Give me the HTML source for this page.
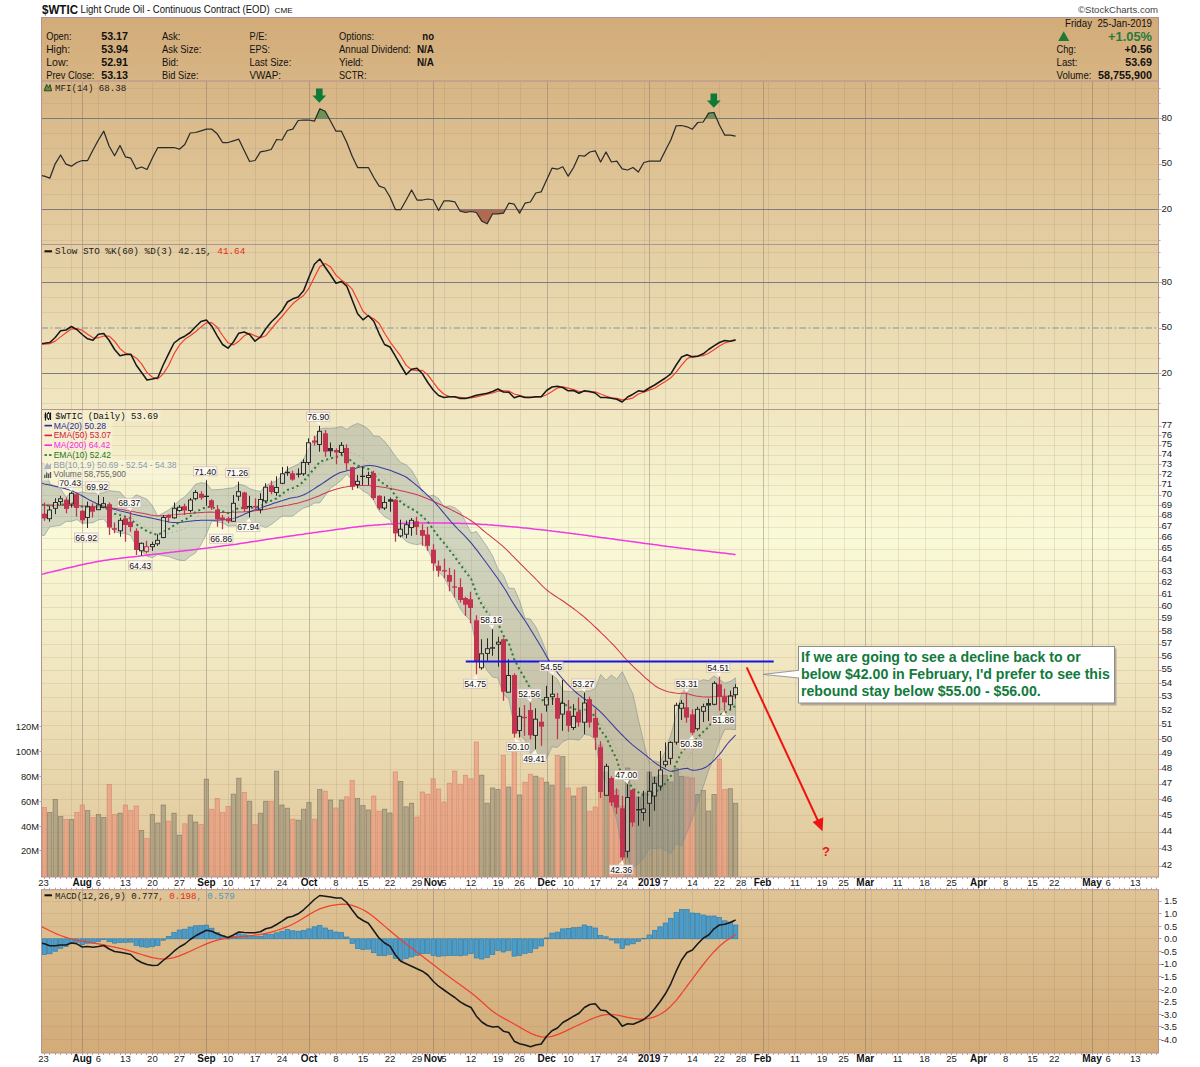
<!DOCTYPE html>
<html><head><meta charset="utf-8"><title>$WTIC</title>
<style>html,body{margin:0;padding:0;background:#fff;}body{width:1200px;height:1067px;overflow:hidden;font-family:"Liberation Sans",sans-serif;}text,.s{font-family:"Liberation Sans",sans-serif;}.m{font-family:"Liberation Mono",monospace;}</style></head>
<body>
<svg width="1200" height="1067" viewBox="0 0 1200 1067" style="display:block">
<defs>
<linearGradient id="bg" gradientUnits="userSpaceOnUse" x1="0" y1="17" x2="0" y2="1053">
<stop offset="0" stop-color="#d2ab78"/>
<stop offset="0.5" stop-color="#fafad8"/>
<stop offset="1" stop-color="#d2ab78"/>
</linearGradient>
<clipPath id="cpPrice"><rect x="41.5" y="409.5" width="1117" height="467.5"/></clipPath>
</defs>
<rect x="0" y="0" width="1200" height="1067" fill="#fff"/>
<rect x="41.5" y="17.5" width="1117" height="1035.5" fill="url(#bg)"/>
<rect x="40.5" y="877" width="1119" height="12.7" fill="#fff"/>
<line x1="71.5" y1="81.5" x2="71.5" y2="877" stroke="rgba(140,118,98,0.17)" stroke-width="1"/>
<line x1="82.5" y1="81.5" x2="82.5" y2="877" stroke="rgba(112,100,95,0.38)" stroke-width="1"/>
<line x1="98.5" y1="81.5" x2="98.5" y2="877" stroke="rgba(140,118,98,0.17)" stroke-width="1"/>
<line x1="125.5" y1="81.5" x2="125.5" y2="877" stroke="rgba(140,118,98,0.17)" stroke-width="1"/>
<line x1="152.5" y1="81.5" x2="152.5" y2="877" stroke="rgba(140,118,98,0.17)" stroke-width="1"/>
<line x1="179.5" y1="81.5" x2="179.5" y2="877" stroke="rgba(140,118,98,0.17)" stroke-width="1"/>
<line x1="206.5" y1="81.5" x2="206.5" y2="877" stroke="rgba(112,100,95,0.38)" stroke-width="1"/>
<line x1="228.5" y1="81.5" x2="228.5" y2="877" stroke="rgba(140,118,98,0.17)" stroke-width="1"/>
<line x1="255.5" y1="81.5" x2="255.5" y2="877" stroke="rgba(140,118,98,0.17)" stroke-width="1"/>
<line x1="282.5" y1="81.5" x2="282.5" y2="877" stroke="rgba(140,118,98,0.17)" stroke-width="1"/>
<line x1="309.5" y1="81.5" x2="309.5" y2="877" stroke="rgba(112,100,95,0.38)" stroke-width="1"/>
<line x1="336.5" y1="81.5" x2="336.5" y2="877" stroke="rgba(140,118,98,0.17)" stroke-width="1"/>
<line x1="363.5" y1="81.5" x2="363.5" y2="877" stroke="rgba(140,118,98,0.17)" stroke-width="1"/>
<line x1="390.5" y1="81.5" x2="390.5" y2="877" stroke="rgba(140,118,98,0.17)" stroke-width="1"/>
<line x1="417.5" y1="81.5" x2="417.5" y2="877" stroke="rgba(140,118,98,0.17)" stroke-width="1"/>
<line x1="433.5" y1="81.5" x2="433.5" y2="877" stroke="rgba(112,100,95,0.38)" stroke-width="1"/>
<line x1="444.5" y1="81.5" x2="444.5" y2="877" stroke="rgba(140,118,98,0.17)" stroke-width="1"/>
<line x1="471.5" y1="81.5" x2="471.5" y2="877" stroke="rgba(140,118,98,0.17)" stroke-width="1"/>
<line x1="498.5" y1="81.5" x2="498.5" y2="877" stroke="rgba(140,118,98,0.17)" stroke-width="1"/>
<line x1="520.5" y1="81.5" x2="520.5" y2="877" stroke="rgba(140,118,98,0.17)" stroke-width="1"/>
<line x1="547.5" y1="81.5" x2="547.5" y2="877" stroke="rgba(112,100,95,0.38)" stroke-width="1"/>
<line x1="568.5" y1="81.5" x2="568.5" y2="877" stroke="rgba(140,118,98,0.17)" stroke-width="1"/>
<line x1="595.5" y1="81.5" x2="595.5" y2="877" stroke="rgba(140,118,98,0.17)" stroke-width="1"/>
<line x1="622.5" y1="81.5" x2="622.5" y2="877" stroke="rgba(140,118,98,0.17)" stroke-width="1"/>
<line x1="644.5" y1="81.5" x2="644.5" y2="877" stroke="rgba(140,118,98,0.17)" stroke-width="1"/>
<line x1="649.5" y1="81.5" x2="649.5" y2="877" stroke="rgba(112,100,95,0.38)" stroke-width="1"/>
<line x1="665.5" y1="81.5" x2="665.5" y2="877" stroke="rgba(140,118,98,0.17)" stroke-width="1"/>
<line x1="692.5" y1="81.5" x2="692.5" y2="877" stroke="rgba(140,118,98,0.17)" stroke-width="1"/>
<line x1="719.5" y1="81.5" x2="719.5" y2="877" stroke="rgba(140,118,98,0.17)" stroke-width="1"/>
<line x1="741.5" y1="81.5" x2="741.5" y2="877" stroke="rgba(140,118,98,0.17)" stroke-width="1"/>
<line x1="763.5" y1="81.5" x2="763.5" y2="877" stroke="rgba(112,100,95,0.38)" stroke-width="1"/>
<line x1="768.5" y1="81.5" x2="768.5" y2="877" stroke="rgba(140,118,98,0.17)" stroke-width="1"/>
<line x1="795.5" y1="81.5" x2="795.5" y2="877" stroke="rgba(140,118,98,0.17)" stroke-width="1"/>
<line x1="822.5" y1="81.5" x2="822.5" y2="877" stroke="rgba(140,118,98,0.17)" stroke-width="1"/>
<line x1="844.5" y1="81.5" x2="844.5" y2="877" stroke="rgba(140,118,98,0.17)" stroke-width="1"/>
<line x1="865.5" y1="81.5" x2="865.5" y2="877" stroke="rgba(112,100,95,0.38)" stroke-width="1"/>
<line x1="871.5" y1="81.5" x2="871.5" y2="877" stroke="rgba(140,118,98,0.17)" stroke-width="1"/>
<line x1="898.5" y1="81.5" x2="898.5" y2="877" stroke="rgba(140,118,98,0.17)" stroke-width="1"/>
<line x1="925.5" y1="81.5" x2="925.5" y2="877" stroke="rgba(140,118,98,0.17)" stroke-width="1"/>
<line x1="952.5" y1="81.5" x2="952.5" y2="877" stroke="rgba(140,118,98,0.17)" stroke-width="1"/>
<line x1="979.5" y1="81.5" x2="979.5" y2="877" stroke="rgba(140,118,98,0.17)" stroke-width="1"/>
<line x1="1006.5" y1="81.5" x2="1006.5" y2="877" stroke="rgba(140,118,98,0.17)" stroke-width="1"/>
<line x1="1033.5" y1="81.5" x2="1033.5" y2="877" stroke="rgba(140,118,98,0.17)" stroke-width="1"/>
<line x1="1054.5" y1="81.5" x2="1054.5" y2="877" stroke="rgba(140,118,98,0.17)" stroke-width="1"/>
<line x1="1081.5" y1="81.5" x2="1081.5" y2="877" stroke="rgba(140,118,98,0.17)" stroke-width="1"/>
<line x1="1092.5" y1="81.5" x2="1092.5" y2="877" stroke="rgba(112,100,95,0.38)" stroke-width="1"/>
<line x1="1108.5" y1="81.5" x2="1108.5" y2="877" stroke="rgba(140,118,98,0.17)" stroke-width="1"/>
<line x1="1135.5" y1="81.5" x2="1135.5" y2="877" stroke="rgba(140,118,98,0.17)" stroke-width="1"/>
<line x1="71.5" y1="889.7" x2="71.5" y2="1053" stroke="rgba(140,118,98,0.17)" stroke-width="1"/>
<line x1="82.5" y1="889.7" x2="82.5" y2="1053" stroke="rgba(112,100,95,0.38)" stroke-width="1"/>
<line x1="98.5" y1="889.7" x2="98.5" y2="1053" stroke="rgba(140,118,98,0.17)" stroke-width="1"/>
<line x1="125.5" y1="889.7" x2="125.5" y2="1053" stroke="rgba(140,118,98,0.17)" stroke-width="1"/>
<line x1="152.5" y1="889.7" x2="152.5" y2="1053" stroke="rgba(140,118,98,0.17)" stroke-width="1"/>
<line x1="179.5" y1="889.7" x2="179.5" y2="1053" stroke="rgba(140,118,98,0.17)" stroke-width="1"/>
<line x1="206.5" y1="889.7" x2="206.5" y2="1053" stroke="rgba(112,100,95,0.38)" stroke-width="1"/>
<line x1="228.5" y1="889.7" x2="228.5" y2="1053" stroke="rgba(140,118,98,0.17)" stroke-width="1"/>
<line x1="255.5" y1="889.7" x2="255.5" y2="1053" stroke="rgba(140,118,98,0.17)" stroke-width="1"/>
<line x1="282.5" y1="889.7" x2="282.5" y2="1053" stroke="rgba(140,118,98,0.17)" stroke-width="1"/>
<line x1="309.5" y1="889.7" x2="309.5" y2="1053" stroke="rgba(112,100,95,0.38)" stroke-width="1"/>
<line x1="336.5" y1="889.7" x2="336.5" y2="1053" stroke="rgba(140,118,98,0.17)" stroke-width="1"/>
<line x1="363.5" y1="889.7" x2="363.5" y2="1053" stroke="rgba(140,118,98,0.17)" stroke-width="1"/>
<line x1="390.5" y1="889.7" x2="390.5" y2="1053" stroke="rgba(140,118,98,0.17)" stroke-width="1"/>
<line x1="417.5" y1="889.7" x2="417.5" y2="1053" stroke="rgba(140,118,98,0.17)" stroke-width="1"/>
<line x1="433.5" y1="889.7" x2="433.5" y2="1053" stroke="rgba(112,100,95,0.38)" stroke-width="1"/>
<line x1="444.5" y1="889.7" x2="444.5" y2="1053" stroke="rgba(140,118,98,0.17)" stroke-width="1"/>
<line x1="471.5" y1="889.7" x2="471.5" y2="1053" stroke="rgba(140,118,98,0.17)" stroke-width="1"/>
<line x1="498.5" y1="889.7" x2="498.5" y2="1053" stroke="rgba(140,118,98,0.17)" stroke-width="1"/>
<line x1="520.5" y1="889.7" x2="520.5" y2="1053" stroke="rgba(140,118,98,0.17)" stroke-width="1"/>
<line x1="547.5" y1="889.7" x2="547.5" y2="1053" stroke="rgba(112,100,95,0.38)" stroke-width="1"/>
<line x1="568.5" y1="889.7" x2="568.5" y2="1053" stroke="rgba(140,118,98,0.17)" stroke-width="1"/>
<line x1="595.5" y1="889.7" x2="595.5" y2="1053" stroke="rgba(140,118,98,0.17)" stroke-width="1"/>
<line x1="622.5" y1="889.7" x2="622.5" y2="1053" stroke="rgba(140,118,98,0.17)" stroke-width="1"/>
<line x1="644.5" y1="889.7" x2="644.5" y2="1053" stroke="rgba(140,118,98,0.17)" stroke-width="1"/>
<line x1="649.5" y1="889.7" x2="649.5" y2="1053" stroke="rgba(112,100,95,0.38)" stroke-width="1"/>
<line x1="665.5" y1="889.7" x2="665.5" y2="1053" stroke="rgba(140,118,98,0.17)" stroke-width="1"/>
<line x1="692.5" y1="889.7" x2="692.5" y2="1053" stroke="rgba(140,118,98,0.17)" stroke-width="1"/>
<line x1="719.5" y1="889.7" x2="719.5" y2="1053" stroke="rgba(140,118,98,0.17)" stroke-width="1"/>
<line x1="741.5" y1="889.7" x2="741.5" y2="1053" stroke="rgba(140,118,98,0.17)" stroke-width="1"/>
<line x1="763.5" y1="889.7" x2="763.5" y2="1053" stroke="rgba(112,100,95,0.38)" stroke-width="1"/>
<line x1="768.5" y1="889.7" x2="768.5" y2="1053" stroke="rgba(140,118,98,0.17)" stroke-width="1"/>
<line x1="795.5" y1="889.7" x2="795.5" y2="1053" stroke="rgba(140,118,98,0.17)" stroke-width="1"/>
<line x1="822.5" y1="889.7" x2="822.5" y2="1053" stroke="rgba(140,118,98,0.17)" stroke-width="1"/>
<line x1="844.5" y1="889.7" x2="844.5" y2="1053" stroke="rgba(140,118,98,0.17)" stroke-width="1"/>
<line x1="865.5" y1="889.7" x2="865.5" y2="1053" stroke="rgba(112,100,95,0.38)" stroke-width="1"/>
<line x1="871.5" y1="889.7" x2="871.5" y2="1053" stroke="rgba(140,118,98,0.17)" stroke-width="1"/>
<line x1="898.5" y1="889.7" x2="898.5" y2="1053" stroke="rgba(140,118,98,0.17)" stroke-width="1"/>
<line x1="925.5" y1="889.7" x2="925.5" y2="1053" stroke="rgba(140,118,98,0.17)" stroke-width="1"/>
<line x1="952.5" y1="889.7" x2="952.5" y2="1053" stroke="rgba(140,118,98,0.17)" stroke-width="1"/>
<line x1="979.5" y1="889.7" x2="979.5" y2="1053" stroke="rgba(140,118,98,0.17)" stroke-width="1"/>
<line x1="1006.5" y1="889.7" x2="1006.5" y2="1053" stroke="rgba(140,118,98,0.17)" stroke-width="1"/>
<line x1="1033.5" y1="889.7" x2="1033.5" y2="1053" stroke="rgba(140,118,98,0.17)" stroke-width="1"/>
<line x1="1054.5" y1="889.7" x2="1054.5" y2="1053" stroke="rgba(140,118,98,0.17)" stroke-width="1"/>
<line x1="1081.5" y1="889.7" x2="1081.5" y2="1053" stroke="rgba(140,118,98,0.17)" stroke-width="1"/>
<line x1="1092.5" y1="889.7" x2="1092.5" y2="1053" stroke="rgba(112,100,95,0.38)" stroke-width="1"/>
<line x1="1108.5" y1="889.7" x2="1108.5" y2="1053" stroke="rgba(140,118,98,0.17)" stroke-width="1"/>
<line x1="1135.5" y1="889.7" x2="1135.5" y2="1053" stroke="rgba(140,118,98,0.17)" stroke-width="1"/>
<line x1="41.5" y1="240.5" x2="1158.5" y2="240.5" stroke="rgba(165,130,105,0.17)" stroke-width="1" />
<line x1="41.5" y1="224.5" x2="1158.5" y2="224.5" stroke="rgba(165,130,105,0.17)" stroke-width="1" />
<line x1="41.5" y1="194.5" x2="1158.5" y2="194.5" stroke="rgba(165,130,105,0.17)" stroke-width="1" />
<line x1="41.5" y1="179.5" x2="1158.5" y2="179.5" stroke="rgba(165,130,105,0.17)" stroke-width="1" />
<line x1="41.5" y1="164.5" x2="1158.5" y2="164.5" stroke="rgba(165,130,105,0.17)" stroke-width="1" />
<line x1="41.5" y1="148.5" x2="1158.5" y2="148.5" stroke="rgba(165,130,105,0.17)" stroke-width="1" />
<line x1="41.5" y1="133.5" x2="1158.5" y2="133.5" stroke="rgba(165,130,105,0.17)" stroke-width="1" />
<line x1="41.5" y1="103.5" x2="1158.5" y2="103.5" stroke="rgba(165,130,105,0.17)" stroke-width="1" />
<line x1="41.5" y1="88.5" x2="1158.5" y2="88.5" stroke="rgba(165,130,105,0.17)" stroke-width="1" />
<line x1="41.5" y1="209.5" x2="1158.5" y2="209.5" stroke="#7b7b85" stroke-width="1" />
<line x1="41.5" y1="118.5" x2="1158.5" y2="118.5" stroke="#7b7b85" stroke-width="1" />
<clipPath id="c80"><rect x="41.5" y="82" width="1117" height="36.5"/></clipPath>
<clipPath id="c20"><rect x="41.5" y="209.5" width="1117" height="36"/></clipPath>
<polygon clip-path="url(#c80)" fill="#5f8f4f" fill-opacity="0.9" points="41.6,175.7 44.4,176.2 49.8,178.2 55.2,163.8 60.6,155 66,164.2 71.4,166.2 76.8,162.5 82.2,160.5 87.6,160.5 93,150 98.4,140 103.8,131.2 109.2,146.2 114.6,155.8 120,145.5 125.4,156.8 130.8,158.2 136.2,168.8 141.6,167 147,169.5 152.4,158 157.8,147.5 163.2,147.5 168.6,147.5 174,147.5 179.4,149.2 184.8,144.5 190.2,133 195.6,132.5 201,130.8 206.4,129.2 211.8,129.2 217.2,133.8 222.6,142.5 228,142.5 233.4,140.8 238.8,139.2 244.2,150.5 249.6,161.5 255,160.5 260.4,151.8 265.8,150.8 271.2,149.5 276.6,139.5 282,140 287.4,130.5 292.8,129.2 298.2,120.5 303.6,120 309,120 314.4,121.2 319.8,108.8 325.2,111.2 330.6,121.2 336,131.2 341.4,131.2 346.8,142.5 352.2,156.2 357.6,167.5 363,167.5 368.4,167.5 373.8,177.5 379.2,186.2 384.6,188 390,197 395.4,209.5 400.8,209.5 406.2,200 411.6,190 417,200 422.4,200 427.8,199 433.2,200 438.6,210.5 444,200.8 449.4,200.8 454.8,201.8 460.2,211.2 465.6,212.5 471,211.5 476.4,212.5 481.8,221.2 487.2,223.8 492.6,213.8 498,213.8 503.4,213.2 508.8,203.2 514.2,204.2 519.6,213.2 525,203.2 530.4,202 535.8,193 541.2,191.8 546.6,180 552,168.2 557.4,169.2 562.8,166.8 568.2,176.2 573.6,167.5 579,155.5 584.4,156.2 589.8,152 595.2,150.8 600.6,162 606,152 611.4,162 616.8,161.2 622.2,168.8 627.6,170 633,167.5 638.4,172 643.8,162.5 649.2,161.2 654.6,161.2 660,161.2 665.4,150.5 670.8,140 676.2,125.8 681.6,125.5 687,126.8 692.4,129.2 697.8,122.5 703.2,122 708.6,113.2 714,112.5 719.4,125 724.8,135.2 730.2,135.2 735.6,136.2 735.6,118.5 41.6,118.5"/>
<polygon clip-path="url(#c20)" fill="#a8604a" fill-opacity="0.9" points="41.6,175.7 44.4,176.2 49.8,178.2 55.2,163.8 60.6,155 66,164.2 71.4,166.2 76.8,162.5 82.2,160.5 87.6,160.5 93,150 98.4,140 103.8,131.2 109.2,146.2 114.6,155.8 120,145.5 125.4,156.8 130.8,158.2 136.2,168.8 141.6,167 147,169.5 152.4,158 157.8,147.5 163.2,147.5 168.6,147.5 174,147.5 179.4,149.2 184.8,144.5 190.2,133 195.6,132.5 201,130.8 206.4,129.2 211.8,129.2 217.2,133.8 222.6,142.5 228,142.5 233.4,140.8 238.8,139.2 244.2,150.5 249.6,161.5 255,160.5 260.4,151.8 265.8,150.8 271.2,149.5 276.6,139.5 282,140 287.4,130.5 292.8,129.2 298.2,120.5 303.6,120 309,120 314.4,121.2 319.8,108.8 325.2,111.2 330.6,121.2 336,131.2 341.4,131.2 346.8,142.5 352.2,156.2 357.6,167.5 363,167.5 368.4,167.5 373.8,177.5 379.2,186.2 384.6,188 390,197 395.4,209.5 400.8,209.5 406.2,200 411.6,190 417,200 422.4,200 427.8,199 433.2,200 438.6,210.5 444,200.8 449.4,200.8 454.8,201.8 460.2,211.2 465.6,212.5 471,211.5 476.4,212.5 481.8,221.2 487.2,223.8 492.6,213.8 498,213.8 503.4,213.2 508.8,203.2 514.2,204.2 519.6,213.2 525,203.2 530.4,202 535.8,193 541.2,191.8 546.6,180 552,168.2 557.4,169.2 562.8,166.8 568.2,176.2 573.6,167.5 579,155.5 584.4,156.2 589.8,152 595.2,150.8 600.6,162 606,152 611.4,162 616.8,161.2 622.2,168.8 627.6,170 633,167.5 638.4,172 643.8,162.5 649.2,161.2 654.6,161.2 660,161.2 665.4,150.5 670.8,140 676.2,125.8 681.6,125.5 687,126.8 692.4,129.2 697.8,122.5 703.2,122 708.6,113.2 714,112.5 719.4,125 724.8,135.2 730.2,135.2 735.6,136.2 735.6,209.5 41.6,209.5"/>
<polyline fill="none" stroke="#2b2b2b" stroke-width="1.25" stroke-linejoin="round" points="41.6,175.7 44.4,176.2 49.8,178.2 55.2,163.8 60.6,155 66,164.2 71.4,166.2 76.8,162.5 82.2,160.5 87.6,160.5 93,150 98.4,140 103.8,131.2 109.2,146.2 114.6,155.8 120,145.5 125.4,156.8 130.8,158.2 136.2,168.8 141.6,167 147,169.5 152.4,158 157.8,147.5 163.2,147.5 168.6,147.5 174,147.5 179.4,149.2 184.8,144.5 190.2,133 195.6,132.5 201,130.8 206.4,129.2 211.8,129.2 217.2,133.8 222.6,142.5 228,142.5 233.4,140.8 238.8,139.2 244.2,150.5 249.6,161.5 255,160.5 260.4,151.8 265.8,150.8 271.2,149.5 276.6,139.5 282,140 287.4,130.5 292.8,129.2 298.2,120.5 303.6,120 309,120 314.4,121.2 319.8,108.8 325.2,111.2 330.6,121.2 336,131.2 341.4,131.2 346.8,142.5 352.2,156.2 357.6,167.5 363,167.5 368.4,167.5 373.8,177.5 379.2,186.2 384.6,188 390,197 395.4,209.5 400.8,209.5 406.2,200 411.6,190 417,200 422.4,200 427.8,199 433.2,200 438.6,210.5 444,200.8 449.4,200.8 454.8,201.8 460.2,211.2 465.6,212.5 471,211.5 476.4,212.5 481.8,221.2 487.2,223.8 492.6,213.8 498,213.8 503.4,213.2 508.8,203.2 514.2,204.2 519.6,213.2 525,203.2 530.4,202 535.8,193 541.2,191.8 546.6,180 552,168.2 557.4,169.2 562.8,166.8 568.2,176.2 573.6,167.5 579,155.5 584.4,156.2 589.8,152 595.2,150.8 600.6,162 606,152 611.4,162 616.8,161.2 622.2,168.8 627.6,170 633,167.5 638.4,172 643.8,162.5 649.2,161.2 654.6,161.2 660,161.2 665.4,150.5 670.8,140 676.2,125.8 681.6,125.5 687,126.8 692.4,129.2 697.8,122.5 703.2,122 708.6,113.2 714,112.5 719.4,125 724.8,135.2 730.2,135.2 735.6,136.2"/>
<path d="M316 88.5 h6.6 v7 h3.6 l-6.9 7.2 l-6.9 -7.2 h3.6 z" fill="#0d7a38"/>
<path d="M710.5 93.5 h6.6 v7 h3.6 l-6.9 7.2 l-6.9 -7.2 h3.6 z" fill="#0d7a38"/>
<line x1="41.5" y1="403.5" x2="1158.5" y2="403.5" stroke="rgba(165,130,105,0.17)" stroke-width="1" />
<line x1="41.5" y1="388.5" x2="1158.5" y2="388.5" stroke="rgba(165,130,105,0.17)" stroke-width="1" />
<line x1="41.5" y1="358.5" x2="1158.5" y2="358.5" stroke="rgba(165,130,105,0.17)" stroke-width="1" />
<line x1="41.5" y1="343.5" x2="1158.5" y2="343.5" stroke="rgba(165,130,105,0.17)" stroke-width="1" />
<line x1="41.5" y1="312.5" x2="1158.5" y2="312.5" stroke="rgba(165,130,105,0.17)" stroke-width="1" />
<line x1="41.5" y1="297.5" x2="1158.5" y2="297.5" stroke="rgba(165,130,105,0.17)" stroke-width="1" />
<line x1="41.5" y1="267.5" x2="1158.5" y2="267.5" stroke="rgba(165,130,105,0.17)" stroke-width="1" />
<line x1="41.5" y1="252.5" x2="1158.5" y2="252.5" stroke="rgba(165,130,105,0.17)" stroke-width="1" />
<line x1="41.5" y1="373.5" x2="1158.5" y2="373.5" stroke="#7b7b85" stroke-width="1" />
<line x1="41.5" y1="282.5" x2="1158.5" y2="282.5" stroke="#7b7b85" stroke-width="1" />
<line x1="41.5" y1="328" x2="1158.5" y2="328" stroke="#aaaaa4" stroke-width="1.6" stroke-dasharray="6.5,2.5,1.8,2.5"/>
<polyline fill="none" stroke="#f0402e" stroke-width="1.2" stroke-linejoin="round" points="41.6,344.4 44.4,344.2 49.8,343.6 55.2,341.1 60.6,336.9 66,332.8 71.4,329.1 76.8,328.7 82.2,330.2 87.6,334.2 93,337.8 98.4,337.8 103.8,336 109.2,336.1 114.6,341.2 120,348.6 125.4,353.2 130.8,354.8 136.2,357.9 141.6,363.9 147,372.5 152.4,377.2 157.8,378.9 163.2,373.9 168.6,365.5 174,353.9 179.4,345.2 184.8,339.3 190.2,335.8 195.6,331.8 201,326.9 206.4,322.8 211.8,322.6 217.2,327.3 222.6,335.5 228,342.8 233.4,344.9 238.8,341.2 244.2,335.8 249.6,333.2 255,335.9 260.4,337.6 265.8,335.7 271.2,329.2 276.6,322.5 282,316.5 287.4,309.8 292.8,303.8 298.2,299.2 303.6,295.5 309,288.2 314.4,277.3 319.8,266.8 325.2,263.5 330.6,267.1 336,275.2 341.4,279.9 346.8,283.7 352.2,289.2 357.6,300 363,311.2 368.4,316.3 373.8,318.8 379.2,323.5 384.6,333.2 390,341.8 395.4,349.2 400.8,356.2 406.2,365.4 411.6,369.8 417,370.7 422.4,370.4 427.8,374.8 433.2,382.1 438.6,389.3 444,394.3 449.4,396.6 454.8,397 460.2,397.3 465.6,397.9 471,398 476.4,396.9 481.8,395.5 487.2,394.2 492.6,393 498,391.2 503.4,390.8 508.8,391.1 514.2,394 519.6,395.3 525,397.1 530.4,397 535.8,397.2 541.2,397 546.6,394.7 552,391.4 557.4,387.9 562.8,386.9 568.2,388.2 573.6,389.6 579,391.5 584.4,391.5 589.8,391.8 595.2,391.8 600.6,394 606,396 611.4,397.8 616.8,398.3 622.2,399.8 627.6,399.4 633,397.8 638.4,394 643.8,392.2 649.2,390.1 654.6,388.2 660,384.8 665.4,381.5 670.8,377.8 676.2,372.2 681.6,365.2 687,358.9 692.4,356.2 697.8,356 703.2,355.7 708.6,353.2 714,349.7 719.4,345.9 724.8,342.9 730.2,341.4 735.6,340.5"/>
<polyline fill="none" stroke="#181818" stroke-width="1.55" stroke-linejoin="round" points="41.6,343.4 44.4,343.2 49.8,342.5 55.2,337.5 60.6,330.8 66,330 71.4,326.5 76.8,329.5 82.2,334.5 87.6,338.8 93,340.2 98.4,334.2 103.8,333.5 109.2,340.5 114.6,349.5 120,355.8 125.4,354.5 130.8,354.2 136.2,365 141.6,372.5 147,380 152.4,379 157.8,377.8 163.2,365 168.6,353.8 174,343 179.4,338.8 184.8,336.2 190.2,332.5 195.6,326.8 201,321.5 206.4,320 211.8,326.2 217.2,335.8 222.6,344.5 228,348.2 233.4,342 238.8,333.2 244.2,332 249.6,334.5 255,341.2 260.4,337 265.8,328.8 271.2,322 276.6,316.8 282,310.8 287.4,302 292.8,298.8 298.2,297 303.6,290.8 309,277 314.4,264.2 319.8,259 325.2,267.2 330.6,275 336,283.2 341.4,281.5 346.8,286.2 352.2,300 357.6,313.8 363,319.8 368.4,315.5 373.8,321.2 379.2,333.8 384.6,344.5 390,347 395.4,356.2 400.8,365.5 406.2,374.5 411.6,369.2 417,368.2 422.4,373.8 427.8,382.5 433.2,390 438.6,395.5 444,397.5 449.4,396.8 454.8,396.8 460.2,398.5 465.6,398.5 471,397 476.4,395.2 481.8,394.2 487.2,393.2 492.6,391.5 498,389 503.4,392 508.8,392.2 514.2,397.8 519.6,396 525,397.5 530.4,397.5 535.8,396.8 541.2,396.8 546.6,390.5 552,387 557.4,386.2 562.8,387.5 568.2,390.8 573.6,390.5 579,393.2 584.4,390.8 589.8,391.5 595.2,393 600.6,397.5 606,397.5 611.4,398.2 616.8,399.2 622.2,402 627.6,397 633,394.2 638.4,390.8 643.8,391.5 649.2,388 654.6,385 660,381.5 665.4,378 670.8,373.8 676.2,365 681.6,357 687,354.8 692.4,357 697.8,356.2 703.2,353.8 708.6,349.5 714,345.8 719.4,342.5 724.8,340.5 730.2,341.2 735.6,339.8"/>
<line x1="41.5" y1="866.5" x2="1158.5" y2="866.5" stroke="rgba(165,130,105,0.17)" stroke-width="1" />
<line x1="41.5" y1="848.5" x2="1158.5" y2="848.5" stroke="rgba(165,130,105,0.17)" stroke-width="1" />
<line x1="41.5" y1="832.5" x2="1158.5" y2="832.5" stroke="rgba(165,130,105,0.17)" stroke-width="1" />
<line x1="41.5" y1="815.5" x2="1158.5" y2="815.5" stroke="rgba(165,130,105,0.17)" stroke-width="1" />
<line x1="41.5" y1="799.5" x2="1158.5" y2="799.5" stroke="rgba(165,130,105,0.17)" stroke-width="1" />
<line x1="41.5" y1="784.5" x2="1158.5" y2="784.5" stroke="rgba(165,130,105,0.17)" stroke-width="1" />
<line x1="41.5" y1="769.5" x2="1158.5" y2="769.5" stroke="rgba(165,130,105,0.17)" stroke-width="1" />
<line x1="41.5" y1="754.5" x2="1158.5" y2="754.5" stroke="rgba(165,130,105,0.17)" stroke-width="1" />
<line x1="41.5" y1="739.5" x2="1158.5" y2="739.5" stroke="rgba(165,130,105,0.17)" stroke-width="1" />
<line x1="41.5" y1="725.5" x2="1158.5" y2="725.5" stroke="rgba(165,130,105,0.17)" stroke-width="1" />
<line x1="41.5" y1="711.5" x2="1158.5" y2="711.5" stroke="rgba(165,130,105,0.17)" stroke-width="1" />
<line x1="41.5" y1="697.5" x2="1158.5" y2="697.5" stroke="rgba(165,130,105,0.17)" stroke-width="1" />
<line x1="41.5" y1="683.5" x2="1158.5" y2="683.5" stroke="rgba(165,130,105,0.17)" stroke-width="1" />
<line x1="41.5" y1="670.5" x2="1158.5" y2="670.5" stroke="rgba(165,130,105,0.17)" stroke-width="1" />
<line x1="41.5" y1="657.5" x2="1158.5" y2="657.5" stroke="rgba(165,130,105,0.17)" stroke-width="1" />
<line x1="41.5" y1="644.5" x2="1158.5" y2="644.5" stroke="rgba(165,130,105,0.17)" stroke-width="1" />
<line x1="41.5" y1="631.5" x2="1158.5" y2="631.5" stroke="rgba(165,130,105,0.17)" stroke-width="1" />
<line x1="41.5" y1="619.5" x2="1158.5" y2="619.5" stroke="rgba(165,130,105,0.17)" stroke-width="1" />
<line x1="41.5" y1="607.5" x2="1158.5" y2="607.5" stroke="rgba(165,130,105,0.17)" stroke-width="1" />
<line x1="41.5" y1="595.5" x2="1158.5" y2="595.5" stroke="rgba(165,130,105,0.17)" stroke-width="1" />
<line x1="41.5" y1="583.5" x2="1158.5" y2="583.5" stroke="rgba(165,130,105,0.17)" stroke-width="1" />
<line x1="41.5" y1="571.5" x2="1158.5" y2="571.5" stroke="rgba(165,130,105,0.17)" stroke-width="1" />
<line x1="41.5" y1="560.5" x2="1158.5" y2="560.5" stroke="rgba(165,130,105,0.17)" stroke-width="1" />
<line x1="41.5" y1="549.5" x2="1158.5" y2="549.5" stroke="rgba(165,130,105,0.17)" stroke-width="1" />
<line x1="41.5" y1="538.5" x2="1158.5" y2="538.5" stroke="rgba(165,130,105,0.17)" stroke-width="1" />
<line x1="41.5" y1="527.5" x2="1158.5" y2="527.5" stroke="rgba(165,130,105,0.17)" stroke-width="1" />
<line x1="41.5" y1="516.5" x2="1158.5" y2="516.5" stroke="rgba(165,130,105,0.17)" stroke-width="1" />
<line x1="41.5" y1="505.5" x2="1158.5" y2="505.5" stroke="rgba(165,130,105,0.17)" stroke-width="1" />
<line x1="41.5" y1="495.5" x2="1158.5" y2="495.5" stroke="rgba(165,130,105,0.17)" stroke-width="1" />
<line x1="41.5" y1="485.5" x2="1158.5" y2="485.5" stroke="rgba(165,130,105,0.17)" stroke-width="1" />
<line x1="41.5" y1="474.5" x2="1158.5" y2="474.5" stroke="rgba(165,130,105,0.17)" stroke-width="1" />
<line x1="41.5" y1="464.5" x2="1158.5" y2="464.5" stroke="rgba(165,130,105,0.17)" stroke-width="1" />
<line x1="41.5" y1="455.5" x2="1158.5" y2="455.5" stroke="rgba(165,130,105,0.17)" stroke-width="1" />
<line x1="41.5" y1="445.5" x2="1158.5" y2="445.5" stroke="rgba(165,130,105,0.17)" stroke-width="1" />
<line x1="41.5" y1="435.5" x2="1158.5" y2="435.5" stroke="rgba(165,130,105,0.17)" stroke-width="1" />
<line x1="41.5" y1="426.5" x2="1158.5" y2="426.5" stroke="rgba(165,130,105,0.17)" stroke-width="1" />
<g clip-path="url(#cpPrice)">
<rect x="42.2" y="807.5" width="4.3" height="70.3" fill="rgba(236,135,110,0.52)" stroke="rgba(208,112,98,0.55)" stroke-width="0.8"/>
<rect x="47.6" y="812.5" width="4.3" height="65.3" fill="rgba(152,142,116,0.62)" stroke="rgba(108,102,88,0.6)" stroke-width="0.8"/>
<rect x="53.1" y="799.5" width="4.3" height="78.3" fill="rgba(152,142,116,0.62)" stroke="rgba(108,102,88,0.6)" stroke-width="0.8"/>
<rect x="58.5" y="816.5" width="4.3" height="61.3" fill="rgba(152,142,116,0.62)" stroke="rgba(108,102,88,0.6)" stroke-width="0.8"/>
<rect x="63.9" y="819.5" width="4.3" height="58.3" fill="rgba(236,135,110,0.52)" stroke="rgba(208,112,98,0.55)" stroke-width="0.8"/>
<rect x="69.3" y="819.5" width="4.3" height="58.3" fill="rgba(152,142,116,0.62)" stroke="rgba(108,102,88,0.6)" stroke-width="0.8"/>
<rect x="74.7" y="812.5" width="4.3" height="65.3" fill="rgba(236,135,110,0.52)" stroke="rgba(208,112,98,0.55)" stroke-width="0.8"/>
<rect x="80.1" y="805" width="4.3" height="72.8" fill="rgba(236,135,110,0.52)" stroke="rgba(208,112,98,0.55)" stroke-width="0.8"/>
<rect x="85.5" y="810.5" width="4.3" height="67.3" fill="rgba(152,142,116,0.62)" stroke="rgba(108,102,88,0.6)" stroke-width="0.8"/>
<rect x="90.9" y="817.5" width="4.3" height="60.3" fill="rgba(236,135,110,0.52)" stroke="rgba(208,112,98,0.55)" stroke-width="0.8"/>
<rect x="96.3" y="814.5" width="4.3" height="63.3" fill="rgba(152,142,116,0.62)" stroke="rgba(108,102,88,0.6)" stroke-width="0.8"/>
<rect x="101.7" y="817.5" width="4.3" height="60.3" fill="rgba(152,142,116,0.62)" stroke="rgba(108,102,88,0.6)" stroke-width="0.8"/>
<rect x="107.1" y="784.5" width="4.3" height="93.3" fill="rgba(236,135,110,0.52)" stroke="rgba(208,112,98,0.55)" stroke-width="0.8"/>
<rect x="112.5" y="814.5" width="4.3" height="63.3" fill="rgba(236,135,110,0.52)" stroke="rgba(208,112,98,0.55)" stroke-width="0.8"/>
<rect x="117.9" y="813.2" width="4.3" height="64.5" fill="rgba(152,142,116,0.62)" stroke="rgba(108,102,88,0.6)" stroke-width="0.8"/>
<rect x="123.3" y="805" width="4.3" height="72.8" fill="rgba(236,135,110,0.52)" stroke="rgba(208,112,98,0.55)" stroke-width="0.8"/>
<rect x="128.7" y="810.5" width="4.3" height="67.3" fill="rgba(236,135,110,0.52)" stroke="rgba(208,112,98,0.55)" stroke-width="0.8"/>
<rect x="134.1" y="806" width="4.3" height="71.8" fill="rgba(236,135,110,0.52)" stroke="rgba(208,112,98,0.55)" stroke-width="0.8"/>
<rect x="139.4" y="830.5" width="4.3" height="47.3" fill="rgba(152,142,116,0.62)" stroke="rgba(108,102,88,0.6)" stroke-width="0.8"/>
<rect x="144.8" y="838.5" width="4.3" height="39.3" fill="rgba(236,135,110,0.52)" stroke="rgba(208,112,98,0.55)" stroke-width="0.8"/>
<rect x="150.2" y="814.5" width="4.3" height="63.3" fill="rgba(152,142,116,0.62)" stroke="rgba(108,102,88,0.6)" stroke-width="0.8"/>
<rect x="155.7" y="823" width="4.3" height="54.8" fill="rgba(152,142,116,0.62)" stroke="rgba(108,102,88,0.6)" stroke-width="0.8"/>
<rect x="161.1" y="805" width="4.3" height="72.8" fill="rgba(152,142,116,0.62)" stroke="rgba(108,102,88,0.6)" stroke-width="0.8"/>
<rect x="166.4" y="821.2" width="4.3" height="56.5" fill="rgba(236,135,110,0.52)" stroke="rgba(208,112,98,0.55)" stroke-width="0.8"/>
<rect x="171.9" y="813.2" width="4.3" height="64.5" fill="rgba(152,142,116,0.62)" stroke="rgba(108,102,88,0.6)" stroke-width="0.8"/>
<rect x="177.2" y="835.2" width="4.3" height="42.5" fill="rgba(152,142,116,0.62)" stroke="rgba(108,102,88,0.6)" stroke-width="0.8"/>
<rect x="182.7" y="823.8" width="4.3" height="54" fill="rgba(236,135,110,0.52)" stroke="rgba(208,112,98,0.55)" stroke-width="0.8"/>
<rect x="188.1" y="815" width="4.3" height="62.8" fill="rgba(152,142,116,0.62)" stroke="rgba(108,102,88,0.6)" stroke-width="0.8"/>
<rect x="193.5" y="822" width="4.3" height="55.8" fill="rgba(152,142,116,0.62)" stroke="rgba(108,102,88,0.6)" stroke-width="0.8"/>
<rect x="198.9" y="824.5" width="4.3" height="53.3" fill="rgba(236,135,110,0.52)" stroke="rgba(208,112,98,0.55)" stroke-width="0.8"/>
<rect x="204.2" y="779.2" width="4.3" height="98.5" fill="rgba(152,142,116,0.62)" stroke="rgba(108,102,88,0.6)" stroke-width="0.8"/>
<rect x="209.7" y="809.2" width="4.3" height="68.5" fill="rgba(236,135,110,0.52)" stroke="rgba(208,112,98,0.55)" stroke-width="0.8"/>
<rect x="215.1" y="798.5" width="4.3" height="79.3" fill="rgba(236,135,110,0.52)" stroke="rgba(208,112,98,0.55)" stroke-width="0.8"/>
<rect x="220.5" y="812.5" width="4.3" height="65.3" fill="rgba(236,135,110,0.52)" stroke="rgba(208,112,98,0.55)" stroke-width="0.8"/>
<rect x="225.9" y="806.5" width="4.3" height="71.3" fill="rgba(236,135,110,0.52)" stroke="rgba(208,112,98,0.55)" stroke-width="0.8"/>
<rect x="231.2" y="794.2" width="4.3" height="83.5" fill="rgba(152,142,116,0.62)" stroke="rgba(108,102,88,0.6)" stroke-width="0.8"/>
<rect x="236.7" y="778.2" width="4.3" height="99.5" fill="rgba(152,142,116,0.62)" stroke="rgba(108,102,88,0.6)" stroke-width="0.8"/>
<rect x="242.1" y="792.5" width="4.3" height="85.3" fill="rgba(236,135,110,0.52)" stroke="rgba(208,112,98,0.55)" stroke-width="0.8"/>
<rect x="247.5" y="801.2" width="4.3" height="76.5" fill="rgba(152,142,116,0.62)" stroke="rgba(108,102,88,0.6)" stroke-width="0.8"/>
<rect x="252.9" y="824.5" width="4.3" height="53.3" fill="rgba(236,135,110,0.52)" stroke="rgba(208,112,98,0.55)" stroke-width="0.8"/>
<rect x="258.2" y="813.2" width="4.3" height="64.5" fill="rgba(152,142,116,0.62)" stroke="rgba(108,102,88,0.6)" stroke-width="0.8"/>
<rect x="263.6" y="801.2" width="4.3" height="76.5" fill="rgba(152,142,116,0.62)" stroke="rgba(108,102,88,0.6)" stroke-width="0.8"/>
<rect x="269" y="801.2" width="4.3" height="76.5" fill="rgba(236,135,110,0.52)" stroke="rgba(208,112,98,0.55)" stroke-width="0.8"/>
<rect x="274.4" y="771.2" width="4.3" height="106.5" fill="rgba(152,142,116,0.62)" stroke="rgba(108,102,88,0.6)" stroke-width="0.8"/>
<rect x="279.8" y="805" width="4.3" height="72.8" fill="rgba(152,142,116,0.62)" stroke="rgba(108,102,88,0.6)" stroke-width="0.8"/>
<rect x="285.2" y="808.2" width="4.3" height="69.5" fill="rgba(152,142,116,0.62)" stroke="rgba(108,102,88,0.6)" stroke-width="0.8"/>
<rect x="290.6" y="819.2" width="4.3" height="58.5" fill="rgba(236,135,110,0.52)" stroke="rgba(208,112,98,0.55)" stroke-width="0.8"/>
<rect x="296" y="820.2" width="4.3" height="57.5" fill="rgba(152,142,116,0.62)" stroke="rgba(108,102,88,0.6)" stroke-width="0.8"/>
<rect x="301.4" y="809.2" width="4.3" height="68.5" fill="rgba(152,142,116,0.62)" stroke="rgba(108,102,88,0.6)" stroke-width="0.8"/>
<rect x="306.8" y="802.5" width="4.3" height="75.3" fill="rgba(152,142,116,0.62)" stroke="rgba(108,102,88,0.6)" stroke-width="0.8"/>
<rect x="312.2" y="819.2" width="4.3" height="58.5" fill="rgba(236,135,110,0.52)" stroke="rgba(208,112,98,0.55)" stroke-width="0.8"/>
<rect x="317.6" y="789.5" width="4.3" height="88.3" fill="rgba(152,142,116,0.62)" stroke="rgba(108,102,88,0.6)" stroke-width="0.8"/>
<rect x="323" y="791.2" width="4.3" height="86.5" fill="rgba(236,135,110,0.52)" stroke="rgba(208,112,98,0.55)" stroke-width="0.8"/>
<rect x="328.4" y="800" width="4.3" height="77.8" fill="rgba(152,142,116,0.62)" stroke="rgba(108,102,88,0.6)" stroke-width="0.8"/>
<rect x="333.8" y="808" width="4.3" height="69.8" fill="rgba(236,135,110,0.52)" stroke="rgba(208,112,98,0.55)" stroke-width="0.8"/>
<rect x="339.2" y="800" width="4.3" height="77.8" fill="rgba(152,142,116,0.62)" stroke="rgba(108,102,88,0.6)" stroke-width="0.8"/>
<rect x="344.6" y="796.8" width="4.3" height="81" fill="rgba(236,135,110,0.52)" stroke="rgba(208,112,98,0.55)" stroke-width="0.8"/>
<rect x="350" y="780.5" width="4.3" height="97.3" fill="rgba(236,135,110,0.52)" stroke="rgba(208,112,98,0.55)" stroke-width="0.8"/>
<rect x="355.4" y="798.5" width="4.3" height="79.3" fill="rgba(152,142,116,0.62)" stroke="rgba(108,102,88,0.6)" stroke-width="0.8"/>
<rect x="360.8" y="805.5" width="4.3" height="72.3" fill="rgba(152,142,116,0.62)" stroke="rgba(108,102,88,0.6)" stroke-width="0.8"/>
<rect x="366.2" y="810" width="4.3" height="67.8" fill="rgba(152,142,116,0.62)" stroke="rgba(108,102,88,0.6)" stroke-width="0.8"/>
<rect x="371.6" y="796" width="4.3" height="81.8" fill="rgba(236,135,110,0.52)" stroke="rgba(208,112,98,0.55)" stroke-width="0.8"/>
<rect x="377" y="811.2" width="4.3" height="66.5" fill="rgba(236,135,110,0.52)" stroke="rgba(208,112,98,0.55)" stroke-width="0.8"/>
<rect x="382.4" y="809.2" width="4.3" height="68.5" fill="rgba(152,142,116,0.62)" stroke="rgba(108,102,88,0.6)" stroke-width="0.8"/>
<rect x="387.8" y="813" width="4.3" height="64.8" fill="rgba(152,142,116,0.62)" stroke="rgba(108,102,88,0.6)" stroke-width="0.8"/>
<rect x="393.2" y="771.8" width="4.3" height="106" fill="rgba(236,135,110,0.52)" stroke="rgba(208,112,98,0.55)" stroke-width="0.8"/>
<rect x="398.6" y="781.5" width="4.3" height="96.3" fill="rgba(152,142,116,0.62)" stroke="rgba(108,102,88,0.6)" stroke-width="0.8"/>
<rect x="404" y="806.8" width="4.3" height="71" fill="rgba(152,142,116,0.62)" stroke="rgba(108,102,88,0.6)" stroke-width="0.8"/>
<rect x="409.4" y="803.2" width="4.3" height="74.5" fill="rgba(152,142,116,0.62)" stroke="rgba(108,102,88,0.6)" stroke-width="0.8"/>
<rect x="414.8" y="817" width="4.3" height="60.8" fill="rgba(236,135,110,0.52)" stroke="rgba(208,112,98,0.55)" stroke-width="0.8"/>
<rect x="420.2" y="792" width="4.3" height="85.8" fill="rgba(236,135,110,0.52)" stroke="rgba(208,112,98,0.55)" stroke-width="0.8"/>
<rect x="425.6" y="794.2" width="4.3" height="83.5" fill="rgba(236,135,110,0.52)" stroke="rgba(208,112,98,0.55)" stroke-width="0.8"/>
<rect x="431" y="778.8" width="4.3" height="99" fill="rgba(236,135,110,0.52)" stroke="rgba(208,112,98,0.55)" stroke-width="0.8"/>
<rect x="436.4" y="789" width="4.3" height="88.8" fill="rgba(236,135,110,0.52)" stroke="rgba(208,112,98,0.55)" stroke-width="0.8"/>
<rect x="441.8" y="802" width="4.3" height="75.8" fill="rgba(236,135,110,0.52)" stroke="rgba(208,112,98,0.55)" stroke-width="0.8"/>
<rect x="447.2" y="783.2" width="4.3" height="94.5" fill="rgba(236,135,110,0.52)" stroke="rgba(208,112,98,0.55)" stroke-width="0.8"/>
<rect x="452.6" y="771" width="4.3" height="106.8" fill="rgba(236,135,110,0.52)" stroke="rgba(208,112,98,0.55)" stroke-width="0.8"/>
<rect x="458" y="784.2" width="4.3" height="93.5" fill="rgba(236,135,110,0.52)" stroke="rgba(208,112,98,0.55)" stroke-width="0.8"/>
<rect x="463.4" y="775.2" width="4.3" height="102.5" fill="rgba(236,135,110,0.52)" stroke="rgba(208,112,98,0.55)" stroke-width="0.8"/>
<rect x="468.8" y="778.8" width="4.3" height="99" fill="rgba(236,135,110,0.52)" stroke="rgba(208,112,98,0.55)" stroke-width="0.8"/>
<rect x="474.2" y="742" width="4.3" height="135.8" fill="rgba(236,135,110,0.52)" stroke="rgba(208,112,98,0.55)" stroke-width="0.8"/>
<rect x="479.6" y="775.2" width="4.3" height="102.5" fill="rgba(152,142,116,0.62)" stroke="rgba(108,102,88,0.6)" stroke-width="0.8"/>
<rect x="485" y="803.2" width="4.3" height="74.5" fill="rgba(152,142,116,0.62)" stroke="rgba(108,102,88,0.6)" stroke-width="0.8"/>
<rect x="490.4" y="788" width="4.3" height="89.8" fill="rgba(152,142,116,0.62)" stroke="rgba(108,102,88,0.6)" stroke-width="0.8"/>
<rect x="495.8" y="789.5" width="4.3" height="88.3" fill="rgba(152,142,116,0.62)" stroke="rgba(108,102,88,0.6)" stroke-width="0.8"/>
<rect x="501.2" y="755.5" width="4.3" height="122.3" fill="rgba(236,135,110,0.52)" stroke="rgba(208,112,98,0.55)" stroke-width="0.8"/>
<rect x="506.6" y="787" width="4.3" height="90.8" fill="rgba(152,142,116,0.62)" stroke="rgba(108,102,88,0.6)" stroke-width="0.8"/>
<rect x="512.1" y="748.8" width="4.3" height="129" fill="rgba(236,135,110,0.52)" stroke="rgba(208,112,98,0.55)" stroke-width="0.8"/>
<rect x="517.5" y="795" width="4.3" height="82.8" fill="rgba(152,142,116,0.62)" stroke="rgba(108,102,88,0.6)" stroke-width="0.8"/>
<rect x="522.9" y="782.2" width="4.3" height="95.5" fill="rgba(236,135,110,0.52)" stroke="rgba(208,112,98,0.55)" stroke-width="0.8"/>
<rect x="528.3" y="774.2" width="4.3" height="103.5" fill="rgba(236,135,110,0.52)" stroke="rgba(208,112,98,0.55)" stroke-width="0.8"/>
<rect x="533.7" y="776.2" width="4.3" height="101.5" fill="rgba(152,142,116,0.62)" stroke="rgba(108,102,88,0.6)" stroke-width="0.8"/>
<rect x="539.1" y="778" width="4.3" height="99.8" fill="rgba(236,135,110,0.52)" stroke="rgba(208,112,98,0.55)" stroke-width="0.8"/>
<rect x="544.5" y="782.2" width="4.3" height="95.5" fill="rgba(152,142,116,0.62)" stroke="rgba(108,102,88,0.6)" stroke-width="0.8"/>
<rect x="549.9" y="785.2" width="4.3" height="92.5" fill="rgba(152,142,116,0.62)" stroke="rgba(108,102,88,0.6)" stroke-width="0.8"/>
<rect x="555.2" y="755.5" width="4.3" height="122.3" fill="rgba(236,135,110,0.52)" stroke="rgba(208,112,98,0.55)" stroke-width="0.8"/>
<rect x="560.7" y="756.5" width="4.3" height="121.3" fill="rgba(152,142,116,0.62)" stroke="rgba(108,102,88,0.6)" stroke-width="0.8"/>
<rect x="566.1" y="788" width="4.3" height="89.8" fill="rgba(236,135,110,0.52)" stroke="rgba(208,112,98,0.55)" stroke-width="0.8"/>
<rect x="571.5" y="796" width="4.3" height="81.8" fill="rgba(152,142,116,0.62)" stroke="rgba(108,102,88,0.6)" stroke-width="0.8"/>
<rect x="576.9" y="788" width="4.3" height="89.8" fill="rgba(236,135,110,0.52)" stroke="rgba(208,112,98,0.55)" stroke-width="0.8"/>
<rect x="582.2" y="787" width="4.3" height="90.8" fill="rgba(152,142,116,0.62)" stroke="rgba(108,102,88,0.6)" stroke-width="0.8"/>
<rect x="587.7" y="811.2" width="4.3" height="66.5" fill="rgba(236,135,110,0.52)" stroke="rgba(208,112,98,0.55)" stroke-width="0.8"/>
<rect x="593.1" y="807" width="4.3" height="70.8" fill="rgba(236,135,110,0.52)" stroke="rgba(208,112,98,0.55)" stroke-width="0.8"/>
<rect x="598.5" y="745" width="4.3" height="132.8" fill="rgba(236,135,110,0.52)" stroke="rgba(208,112,98,0.55)" stroke-width="0.8"/>
<rect x="603.9" y="772" width="4.3" height="105.8" fill="rgba(152,142,116,0.62)" stroke="rgba(108,102,88,0.6)" stroke-width="0.8"/>
<rect x="609.2" y="779" width="4.3" height="98.8" fill="rgba(236,135,110,0.52)" stroke="rgba(208,112,98,0.55)" stroke-width="0.8"/>
<rect x="614.7" y="790" width="4.3" height="87.8" fill="rgba(236,135,110,0.52)" stroke="rgba(208,112,98,0.55)" stroke-width="0.8"/>
<rect x="620.1" y="806" width="4.3" height="71.8" fill="rgba(236,135,110,0.52)" stroke="rgba(208,112,98,0.55)" stroke-width="0.8"/>
<rect x="625.5" y="768" width="4.3" height="109.8" fill="rgba(152,142,116,0.62)" stroke="rgba(108,102,88,0.6)" stroke-width="0.8"/>
<rect x="630.9" y="790" width="4.3" height="87.8" fill="rgba(236,135,110,0.52)" stroke="rgba(208,112,98,0.55)" stroke-width="0.8"/>
<rect x="636.2" y="797" width="4.3" height="80.8" fill="rgba(152,142,116,0.62)" stroke="rgba(108,102,88,0.6)" stroke-width="0.8"/>
<rect x="641.7" y="793" width="4.3" height="84.8" fill="rgba(152,142,116,0.62)" stroke="rgba(108,102,88,0.6)" stroke-width="0.8"/>
<rect x="647.1" y="772" width="4.3" height="105.8" fill="rgba(152,142,116,0.62)" stroke="rgba(108,102,88,0.6)" stroke-width="0.8"/>
<rect x="652.5" y="777" width="4.3" height="100.8" fill="rgba(152,142,116,0.62)" stroke="rgba(108,102,88,0.6)" stroke-width="0.8"/>
<rect x="657.9" y="775" width="4.3" height="102.8" fill="rgba(152,142,116,0.62)" stroke="rgba(108,102,88,0.6)" stroke-width="0.8"/>
<rect x="663.2" y="775.3" width="4.3" height="102.5" fill="rgba(152,142,116,0.62)" stroke="rgba(108,102,88,0.6)" stroke-width="0.8"/>
<rect x="668.7" y="782" width="4.3" height="95.8" fill="rgba(152,142,116,0.62)" stroke="rgba(108,102,88,0.6)" stroke-width="0.8"/>
<rect x="674.1" y="768.3" width="4.3" height="109.5" fill="rgba(152,142,116,0.62)" stroke="rgba(108,102,88,0.6)" stroke-width="0.8"/>
<rect x="679.5" y="776.3" width="4.3" height="101.5" fill="rgba(152,142,116,0.62)" stroke="rgba(108,102,88,0.6)" stroke-width="0.8"/>
<rect x="684.9" y="777" width="4.3" height="100.8" fill="rgba(236,135,110,0.52)" stroke="rgba(208,112,98,0.55)" stroke-width="0.8"/>
<rect x="690.2" y="778" width="4.3" height="99.8" fill="rgba(236,135,110,0.52)" stroke="rgba(208,112,98,0.55)" stroke-width="0.8"/>
<rect x="695.7" y="794.4" width="4.3" height="83.4" fill="rgba(152,142,116,0.62)" stroke="rgba(108,102,88,0.6)" stroke-width="0.8"/>
<rect x="701.1" y="790.4" width="4.3" height="87.4" fill="rgba(152,142,116,0.62)" stroke="rgba(108,102,88,0.6)" stroke-width="0.8"/>
<rect x="706.5" y="811" width="4.3" height="66.8" fill="rgba(152,142,116,0.62)" stroke="rgba(108,102,88,0.6)" stroke-width="0.8"/>
<rect x="711.9" y="794.4" width="4.3" height="83.4" fill="rgba(152,142,116,0.62)" stroke="rgba(108,102,88,0.6)" stroke-width="0.8"/>
<rect x="717.2" y="759" width="4.3" height="118.8" fill="rgba(236,135,110,0.52)" stroke="rgba(208,112,98,0.55)" stroke-width="0.8"/>
<rect x="722.7" y="789.6" width="4.3" height="88.2" fill="rgba(236,135,110,0.52)" stroke="rgba(208,112,98,0.55)" stroke-width="0.8"/>
<rect x="728.1" y="788.7" width="4.3" height="89.1" fill="rgba(152,142,116,0.62)" stroke="rgba(108,102,88,0.6)" stroke-width="0.8"/>
<rect x="733.5" y="803.3" width="4.3" height="74.5" fill="rgba(152,142,116,0.62)" stroke="rgba(108,102,88,0.6)" stroke-width="0.8"/>
<polygon points="41.6,462.7 44.4,463.7 49.8,483.6 55.2,486.4 60.6,488.5 66,497.2 71.4,492.7 76.8,493 82.2,491.9 87.6,493 93,493 98.4,493.2 103.8,492.7 109.2,490.6 114.6,491.3 120,491.9 125.4,498.1 130.8,499.7 136.2,494.8 141.6,497.1 147,499.2 152.4,505.8 157.8,516.2 163.2,513 168.6,510 174,505.6 179.4,500.4 184.8,496.7 190.2,491 195.6,484.2 201,482.7 206.4,483.5 211.8,489.9 217.2,489.6 222.6,489.2 228,488.3 233.4,487.8 238.8,484.3 244.2,485.3 249.6,488.6 255,490.4 260.4,491.4 265.8,485.5 271.2,483 276.6,480.7 282,475.4 287.4,469.2 292.8,466.8 298.2,464.3 303.6,459.1 309,447.9 314.4,440 319.8,428.9 325.2,428.1 330.6,428.3 336,427.8 341.4,426.5 346.8,429.5 352.2,425.6 357.6,423.4 363,425.6 368.4,429.2 373.8,436 379.2,436.4 384.6,441.3 390,448.3 395.4,456.2 400.8,462.6 406.2,464.8 411.6,470.2 417,479.5 422.4,492.5 427.8,496.4 433.2,495.1 438.6,498.5 444,507.1 449.4,505.9 454.8,507.7 460.2,511.9 465.6,521.6 471,533 476.4,531.6 481.8,539.1 487.2,546.9 492.6,555.9 498,569.2 503.4,574.9 508.8,588.1 514.2,588.5 519.6,600.8 525,618.4 530.4,619.1 535.8,626.8 541.2,638.6 546.6,652.7 552,674.8 557.4,679.4 562.8,690.8 568.2,691.6 573.6,691.6 579,691.7 584.4,691 589.8,690.9 595.2,688.9 600.6,674.6 606,680.2 611.4,675.1 616.8,679.3 622.2,671.6 627.6,682.9 633,694.3 638.4,719.5 643.8,742.7 649.2,763 654.6,760.9 660,762.4 665.4,751.4 670.8,735.1 676.2,715 681.6,693.9 687,686.2 692.4,684.8 697.8,681.9 703.2,679.7 708.6,680.6 714,676 719.4,679.6 724.8,683.2 730.2,681.5 735.6,677.9 735.6,729.7 730.2,729.2 724.8,729.4 719.4,741 714,757.5 708.6,770.3 703.2,786.7 697.8,801.4 692.4,818.5 687,832.4 681.6,845.7 676.2,843.4 670.8,853.8 665.4,850.5 660,847.8 654.6,848.6 649.2,848.2 643.8,857.7 638.4,863.6 633,867.4 627.6,858.8 622.2,853.9 616.8,819.9 611.4,803.3 606,781.4 600.6,772.6 595.2,739.4 589.8,735.2 584.4,734.5 579,740.2 573.6,739.3 568.2,739.3 562.8,741.7 557.4,747.5 552,746.7 546.6,758.4 541.2,762.8 535.8,759 530.4,753.5 525,739.6 519.6,735.2 514.2,725.2 508.8,698.9 503.4,694.4 498,678.1 492.6,677.1 487.2,670.6 481.8,661.3 476.4,647.2 471,620.6 465.6,615.8 460.2,608.7 454.8,597.7 449.4,588 444,577.2 438.6,571.9 433.2,561.7 427.8,549.4 422.4,543.6 417,544.6 411.6,543.7 406.2,541.4 400.8,536 395.4,529.2 390,519.5 384.6,516.7 379.2,511.3 373.8,500.4 368.4,493.9 363,490.9 357.6,486.4 352.2,480.4 346.8,474 341.4,480.2 336,484.4 330.6,488.1 325.2,495.6 319.8,502.9 314.4,503 309,506.4 303.6,508 298.2,511.6 292.8,516.1 287.4,516.2 282,516.1 276.6,520.3 271.2,524.5 265.8,527.5 260.4,525.6 255,526 249.6,526 244.2,526.4 238.8,525.7 233.4,525.9 228,526.2 222.6,522.7 217.2,521.8 211.8,521.2 206.4,534.2 201,544.6 195.6,552.8 190.2,556.2 184.8,560.6 179.4,560.2 174,558.5 168.6,556.5 163.2,555.7 157.8,554.5 152.4,557.6 147,556.3 141.6,551.4 136.2,546.4 130.8,535.6 125.4,533.4 120,533.2 114.6,531.5 109.2,526.1 103.8,519.1 98.4,519.8 93,522.7 87.6,523.1 82.2,523 76.8,519.6 71.4,521.4 66,521.4 60.6,525.3 55.2,526.1 49.8,526.7 44.4,535.4 41.6,535.4" fill="rgba(122,136,140,0.32)" stroke="rgba(120,140,150,0.55)" stroke-width="1" stroke-linejoin="round"/>
<polyline fill="none" stroke="rgba(140,150,165,0.55)" stroke-width="1" stroke-dasharray="1.5,3" points="44.4,499.5 49.8,505.1 55.2,506.2 60.6,506.9 66,509.3 71.4,507 76.8,506.3 82.2,507.5 87.6,508 93,507.9 98.4,506.5 103.8,505.9 109.2,508.4 114.6,511.4 120,512.5 125.4,515.7 130.8,517.6 136.2,520.6 141.6,524.2 147,527.8 152.4,531.7 157.8,535.4 163.2,534.4 168.6,533.2 174,532 179.4,530.3 184.8,528.6 190.2,523.6 195.6,518.5 201,513.6 206.4,508.8 211.8,505.6 217.2,505.7 222.6,505.9 228,507.2 233.4,506.9 238.8,505 244.2,505.9 249.6,507.3 255,508.2 260.4,508.5 265.8,506.5 271.2,503.8 276.6,500.5 282,495.8 287.4,492.7 292.8,491.5 298.2,488 303.6,483.6 309,477.2 314.4,471.5 319.8,465.9 325.2,461.9 330.6,458.2 336,456.1 341.4,453.4 346.8,451.8 352.2,453 357.6,454.9 363,458.2 368.4,461.5 373.8,468.2 379.2,473.9 384.6,479 390,483.9 395.4,492.7 400.8,499.3 406.2,503.1 411.6,507 417,512 422.4,518.1 427.8,522.9 433.2,528.4 438.6,535.2 444,542.1 449.4,547 454.8,552.7 460.2,560.3 465.6,568.7 471,576.8 476.4,589.4 481.8,600.2 487.2,608.7 492.6,616.5 498,623.6 503.4,634.6 508.8,643.5 514.2,656.9 519.6,668 525,679 530.4,686.3 535.8,692.9 541.2,700.7 546.6,705.5 552,710.8 557.4,713.5 562.8,716.2 568.2,715.5 573.6,715.5 579,716 584.4,712.7 589.8,713 595.2,714.1 600.6,723.6 606,730.8 611.4,739.2 616.8,749.6 622.2,762.8 627.6,770.9 633,780.9 638.4,791.5 643.8,800.2 649.2,805.6 654.6,804.7 660,805.1 665.4,801 670.8,794.5 676.2,779.2 681.6,769.8 687,759.3 692.4,751.6 697.8,741.6 703.2,733.2 708.6,725.4 714,716.8 719.4,710.3 724.8,706.3 730.2,705.4 735.6,703.8"/>
<polyline fill="none" stroke="#f238e2" stroke-width="1.5" stroke-linejoin="round" points="41.7,574.2 42.8,573.9 44.1,573.7 45.5,573.3 47,573 48.6,572.6 50.4,572.1 52.3,571.7 54.3,571.2 56.3,570.7 58.5,570.2 60.7,569.7 62.9,569.1 65.2,568.6 67.6,568 69.9,567.5 72.3,566.9 74.7,566.4 77.1,565.8 79.4,565.3 81.8,564.8 84.1,564.3 86.4,563.8 88.6,563.3 90.7,562.9 92.8,562.4 94.8,562.1 96.7,561.7 99,561.3 101.2,560.9 103.4,560.5 105.6,560.2 107.7,559.9 109.9,559.6 112,559.3 114.1,559 116.2,558.7 118.2,558.5 120.2,558.2 122.3,558 124.3,557.8 126.3,557.6 128.2,557.3 130.2,557.1 132.1,556.9 134.1,556.7 136,556.5 137.9,556.3 139.8,556 141.7,555.8 143.9,555.5 146,555.3 148,555 150,554.8 152,554.6 153.9,554.3 155.8,554.1 157.7,553.9 159.6,553.7 161.5,553.5 163.4,553.2 165.3,553 167.3,552.8 169.3,552.6 171.3,552.3 173.4,552.1 175.5,551.8 177.7,551.6 180,551.3 181.8,551.1 183.6,550.9 185.5,550.6 187.3,550.4 189.3,550.2 191.2,549.9 193.2,549.7 195.1,549.5 197.1,549.2 199.2,549 201.2,548.7 203.2,548.5 205.3,548.2 207.4,548 209.4,547.7 211.5,547.4 213.6,547.2 215.7,546.9 217.7,546.6 219.8,546.4 221.9,546.1 223.9,545.8 226,545.5 228,545.3 230,545 232,544.7 234,544.4 236,544.2 238,543.9 239.9,543.6 241.9,543.3 243.9,543 245.9,542.7 247.9,542.4 249.8,542.1 251.8,541.8 253.8,541.5 255.8,541.2 257.8,540.9 259.8,540.6 261.8,540.2 263.8,539.9 265.8,539.6 267.8,539.3 269.8,539 271.8,538.7 273.8,538.4 275.9,538.1 277.9,537.8 280,537.5 282,537.2 284,536.9 286.1,536.6 288.2,536.3 290.3,536 292.5,535.7 294.6,535.4 296.8,535.1 299,534.8 301.2,534.5 303.3,534.2 305.5,533.8 307.7,533.5 309.8,533.2 312,532.9 314.1,532.6 316.2,532.4 318.3,532.1 320.3,531.8 322.3,531.5 324.2,531.2 326.2,531 328,530.7 329.8,530.5 331.6,530.2 333.3,530 335.9,529.6 338.4,529.3 340.8,529 343.1,528.7 345.2,528.4 347.3,528.1 349.3,527.8 351.3,527.6 353.2,527.3 355.1,527.1 356.9,526.9 358.8,526.6 360.7,526.4 362.7,526.2 364.7,526 366.7,525.8 368.8,525.6 371,525.4 373.1,525.2 375.3,525 377.6,524.9 379.8,524.7 382,524.6 384.2,524.4 386.4,524.3 388.5,524.1 390.6,524 392.6,523.9 394.6,523.8 396.5,523.7 398.3,523.6 400,523.5 402.4,523.4 404.4,523.3 406,523.2 407.5,523.1 409,523.1 410.5,523 412.2,523 414.3,523 416.8,523 420,523 421.4,523 423,523 424.6,523 426.3,523 428.1,523 429.9,523 431.8,523 433.8,523 435.8,523 437.8,523 439.9,523.1 442.1,523.1 444.2,523.1 446.4,523.1 448.6,523.1 450.8,523.2 453,523.2 455.2,523.2 457.3,523.3 459.5,523.3 461.7,523.4 463.8,523.5 465.9,523.5 468,523.6 470,523.7 472,523.8 474,523.9 476,524 478,524.1 480,524.2 482,524.4 484,524.5 486,524.6 488,524.8 490,524.9 492,525 494,525.2 496,525.4 498,525.5 500,525.7 502,525.9 504,526 506,526.2 508,526.4 510,526.6 512,526.7 514,526.9 516,527.1 518,527.3 520,527.5 522,527.7 524,527.9 526,528.1 528,528.3 530,528.5 532,528.7 534,529 536,529.2 538,529.4 540,529.6 542,529.9 544,530.1 546,530.3 548,530.6 550,530.8 552,531.1 554,531.3 556,531.6 558,531.8 560,532.1 562,532.3 564,532.5 566,532.8 568,533 570,533.3 572,533.6 574,533.8 575.9,534.1 577.9,534.3 579.8,534.6 581.8,534.8 583.7,535.1 585.7,535.3 587.6,535.6 589.5,535.9 591.5,536.1 593.4,536.4 595.4,536.6 597.3,536.9 599.3,537.2 601.3,537.5 603.3,537.7 605.3,538 607.3,538.3 609.4,538.6 611.4,538.8 613.5,539.1 615.7,539.4 617.8,539.7 620,540 621.8,540.2 623.7,540.5 625.6,540.8 627.5,541 629.5,541.3 631.4,541.5 633.4,541.8 635.4,542.1 637.4,542.4 639.4,542.6 641.5,542.9 643.5,543.2 645.5,543.5 647.6,543.7 649.6,544 651.7,544.3 653.8,544.6 655.8,544.8 657.9,545.1 660,545.4 662,545.7 664.1,545.9 666.1,546.2 668.1,546.5 670.1,546.7 672.1,547 674.1,547.3 676.1,547.5 678.1,547.8 680,548 682.2,548.3 684.4,548.5 686.7,548.8 689,549.1 691.3,549.4 693.7,549.7 696.1,550 698.5,550.2 700.9,550.5 703.3,550.8 705.7,551.1 708.1,551.3 710.4,551.6 712.7,551.9 714.9,552.1 717.1,552.4 719.3,552.6 721.3,552.9 723.3,553.1 725.2,553.3 727.1,553.5 728.8,553.7 730.4,553.9 731.9,554.1 733.3,554.2 734.5,554.4 735.6,554.5"/>
<polyline fill="none" stroke="#d03852" stroke-width="1.05" stroke-linejoin="round" points="41.7,505 42.8,505 44.1,505 45.7,505.1 47.3,505.1 49.2,505.1 51.1,505.1 53.2,505.2 55.4,505.2 57.6,505.2 59.9,505.3 62.3,505.3 64.6,505.3 67,505.4 69.3,505.4 71.6,505.5 73.8,505.6 76,505.6 78.1,505.7 80,505.8 82.2,505.9 84.5,506 86.7,506.1 88.9,506.3 91.1,506.4 93.2,506.5 95.4,506.7 97.5,506.8 99.6,507 101.6,507.2 103.7,507.3 105.7,507.5 107.6,507.7 109.6,507.9 111.5,508.1 113.3,508.3 115.7,508.6 118,508.9 120.3,509.3 122.4,509.6 124.6,510 126.6,510.4 128.7,510.7 130.6,511.1 132.6,511.5 134.5,511.8 136.4,512.2 138.3,512.5 140.5,512.9 142.6,513.3 144.6,513.7 146.6,514.1 148.5,514.5 150.4,514.9 152.3,515.2 154.3,515.5 156.3,515.7 158.3,515.8 160.4,515.8 162.5,515.8 164.5,515.7 166.6,515.5 168.7,515.3 170.9,515.1 173.1,514.9 175.3,514.6 177.6,514.4 180,514.2 181.9,514.1 183.9,513.9 185.9,513.7 188,513.5 190.1,513.4 192.2,513.2 194.3,513 196.5,512.8 198.6,512.7 200.7,512.5 202.7,512.4 204.7,512.3 206.7,512.2 208.9,512.1 211.1,512.1 213.3,512.2 215.4,512.2 217.4,512.3 219.5,512.4 221.5,512.4 223.6,512.5 225.7,512.5 227.8,512.5 230,512.5 232,512.4 234.1,512.4 236.2,512.3 238.4,512.1 240.5,512 242.7,511.9 244.9,511.7 247,511.6 249.1,511.4 251.1,511.2 253.1,511 255,510.8 257.2,510.5 259.2,510.3 261.2,510 263.1,509.7 265,509.4 266.9,509 268.8,508.7 270.8,508.3 272.8,507.9 275,507.5 276.9,507.1 279,506.8 281.1,506.4 283.3,506 285.5,505.6 287.7,505.2 289.9,504.7 292.1,504.3 294.2,503.8 296.3,503.4 298.2,503 300,502.5 302.5,501.8 304.8,501.1 306.9,500.4 308.9,499.7 310.8,499 312.7,498.2 314.7,497.5 316.7,496.7 318.8,495.9 320.9,495 322.9,494.1 325,493.2 327.1,492.3 329.1,491.5 331.2,490.7 333.3,490 335.4,489.4 337.5,488.8 339.6,488.3 341.6,487.8 343.7,487.3 345.8,487 347.9,486.6 350,486.3 352.1,486 354.2,485.8 356.3,485.7 358.4,485.6 360.4,485.5 362.5,485.4 364.6,485.5 366.7,485.5 368.8,485.6 370.9,485.7 372.9,485.9 375,486.2 377.1,486.4 379.1,486.7 381.2,487 383.3,487.3 385.4,487.6 387.4,488 389.4,488.3 391.4,488.7 393.5,489.1 395.6,489.5 397.8,490 400,490.5 401.8,490.9 403.7,491.3 405.6,491.8 407.5,492.2 409.5,492.7 411.5,493.2 413.5,493.7 415.6,494.3 417.8,495 420,495.8 421.9,496.5 423.9,497.3 425.9,498.1 428,498.9 430.1,499.8 432.2,500.8 434.3,501.7 436.5,502.7 438.6,503.7 440.8,504.7 442.9,505.7 445,506.7 447.1,507.7 449.3,508.8 451.4,509.9 453.6,511 455.8,512.1 458,513.2 460.2,514.3 462.3,515.5 464.3,516.6 466.3,517.8 468.2,518.9 470,520 472.5,521.7 474.8,523.3 476.9,525 478.9,526.6 480.8,528.3 482.7,530 484.7,531.6 486.7,533.3 488.8,534.9 490.9,536.6 492.9,538.2 495,539.8 497.1,541.4 499.1,543.1 501.2,544.9 503.3,546.7 505.4,548.6 507.5,550.6 509.6,552.7 511.6,554.8 513.7,556.9 515.8,559.1 517.9,561.2 520,563.3 522.1,565.4 524.3,567.6 526.5,569.8 528.7,572 530.8,574.2 532.9,576.2 534.9,578.2 536.7,580 539.2,582.6 541.3,584.8 543.3,586.8 545.5,588.9 548,591 549.9,592.4 551.9,593.8 554,595.2 556.2,596.7 558.4,598.1 560.6,599.5 562.9,601 565,602.5 567.1,604 569.2,605.5 571.3,607 573.4,608.5 575.5,610.1 577.5,611.7 579.6,613.3 581.7,615 583.8,616.7 585.9,618.5 587.9,620.4 590,622.2 592.1,624.1 594.1,626.1 596.2,628 598.3,630 600.4,632 602.5,634.1 604.7,636.2 606.9,638.4 609,640.5 611.1,642.6 613.1,644.7 615,646.7 617.4,649.3 619.7,652 622,654.6 624.1,657.1 626.2,659.5 628.3,661.7 630.8,664.2 633.3,666.6 635.7,668.8 637.9,670.8 640,672.7 642.2,674.8 644.1,676.6 646,678.3 648,680 650.2,681.9 652.6,683.9 654.9,685.7 657.3,687.3 659.6,688.6 661.9,689.6 664.3,690.5 666.7,691.3 668.8,691.9 671,692.3 673.2,692.7 675.3,693.1 677.3,693.3 679.4,693.4 681.3,693.3 683.2,693.2 685.3,693.3 687.3,693.7 689.4,694.3 691.6,694.9 693.8,695.5 696,696 698.1,696.3 700.2,696.6 702.2,696.8 704.4,696.9 706.7,697 708.7,697 710.9,696.9 713,696.8 715.3,696.6 717.6,696.5 720,696.4 722.2,696.3 724.7,696.3 727.3,696.2 729.9,696.1 732.2,696.1 734.2,696 735.6,696"/>
<polyline fill="none" stroke="#3a3aa0" stroke-width="1.05" stroke-linejoin="round" points="41.7,483.3 42.8,483.6 44.2,483.9 45.8,484.2 47.6,484.6 49.6,485 51.7,485.5 53.9,486 56.2,486.5 58.5,487 60.8,487.6 63.2,488.2 65.4,488.8 67.6,489.4 69.7,490.1 71.7,490.8 73.8,491.6 75.9,492.6 78,493.6 80,494.6 81.9,495.7 83.9,496.8 85.9,498 87.9,499.1 89.9,500.2 91.9,501.3 94,502.3 96.1,503.3 98.3,504.2 100.3,504.9 102.3,505.7 104.4,506.3 106.5,507 108.7,507.7 110.9,508.3 113,508.9 115.2,509.5 117.4,510.1 119.6,510.7 121.8,511.2 123.9,511.8 126,512.3 128,512.8 130,513.3 132.2,513.9 134.5,514.4 136.7,514.9 138.9,515.4 141,515.9 143.1,516.4 145.2,516.8 147.3,517.3 149.3,517.7 151.2,518.1 153.1,518.5 154.9,518.8 156.7,519.2 159.1,519.7 161.3,520.2 163.3,520.7 165.2,521.1 167.1,521.5 169,521.9 170.9,522.2 172.9,522.4 175,522.5 177,522.5 178.9,522.4 180.9,522.3 182.9,522 184.9,521.8 187,521.5 189.2,521.2 191.6,520.9 194,520.7 196.7,520.5 198.5,520.4 200.4,520.3 202.4,520.3 204.5,520.3 206.7,520.3 208.9,520.2 211.2,520.2 213.5,520.2 215.7,520.2 218,520.1 220.2,520 222.3,519.9 224.4,519.8 226.4,519.7 228.3,519.5 230,519.2 232.6,518.7 234.9,518.1 237.1,517.4 239.1,516.6 241,515.7 242.9,514.9 244.7,514 246.4,513.2 248.2,512.4 250,511.7 252.2,510.9 254.3,510.1 256.4,509.4 258.4,508.7 260.3,508 262.4,507.3 264.5,506.6 266.7,505.8 268.6,505.2 270.5,504.5 272.6,503.8 274.6,503.1 276.7,502.4 278.8,501.7 280.8,501 282.9,500.4 284.8,499.8 286.7,499.2 288.9,498.6 291.1,498.1 293.2,497.7 295.2,497.3 297.2,496.9 299.2,496.4 301.2,495.8 303.3,495 305.4,494 307.5,492.9 309.6,491.7 311.6,490.4 313.7,489.1 315.8,487.7 317.9,486.3 320,485 322.1,483.6 324.3,482.2 326.4,480.7 328.6,479.2 330.7,477.8 332.8,476.5 334.8,475.2 336.7,474.2 339.1,473.1 341.2,472.3 343.2,471.7 345.3,471.2 347.5,470.6 350,470 351.8,469.5 353.8,468.9 355.9,468.3 358,467.6 360.1,467 362.3,466.5 364.4,466 366.4,465.7 368.3,465.5 370.6,465.5 372.8,465.7 374.9,466 376.9,466.5 379,467.1 381.1,467.7 383.3,468.3 385.4,468.9 387.5,469.6 389.7,470.3 392,471.1 394.2,471.9 396.3,472.7 398.2,473.4 400,474.2 402.2,475.2 403.9,475.9 405.5,476.7 407.4,478 410,480 411.7,481.4 413.6,482.9 415.7,484.6 417.8,486.4 420.1,488.4 422.5,490.5 424.8,492.6 427.2,494.8 429.5,497 431.7,499.2 433.9,501.5 436.1,503.9 438.3,506.5 440.6,509.1 442.8,511.8 445,514.5 447.2,517.1 449.3,519.6 451.3,522 453.3,524.2 455.6,526.7 457.8,529 459.9,531.1 462,533.2 464,535.2 465.9,537.2 467.9,539.4 470,541.7 472.1,544.2 474.2,546.8 476.3,549.4 478.4,552.1 480.4,554.9 482.5,557.7 484.6,560.5 486.7,563.3 488.8,566.2 491,569.2 493.2,572.2 495.4,575.3 497.6,578.3 499.6,581.3 501.5,584.1 503.3,586.7 506.2,591.2 508.5,595.2 510.7,599.1 513.3,603.3 515.3,606.4 517.5,609.7 519.8,613 522.1,616.4 524.4,619.8 526.7,623.3 529,626.9 531.3,630.7 533.7,634.5 535.9,638.3 538.1,641.8 540,645 542.4,649.1 544.5,652.7 546.3,655.9 548.3,659.2 550.4,662.5 552.4,665.6 554.5,668.7 556.7,671.7 558.6,674.1 560.6,676.5 562.6,678.8 564.7,681.1 566.7,683.3 568.7,685.4 570.7,687.4 572.7,689.4 574.7,691.2 576.7,693 578.7,694.6 580.7,696.1 582.7,697.6 584.7,699 586.7,700.5 588.8,702.1 590.9,703.8 592.9,705.4 594.9,707 596.7,708.5 598.9,710.4 600.7,712.1 603.3,714.7 605.1,716.7 607.3,719 609.6,721.6 612,724.2 614.4,726.8 616.7,729.3 618.9,731.6 621.1,734 623.4,736.2 625.6,738.5 627.8,740.6 630,742.7 632.2,744.6 634.4,746.4 636.6,748.2 638.9,749.9 641.1,751.6 643.3,753.3 645.6,755.1 648,757.1 650.3,759 652.6,760.9 654.8,762.6 656.7,764 659.1,765.6 661.1,766.9 662.9,767.8 664.7,768.7 666.9,769.9 668.9,770.9 671.3,771.3 673.5,771.1 676,770.5 678.5,769.8 680.7,769.3 683.2,768.8 685.3,768.4 687.3,768.3 689.8,769.4 692.7,770.3 694.5,770.2 696.8,769.9 699.1,769.5 701.3,768.9 703.3,768.3 705.7,767.2 707.7,765.9 710,764 712.2,762.1 714.6,759.8 717,757.2 719.3,754.7 721.4,752.1 723.4,749.3 725.3,746.6 727.3,744 729.5,741.4 731.9,738.8 734.1,736.6 735.6,735"/>
<polyline fill="none" stroke="#2f7d33" stroke-width="2" stroke-dasharray="2.1,3.0" points="41.6,504.8 44.4,505 49.8,505.9 55.2,505.3 60.6,504.1 66,505 71.4,502.9 76.8,503.8 82.2,506.8 87.6,506.8 93,507.7 98.4,507.2 103.8,506.5 109.2,510.4 114.6,513.7 120,514.9 125.4,516.8 130.8,518.6 136.2,524.3 141.6,527.8 147,531.2 152.4,533.6 157.8,534.9 163.2,531.7 168.6,529.2 174,525.4 179.4,522.1 184.8,520 190.2,516.3 195.6,512 201,509.4 206.4,507 211.8,507.1 217.2,509.3 222.6,511.3 228,513.1 233.4,511.3 238.8,507.7 244.2,508 249.6,507.8 255,507.6 260.4,506.1 265.8,502.7 271.2,500.7 276.6,498.3 282,493.9 287.4,490 292.8,488.1 298.2,485.6 303.6,481.4 309,474.4 314.4,468.6 319.8,461.8 325.2,460 330.6,458.4 336,457.3 341.4,455.1 346.8,456.6 352.2,462.1 357.6,465.6 363,467.5 368.4,469 373.8,474.3 379.2,480.5 384.6,484.5 390,487.6 395.4,495.9 400.8,502 406.2,506.1 411.6,508.7 417,512 422.4,516.3 427.8,521.7 433.2,529.3 438.6,536.8 444,543 449.4,550 454.8,556.8 460.2,564.6 465.6,571.9 471,578.5 476.4,593.6 481.8,604.5 487.2,612.6 492.6,619.1 498,623.3 503.4,635.7 508.8,643 514.2,659.5 519.6,669.8 525,678.5 530.4,688.8 535.8,694.3 541.2,700.2 546.6,699.7 552,698.7 557.4,702.3 562.8,702.5 568.2,706.8 573.6,708.5 579,711 584.4,709.6 589.8,711.9 595.2,716.6 600.6,730.3 606,736.8 611.4,748.8 616.8,759.5 622.2,777.3 627.6,781 633,788.5 638.4,792.4 643.8,795.4 649.2,794.6 654.6,792.6 660,788.5 665.4,783.5 670.8,776.1 676.2,763.2 681.6,752.3 687,746 692.4,743.6 697.8,737.3 703.2,731.8 708.6,727 714,719.1 719.4,715 724.8,712.7 730.2,709.7 735.6,705.7"/>
<line x1="44.5" y1="502.5" x2="44.5" y2="520.8" stroke="#c1334f" stroke-width="1.25"/>
<rect x="42" y="513.7" width="5" height="4.7" fill="#c1334f"/>
<line x1="49.5" y1="505.8" x2="49.5" y2="510" stroke="#262626" stroke-width="1.0"/>
<line x1="49.5" y1="518.7" x2="49.5" y2="521.7" stroke="#262626" stroke-width="1.0"/>
<rect x="47.5" y="510" width="4" height="8.7" fill="rgba(228,228,212,0.35)" stroke="#262626" stroke-width="0.95"/>
<line x1="55.5" y1="498.3" x2="55.5" y2="502.5" stroke="#262626" stroke-width="1.0"/>
<line x1="55.5" y1="508.3" x2="55.5" y2="514.2" stroke="#262626" stroke-width="1.0"/>
<rect x="53.5" y="502.5" width="4" height="5.8" fill="rgba(228,228,212,0.35)" stroke="#262626" stroke-width="0.95"/>
<line x1="60.5" y1="495.8" x2="60.5" y2="498.8" stroke="#262626" stroke-width="1.0"/>
<line x1="60.5" y1="501.7" x2="60.5" y2="505" stroke="#262626" stroke-width="1.0"/>
<rect x="58.5" y="498.8" width="4" height="2.8" fill="rgba(228,228,212,0.35)" stroke="#262626" stroke-width="0.95"/>
<line x1="66.5" y1="497.5" x2="66.5" y2="513.3" stroke="#c1334f" stroke-width="1.25"/>
<rect x="64" y="499.7" width="5" height="9.2" fill="#c1334f"/>
<line x1="71.5" y1="491.7" x2="71.5" y2="493.3" stroke="#262626" stroke-width="1.0"/>
<line x1="71.5" y1="504.2" x2="71.5" y2="507.5" stroke="#262626" stroke-width="1.0"/>
<rect x="69.5" y="493.3" width="4" height="10.8" fill="rgba(228,228,212,0.35)" stroke="#262626" stroke-width="0.95"/>
<line x1="76.5" y1="492.5" x2="76.5" y2="516.7" stroke="#c1334f" stroke-width="1.25"/>
<rect x="74" y="494.2" width="5" height="13.8" fill="#c1334f"/>
<line x1="82.5" y1="510" x2="82.5" y2="524.2" stroke="#c1334f" stroke-width="1.25"/>
<rect x="80" y="510.8" width="5" height="9.5" fill="#c1334f"/>
<line x1="87.5" y1="501.7" x2="87.5" y2="506.7" stroke="#262626" stroke-width="1.0"/>
<line x1="87.5" y1="517.5" x2="87.5" y2="528" stroke="#262626" stroke-width="1.0"/>
<rect x="85.5" y="506.7" width="4" height="10.8" fill="rgba(228,228,212,0.35)" stroke="#262626" stroke-width="0.95"/>
<line x1="92.5" y1="503.3" x2="92.5" y2="517.5" stroke="#c1334f" stroke-width="1.25"/>
<rect x="90" y="506.7" width="5" height="5" fill="#c1334f"/>
<line x1="98.5" y1="495.3" x2="98.5" y2="505" stroke="#262626" stroke-width="1.0"/>
<line x1="98.5" y1="509.7" x2="98.5" y2="510" stroke="#262626" stroke-width="1.0"/>
<rect x="96.5" y="505" width="4" height="4.7" fill="rgba(228,228,212,0.35)" stroke="#262626" stroke-width="0.95"/>
<line x1="103.5" y1="497" x2="103.5" y2="503.7" stroke="#262626" stroke-width="1.0"/>
<line x1="103.5" y1="507.2" x2="103.5" y2="508.3" stroke="#262626" stroke-width="1.0"/>
<rect x="101.5" y="503.7" width="4" height="3.5" fill="rgba(228,228,212,0.35)" stroke="#262626" stroke-width="0.95"/>
<line x1="109.5" y1="502.5" x2="109.5" y2="535" stroke="#c1334f" stroke-width="1.25"/>
<rect x="107" y="504.2" width="5" height="23.3" fill="#c1334f"/>
<line x1="114.5" y1="522.5" x2="114.5" y2="533.3" stroke="#c1334f" stroke-width="1.25"/>
<line x1="112" y1="529" x2="117" y2="529" stroke="#c1334f" stroke-width="1.3"/>
<line x1="120.5" y1="517.5" x2="120.5" y2="520.3" stroke="#262626" stroke-width="1.0"/>
<line x1="120.5" y1="530.8" x2="120.5" y2="536.7" stroke="#262626" stroke-width="1.0"/>
<rect x="118.5" y="520.3" width="4" height="10.5" fill="rgba(228,228,212,0.35)" stroke="#262626" stroke-width="0.95"/>
<line x1="125.5" y1="517.5" x2="125.5" y2="541.7" stroke="#c1334f" stroke-width="1.25"/>
<rect x="123" y="518.3" width="5" height="6.7" fill="#c1334f"/>
<line x1="130.5" y1="511.7" x2="130.5" y2="531.7" stroke="#c1334f" stroke-width="1.25"/>
<rect x="128" y="521.7" width="5" height="5.3" fill="#c1334f"/>
<line x1="136.5" y1="528.3" x2="136.5" y2="555" stroke="#c1334f" stroke-width="1.25"/>
<rect x="134" y="530.8" width="5" height="19.2" fill="#c1334f"/>
<line x1="141.5" y1="542.5" x2="141.5" y2="543.3" stroke="#262626" stroke-width="1.0"/>
<line x1="141.5" y1="550.8" x2="141.5" y2="555.8" stroke="#262626" stroke-width="1.0"/>
<rect x="139.5" y="543.3" width="4" height="7.5" fill="rgba(228,228,212,0.35)" stroke="#262626" stroke-width="0.95"/>
<line x1="146.5" y1="540.8" x2="146.5" y2="546.7" stroke="#c1334f" stroke-width="1.25"/>
<line x1="146.5" y1="551.3" x2="146.5" y2="553.3" stroke="#c1334f" stroke-width="1.25"/>
<rect x="144.5" y="546.7" width="4" height="4.7" fill="rgba(228,228,212,0.35)" stroke="#c1334f" stroke-width="0.95"/>
<line x1="152.5" y1="541.7" x2="152.5" y2="544.5" stroke="#262626" stroke-width="1.0"/>
<line x1="152.5" y1="546.7" x2="152.5" y2="550.8" stroke="#262626" stroke-width="1.0"/>
<rect x="150.5" y="544.5" width="4" height="2.2" fill="rgba(228,228,212,0.35)" stroke="#262626" stroke-width="0.95"/>
<line x1="157.5" y1="534.2" x2="157.5" y2="540.3" stroke="#262626" stroke-width="1.0"/>
<line x1="157.5" y1="543.8" x2="157.5" y2="545.8" stroke="#262626" stroke-width="1.0"/>
<rect x="155.5" y="540.3" width="4" height="3.5" fill="rgba(228,228,212,0.35)" stroke="#262626" stroke-width="0.95"/>
<line x1="163.5" y1="515" x2="163.5" y2="517.5" stroke="#262626" stroke-width="1.0"/>
<line x1="163.5" y1="537.5" x2="163.5" y2="538.3" stroke="#262626" stroke-width="1.0"/>
<rect x="161.5" y="517.5" width="4" height="20" fill="rgba(228,228,212,0.35)" stroke="#262626" stroke-width="0.95"/>
<line x1="168.5" y1="514.2" x2="168.5" y2="522.5" stroke="#c1334f" stroke-width="1.25"/>
<rect x="166" y="515" width="5" height="2.8" fill="#c1334f"/>
<line x1="174.5" y1="502.5" x2="174.5" y2="508.3" stroke="#262626" stroke-width="1.0"/>
<line x1="174.5" y1="517.8" x2="174.5" y2="518.7" stroke="#262626" stroke-width="1.0"/>
<rect x="172.5" y="508.3" width="4" height="9.5" fill="rgba(228,228,212,0.35)" stroke="#262626" stroke-width="0.95"/>
<line x1="179.5" y1="505" x2="179.5" y2="507.2" stroke="#262626" stroke-width="1.0"/>
<line x1="179.5" y1="510.5" x2="179.5" y2="511.7" stroke="#262626" stroke-width="1.0"/>
<rect x="177.5" y="507.2" width="4" height="3.3" fill="rgba(228,228,212,0.35)" stroke="#262626" stroke-width="0.95"/>
<line x1="184.5" y1="503.7" x2="184.5" y2="515" stroke="#c1334f" stroke-width="1.25"/>
<rect x="182" y="506.2" width="5" height="4.3" fill="#c1334f"/>
<line x1="190.5" y1="498" x2="190.5" y2="500" stroke="#262626" stroke-width="1.0"/>
<line x1="190.5" y1="510.5" x2="190.5" y2="512.5" stroke="#262626" stroke-width="1.0"/>
<rect x="188.5" y="500" width="4" height="10.5" fill="rgba(228,228,212,0.35)" stroke="#262626" stroke-width="0.95"/>
<line x1="195.5" y1="490" x2="195.5" y2="492.5" stroke="#262626" stroke-width="1.0"/>
<line x1="195.5" y1="498.7" x2="195.5" y2="500.3" stroke="#262626" stroke-width="1.0"/>
<rect x="193.5" y="492.5" width="4" height="6.2" fill="rgba(228,228,212,0.35)" stroke="#262626" stroke-width="0.95"/>
<line x1="201.5" y1="491.3" x2="201.5" y2="499.7" stroke="#c1334f" stroke-width="1.25"/>
<rect x="199" y="493.8" width="5" height="4" fill="#c1334f"/>
<line x1="206.5" y1="480.3" x2="206.5" y2="505.8" stroke="#262626" stroke-width="1.0"/>
<line x1="204" y1="496.3" x2="209" y2="496.3" stroke="#262626" stroke-width="1.3"/>
<line x1="211.5" y1="499.2" x2="211.5" y2="510" stroke="#c1334f" stroke-width="1.25"/>
<rect x="209" y="500.3" width="5" height="7.2" fill="#c1334f"/>
<line x1="217.5" y1="505" x2="217.5" y2="526.7" stroke="#c1334f" stroke-width="1.25"/>
<rect x="215" y="509.7" width="5" height="9.5" fill="#c1334f"/>
<line x1="222.5" y1="515" x2="222.5" y2="529.2" stroke="#c1334f" stroke-width="1.25"/>
<rect x="220" y="517.5" width="5" height="2.5" fill="#c1334f"/>
<line x1="228.5" y1="516.7" x2="228.5" y2="523.3" stroke="#c1334f" stroke-width="1.25"/>
<rect x="226" y="518.3" width="5" height="3" fill="#c1334f"/>
<line x1="233.5" y1="495" x2="233.5" y2="503.3" stroke="#262626" stroke-width="1.0"/>
<line x1="233.5" y1="521.3" x2="233.5" y2="522" stroke="#262626" stroke-width="1.0"/>
<rect x="231.5" y="503.3" width="4" height="18" fill="rgba(228,228,212,0.35)" stroke="#262626" stroke-width="0.95"/>
<line x1="238.5" y1="481.7" x2="238.5" y2="491.7" stroke="#262626" stroke-width="1.0"/>
<line x1="238.5" y1="496.2" x2="238.5" y2="500.8" stroke="#262626" stroke-width="1.0"/>
<rect x="236.5" y="491.7" width="4" height="4.5" fill="rgba(228,228,212,0.35)" stroke="#262626" stroke-width="0.95"/>
<line x1="244.5" y1="491.7" x2="244.5" y2="511.7" stroke="#c1334f" stroke-width="1.25"/>
<rect x="242" y="492.5" width="5" height="16.7" fill="#c1334f"/>
<line x1="249.5" y1="495.8" x2="249.5" y2="517.5" stroke="#262626" stroke-width="1.0"/>
<line x1="247" y1="506.7" x2="252" y2="506.7" stroke="#262626" stroke-width="1.3"/>
<line x1="255.5" y1="498.3" x2="255.5" y2="510" stroke="#c1334f" stroke-width="1.25"/>
<line x1="253" y1="506.7" x2="258" y2="506.7" stroke="#c1334f" stroke-width="1.3"/>
<line x1="260.5" y1="493.3" x2="260.5" y2="499.5" stroke="#262626" stroke-width="1.0"/>
<line x1="260.5" y1="509.7" x2="260.5" y2="513.3" stroke="#262626" stroke-width="1.0"/>
<rect x="258.5" y="499.5" width="4" height="10.2" fill="rgba(228,228,212,0.35)" stroke="#262626" stroke-width="0.95"/>
<line x1="265.5" y1="483.3" x2="265.5" y2="487.2" stroke="#262626" stroke-width="1.0"/>
<line x1="265.5" y1="500.8" x2="265.5" y2="502.5" stroke="#262626" stroke-width="1.0"/>
<rect x="263.5" y="487.2" width="4" height="13.7" fill="rgba(228,228,212,0.35)" stroke="#262626" stroke-width="0.95"/>
<line x1="271.5" y1="480.8" x2="271.5" y2="494.2" stroke="#c1334f" stroke-width="1.25"/>
<rect x="269" y="485.3" width="5" height="6.7" fill="#c1334f"/>
<line x1="276.5" y1="476.3" x2="276.5" y2="487.5" stroke="#262626" stroke-width="1.0"/>
<line x1="276.5" y1="492.5" x2="276.5" y2="495.8" stroke="#262626" stroke-width="1.0"/>
<rect x="274.5" y="487.5" width="4" height="5" fill="rgba(228,228,212,0.35)" stroke="#262626" stroke-width="0.95"/>
<line x1="282.5" y1="467" x2="282.5" y2="473.8" stroke="#262626" stroke-width="1.0"/>
<line x1="282.5" y1="483.3" x2="282.5" y2="484.2" stroke="#262626" stroke-width="1.0"/>
<rect x="280.5" y="473.8" width="4" height="9.5" fill="rgba(228,228,212,0.35)" stroke="#262626" stroke-width="0.95"/>
<line x1="287.5" y1="466.3" x2="287.5" y2="475.8" stroke="#262626" stroke-width="1.0"/>
<line x1="285" y1="472.5" x2="290" y2="472.5" stroke="#262626" stroke-width="1.3"/>
<line x1="292.5" y1="470.8" x2="292.5" y2="480.8" stroke="#c1334f" stroke-width="1.25"/>
<rect x="290" y="473.3" width="5" height="6.3" fill="#c1334f"/>
<line x1="298.5" y1="468.3" x2="298.5" y2="477.5" stroke="#262626" stroke-width="1.0"/>
<line x1="296" y1="474.2" x2="301" y2="474.2" stroke="#262626" stroke-width="1.3"/>
<line x1="303.5" y1="459.2" x2="303.5" y2="462.5" stroke="#262626" stroke-width="1.0"/>
<line x1="303.5" y1="473.8" x2="303.5" y2="475.8" stroke="#262626" stroke-width="1.0"/>
<rect x="301.5" y="462.5" width="4" height="11.3" fill="rgba(228,228,212,0.35)" stroke="#262626" stroke-width="0.95"/>
<line x1="308.5" y1="438.3" x2="308.5" y2="442.8" stroke="#262626" stroke-width="1.0"/>
<line x1="308.5" y1="462.5" x2="308.5" y2="465" stroke="#262626" stroke-width="1.0"/>
<rect x="306.5" y="442.8" width="4" height="19.7" fill="rgba(228,228,212,0.35)" stroke="#262626" stroke-width="0.95"/>
<line x1="314.5" y1="435.8" x2="314.5" y2="445.8" stroke="#c1334f" stroke-width="1.25"/>
<rect x="312" y="440.5" width="5" height="2" fill="#c1334f"/>
<line x1="319.5" y1="425.8" x2="319.5" y2="431.3" stroke="#262626" stroke-width="1.0"/>
<line x1="319.5" y1="444.5" x2="319.5" y2="451.7" stroke="#262626" stroke-width="1.0"/>
<rect x="317.5" y="431.3" width="4" height="13.2" fill="rgba(228,228,212,0.35)" stroke="#262626" stroke-width="0.95"/>
<line x1="325.5" y1="430" x2="325.5" y2="456.7" stroke="#c1334f" stroke-width="1.25"/>
<rect x="323" y="433.3" width="5" height="18.3" fill="#c1334f"/>
<line x1="330.5" y1="442.5" x2="330.5" y2="456.7" stroke="#262626" stroke-width="1.0"/>
<rect x="328" y="448" width="5" height="3.3" fill="#2b3034"/>
<line x1="336.5" y1="448.3" x2="336.5" y2="464.2" stroke="#c1334f" stroke-width="1.25"/>
<rect x="334" y="450" width="5" height="2.5" fill="#c1334f"/>
<line x1="341.5" y1="442" x2="341.5" y2="445.3" stroke="#262626" stroke-width="1.0"/>
<line x1="341.5" y1="452.5" x2="341.5" y2="455" stroke="#262626" stroke-width="1.0"/>
<rect x="339.5" y="445.3" width="4" height="7.2" fill="rgba(228,228,212,0.35)" stroke="#262626" stroke-width="0.95"/>
<line x1="346.5" y1="444.2" x2="346.5" y2="470" stroke="#c1334f" stroke-width="1.25"/>
<rect x="344" y="448" width="5" height="15.3" fill="#c1334f"/>
<line x1="352.5" y1="466.7" x2="352.5" y2="490" stroke="#c1334f" stroke-width="1.25"/>
<rect x="350" y="467.2" width="5" height="19.5" fill="#c1334f"/>
<line x1="357.5" y1="475" x2="357.5" y2="481.3" stroke="#262626" stroke-width="1.0"/>
<line x1="357.5" y1="484.5" x2="357.5" y2="488.3" stroke="#262626" stroke-width="1.0"/>
<rect x="355.5" y="481.3" width="4" height="3.2" fill="rgba(228,228,212,0.35)" stroke="#262626" stroke-width="0.95"/>
<line x1="362.5" y1="466.7" x2="362.5" y2="485" stroke="#262626" stroke-width="1.0"/>
<line x1="360" y1="476.3" x2="365" y2="476.3" stroke="#262626" stroke-width="1.3"/>
<line x1="368.5" y1="471.7" x2="368.5" y2="475.5" stroke="#262626" stroke-width="1.0"/>
<line x1="368.5" y1="477.5" x2="368.5" y2="485" stroke="#262626" stroke-width="1.0"/>
<rect x="366.5" y="475.5" width="4" height="2" fill="rgba(228,228,212,0.35)" stroke="#262626" stroke-width="0.95"/>
<line x1="373.5" y1="470.8" x2="373.5" y2="500" stroke="#c1334f" stroke-width="1.25"/>
<rect x="371" y="473" width="5" height="25" fill="#c1334f"/>
<line x1="379.5" y1="495" x2="379.5" y2="510" stroke="#c1334f" stroke-width="1.25"/>
<rect x="377" y="495.8" width="5" height="12.5" fill="#c1334f"/>
<line x1="384.5" y1="496.3" x2="384.5" y2="502.5" stroke="#262626" stroke-width="1.0"/>
<line x1="384.5" y1="508" x2="384.5" y2="510" stroke="#262626" stroke-width="1.0"/>
<rect x="382.5" y="502.5" width="4" height="5.5" fill="rgba(228,228,212,0.35)" stroke="#262626" stroke-width="0.95"/>
<line x1="390.5" y1="497.5" x2="390.5" y2="511.7" stroke="#262626" stroke-width="1.0"/>
<rect x="388" y="499.2" width="5" height="2.5" fill="#2b3034"/>
<line x1="395.5" y1="499.2" x2="395.5" y2="541.7" stroke="#c1334f" stroke-width="1.25"/>
<rect x="393" y="499.7" width="5" height="33.7" fill="#c1334f"/>
<line x1="400.5" y1="519.7" x2="400.5" y2="529.2" stroke="#262626" stroke-width="1.0"/>
<line x1="400.5" y1="535.8" x2="400.5" y2="537.5" stroke="#262626" stroke-width="1.0"/>
<rect x="398.5" y="529.2" width="4" height="6.7" fill="rgba(228,228,212,0.35)" stroke="#262626" stroke-width="0.95"/>
<line x1="406.5" y1="520.5" x2="406.5" y2="524.7" stroke="#262626" stroke-width="1.0"/>
<line x1="406.5" y1="534.2" x2="406.5" y2="538.3" stroke="#262626" stroke-width="1.0"/>
<rect x="404.5" y="524.7" width="4" height="9.5" fill="rgba(228,228,212,0.35)" stroke="#262626" stroke-width="0.95"/>
<line x1="411.5" y1="518" x2="411.5" y2="520.3" stroke="#262626" stroke-width="1.0"/>
<line x1="411.5" y1="527.5" x2="411.5" y2="535.8" stroke="#262626" stroke-width="1.0"/>
<rect x="409.5" y="520.3" width="4" height="7.2" fill="rgba(228,228,212,0.35)" stroke="#262626" stroke-width="0.95"/>
<line x1="416.5" y1="516.7" x2="416.5" y2="535" stroke="#c1334f" stroke-width="1.25"/>
<rect x="414" y="521.3" width="5" height="5.7" fill="#c1334f"/>
<line x1="422.5" y1="524.2" x2="422.5" y2="545.8" stroke="#c1334f" stroke-width="1.25"/>
<rect x="420" y="530" width="5" height="5.8" fill="#c1334f"/>
<line x1="427.5" y1="526.7" x2="427.5" y2="550.8" stroke="#c1334f" stroke-width="1.25"/>
<rect x="425" y="534.5" width="5" height="11.3" fill="#c1334f"/>
<line x1="433.5" y1="544.2" x2="433.5" y2="570.8" stroke="#c1334f" stroke-width="1.25"/>
<rect x="431" y="549.7" width="5" height="13.7" fill="#c1334f"/>
<line x1="438.5" y1="560.5" x2="438.5" y2="576.7" stroke="#c1334f" stroke-width="1.25"/>
<rect x="436" y="565.8" width="5" height="5" fill="#c1334f"/>
<line x1="444.5" y1="558.7" x2="444.5" y2="578.3" stroke="#c1334f" stroke-width="1.25"/>
<line x1="442" y1="570.8" x2="447" y2="570.8" stroke="#c1334f" stroke-width="1.3"/>
<line x1="449.5" y1="567.8" x2="449.5" y2="591.3" stroke="#c1334f" stroke-width="1.25"/>
<rect x="447" y="575" width="5" height="6.7" fill="#c1334f"/>
<line x1="454.5" y1="569.5" x2="454.5" y2="597.5" stroke="#c1334f" stroke-width="1.25"/>
<line x1="452" y1="587" x2="457" y2="587" stroke="#c1334f" stroke-width="1.3"/>
<line x1="460.5" y1="578.3" x2="460.5" y2="602.5" stroke="#c1334f" stroke-width="1.25"/>
<rect x="458" y="587.2" width="5" height="12.8" fill="#c1334f"/>
<line x1="465.5" y1="596.7" x2="465.5" y2="615.8" stroke="#c1334f" stroke-width="1.25"/>
<rect x="463" y="598" width="5" height="6.7" fill="#c1334f"/>
<line x1="470.5" y1="591.7" x2="470.5" y2="623.3" stroke="#c1334f" stroke-width="1.25"/>
<rect x="468" y="599.2" width="5" height="8.8" fill="#c1334f"/>
<line x1="476.5" y1="615.3" x2="476.5" y2="674.2" stroke="#c1334f" stroke-width="1.25"/>
<rect x="474" y="620.3" width="5" height="41.3" fill="#c1334f"/>
<line x1="481.5" y1="639.2" x2="481.5" y2="653.8" stroke="#262626" stroke-width="1.0"/>
<line x1="481.5" y1="667.8" x2="481.5" y2="669.7" stroke="#262626" stroke-width="1.0"/>
<rect x="479.5" y="653.8" width="4" height="14" fill="rgba(228,228,212,0.35)" stroke="#262626" stroke-width="0.95"/>
<line x1="487.5" y1="638.3" x2="487.5" y2="648.7" stroke="#262626" stroke-width="1.0"/>
<line x1="487.5" y1="653.3" x2="487.5" y2="660.8" stroke="#262626" stroke-width="1.0"/>
<rect x="485.5" y="648.7" width="4" height="4.7" fill="rgba(228,228,212,0.35)" stroke="#262626" stroke-width="0.95"/>
<line x1="492.5" y1="629.2" x2="492.5" y2="655.8" stroke="#262626" stroke-width="1.0"/>
<rect x="490" y="647.2" width="5" height="1.5" fill="#2b3034"/>
<line x1="498.5" y1="636.7" x2="498.5" y2="642.2" stroke="#262626" stroke-width="1.0"/>
<line x1="498.5" y1="644.2" x2="498.5" y2="666.7" stroke="#262626" stroke-width="1.0"/>
<rect x="496.5" y="642.2" width="4" height="2" fill="rgba(228,228,212,0.35)" stroke="#262626" stroke-width="0.95"/>
<line x1="503.5" y1="638.3" x2="503.5" y2="700.8" stroke="#c1334f" stroke-width="1.25"/>
<rect x="501" y="639.2" width="5" height="52.5" fill="#c1334f"/>
<line x1="508.5" y1="659.2" x2="508.5" y2="675.5" stroke="#262626" stroke-width="1.0"/>
<line x1="508.5" y1="692.2" x2="508.5" y2="692.5" stroke="#262626" stroke-width="1.0"/>
<rect x="506.5" y="675.5" width="4" height="16.7" fill="rgba(228,228,212,0.35)" stroke="#262626" stroke-width="0.95"/>
<line x1="514.5" y1="673.3" x2="514.5" y2="737.5" stroke="#c1334f" stroke-width="1.25"/>
<rect x="512" y="675" width="5" height="58.7" fill="#c1334f"/>
<line x1="519.5" y1="707.5" x2="519.5" y2="716.3" stroke="#262626" stroke-width="1.0"/>
<line x1="519.5" y1="730.5" x2="519.5" y2="737.5" stroke="#262626" stroke-width="1.0"/>
<rect x="517.5" y="716.3" width="4" height="14.2" fill="rgba(228,228,212,0.35)" stroke="#262626" stroke-width="0.95"/>
<line x1="524.5" y1="705" x2="524.5" y2="735.8" stroke="#c1334f" stroke-width="1.25"/>
<line x1="522" y1="717.5" x2="527" y2="717.5" stroke="#c1334f" stroke-width="1.3"/>
<line x1="530.5" y1="702.5" x2="530.5" y2="739.2" stroke="#c1334f" stroke-width="1.25"/>
<rect x="528" y="710" width="5" height="25.3" fill="#c1334f"/>
<line x1="535.5" y1="708.3" x2="535.5" y2="719.2" stroke="#262626" stroke-width="1.0"/>
<line x1="535.5" y1="735.3" x2="535.5" y2="749.2" stroke="#262626" stroke-width="1.0"/>
<rect x="533.5" y="719.2" width="4" height="16.2" fill="rgba(228,228,212,0.35)" stroke="#262626" stroke-width="0.95"/>
<line x1="541.5" y1="713.3" x2="541.5" y2="745.8" stroke="#c1334f" stroke-width="1.25"/>
<rect x="539" y="721.7" width="5" height="5" fill="#c1334f"/>
<line x1="546.5" y1="685.8" x2="546.5" y2="697.5" stroke="#262626" stroke-width="1.0"/>
<line x1="546.5" y1="705" x2="546.5" y2="711.7" stroke="#262626" stroke-width="1.0"/>
<rect x="544.5" y="697.5" width="4" height="7.5" fill="rgba(228,228,212,0.35)" stroke="#262626" stroke-width="0.95"/>
<line x1="552.5" y1="675.5" x2="552.5" y2="694.2" stroke="#262626" stroke-width="1.0"/>
<line x1="552.5" y1="696.7" x2="552.5" y2="705" stroke="#262626" stroke-width="1.0"/>
<rect x="550.5" y="694.2" width="4" height="2.5" fill="rgba(228,228,212,0.35)" stroke="#262626" stroke-width="0.95"/>
<line x1="557.5" y1="693" x2="557.5" y2="739.2" stroke="#c1334f" stroke-width="1.25"/>
<rect x="555" y="698" width="5" height="20.7" fill="#c1334f"/>
<line x1="562.5" y1="680" x2="562.5" y2="703.3" stroke="#262626" stroke-width="1.0"/>
<line x1="562.5" y1="714.2" x2="562.5" y2="730.8" stroke="#262626" stroke-width="1.0"/>
<rect x="560.5" y="703.3" width="4" height="10.8" fill="rgba(228,228,212,0.35)" stroke="#262626" stroke-width="0.95"/>
<line x1="568.5" y1="700" x2="568.5" y2="731.7" stroke="#c1334f" stroke-width="1.25"/>
<rect x="566" y="710.8" width="5" height="15" fill="#c1334f"/>
<line x1="573.5" y1="704.2" x2="573.5" y2="716.3" stroke="#262626" stroke-width="1.0"/>
<line x1="573.5" y1="727.5" x2="573.5" y2="730" stroke="#262626" stroke-width="1.0"/>
<rect x="571.5" y="716.3" width="4" height="11.2" fill="rgba(228,228,212,0.35)" stroke="#262626" stroke-width="0.95"/>
<line x1="578.5" y1="697.5" x2="578.5" y2="726.7" stroke="#c1334f" stroke-width="1.25"/>
<rect x="576" y="711.7" width="5" height="10.8" fill="#c1334f"/>
<line x1="584.5" y1="692.5" x2="584.5" y2="703" stroke="#262626" stroke-width="1.0"/>
<line x1="584.5" y1="722.2" x2="584.5" y2="734.2" stroke="#262626" stroke-width="1.0"/>
<rect x="582.5" y="703" width="4" height="19.2" fill="rgba(228,228,212,0.35)" stroke="#262626" stroke-width="0.95"/>
<line x1="589.5" y1="696.7" x2="589.5" y2="727.5" stroke="#c1334f" stroke-width="1.25"/>
<rect x="587" y="699.2" width="5" height="23.3" fill="#c1334f"/>
<line x1="595.5" y1="709.2" x2="595.5" y2="750" stroke="#c1334f" stroke-width="1.25"/>
<rect x="593" y="718" width="5" height="19.5" fill="#c1334f"/>
<line x1="600.5" y1="741.3" x2="600.5" y2="798" stroke="#c1334f" stroke-width="1.25"/>
<rect x="598" y="747.3" width="5" height="44.7" fill="#c1334f"/>
<line x1="606.5" y1="763.7" x2="606.5" y2="766.3" stroke="#262626" stroke-width="1.0"/>
<line x1="606.5" y1="795.3" x2="606.5" y2="796" stroke="#262626" stroke-width="1.0"/>
<rect x="604.5" y="766.3" width="4" height="29" fill="rgba(228,228,212,0.35)" stroke="#262626" stroke-width="0.95"/>
<line x1="611.5" y1="776.3" x2="611.5" y2="806" stroke="#c1334f" stroke-width="1.25"/>
<rect x="609" y="778" width="5" height="24.5" fill="#c1334f"/>
<line x1="616.5" y1="788.3" x2="616.5" y2="814" stroke="#c1334f" stroke-width="1.25"/>
<rect x="614" y="795" width="5" height="12.5" fill="#c1334f"/>
<line x1="622.5" y1="795.8" x2="622.5" y2="860" stroke="#c1334f" stroke-width="1.25"/>
<rect x="620" y="808.3" width="5" height="49.2" fill="#c1334f"/>
<line x1="627.5" y1="784.2" x2="627.5" y2="797.5" stroke="#262626" stroke-width="1.0"/>
<line x1="627.5" y1="851.3" x2="627.5" y2="857.5" stroke="#262626" stroke-width="1.0"/>
<rect x="625.5" y="797.5" width="4" height="53.8" fill="rgba(228,228,212,0.35)" stroke="#262626" stroke-width="0.95"/>
<line x1="632.5" y1="788.7" x2="632.5" y2="826.7" stroke="#c1334f" stroke-width="1.25"/>
<rect x="630" y="790" width="5" height="32.5" fill="#c1334f"/>
<line x1="638.5" y1="796.7" x2="638.5" y2="825.8" stroke="#262626" stroke-width="1.0"/>
<line x1="636" y1="809.7" x2="641" y2="809.7" stroke="#262626" stroke-width="1.3"/>
<line x1="643.5" y1="790.8" x2="643.5" y2="809" stroke="#262626" stroke-width="1.0"/>
<line x1="643.5" y1="812.5" x2="643.5" y2="820.8" stroke="#262626" stroke-width="1.0"/>
<rect x="641.5" y="809" width="4" height="3.5" fill="rgba(228,228,212,0.35)" stroke="#262626" stroke-width="0.95"/>
<line x1="649.5" y1="771.7" x2="649.5" y2="791.3" stroke="#262626" stroke-width="1.0"/>
<line x1="649.5" y1="803.3" x2="649.5" y2="826.7" stroke="#262626" stroke-width="1.0"/>
<rect x="647.5" y="791.3" width="4" height="12" fill="rgba(228,228,212,0.35)" stroke="#262626" stroke-width="0.95"/>
<line x1="654.5" y1="776.7" x2="654.5" y2="783.3" stroke="#262626" stroke-width="1.0"/>
<line x1="654.5" y1="796" x2="654.5" y2="810.8" stroke="#262626" stroke-width="1.0"/>
<rect x="652.5" y="783.3" width="4" height="12.7" fill="rgba(228,228,212,0.35)" stroke="#262626" stroke-width="0.95"/>
<line x1="660.5" y1="751" x2="660.5" y2="770" stroke="#262626" stroke-width="1.0"/>
<line x1="660.5" y1="786" x2="660.5" y2="790.7" stroke="#262626" stroke-width="1.0"/>
<rect x="658.5" y="770" width="4" height="16" fill="rgba(228,228,212,0.35)" stroke="#262626" stroke-width="0.95"/>
<line x1="665.5" y1="742.4" x2="665.5" y2="761.3" stroke="#262626" stroke-width="1.0"/>
<line x1="665.5" y1="764.7" x2="665.5" y2="767.3" stroke="#262626" stroke-width="1.0"/>
<rect x="663.5" y="761.3" width="4" height="3.4" fill="rgba(228,228,212,0.35)" stroke="#262626" stroke-width="0.95"/>
<line x1="670.5" y1="741.3" x2="670.5" y2="742.4" stroke="#262626" stroke-width="1.0"/>
<line x1="670.5" y1="758.3" x2="670.5" y2="764.7" stroke="#262626" stroke-width="1.0"/>
<rect x="668.5" y="742.4" width="4" height="15.9" fill="rgba(228,228,212,0.35)" stroke="#262626" stroke-width="0.95"/>
<line x1="676.5" y1="702.7" x2="676.5" y2="705.3" stroke="#262626" stroke-width="1.0"/>
<line x1="676.5" y1="742.2" x2="676.5" y2="744.7" stroke="#262626" stroke-width="1.0"/>
<rect x="674.5" y="705.3" width="4" height="36.9" fill="rgba(228,228,212,0.35)" stroke="#262626" stroke-width="0.95"/>
<line x1="681.5" y1="700" x2="681.5" y2="703.3" stroke="#262626" stroke-width="1.0"/>
<line x1="681.5" y1="708.3" x2="681.5" y2="720" stroke="#262626" stroke-width="1.0"/>
<rect x="679.5" y="703.3" width="4" height="5" fill="rgba(228,228,212,0.35)" stroke="#262626" stroke-width="0.95"/>
<line x1="686.5" y1="692.7" x2="686.5" y2="722.7" stroke="#c1334f" stroke-width="1.25"/>
<rect x="684" y="707.3" width="5" height="10.3" fill="#c1334f"/>
<line x1="692.5" y1="709.3" x2="692.5" y2="734.7" stroke="#c1334f" stroke-width="1.25"/>
<rect x="690" y="714.4" width="5" height="18.3" fill="#c1334f"/>
<line x1="697.5" y1="706.7" x2="697.5" y2="709.3" stroke="#262626" stroke-width="1.0"/>
<line x1="697.5" y1="728.7" x2="697.5" y2="730.7" stroke="#262626" stroke-width="1.0"/>
<rect x="695.5" y="709.3" width="4" height="19.4" fill="rgba(228,228,212,0.35)" stroke="#262626" stroke-width="0.95"/>
<line x1="703.5" y1="703.7" x2="703.5" y2="706.7" stroke="#262626" stroke-width="1.0"/>
<line x1="703.5" y1="711.3" x2="703.5" y2="722" stroke="#262626" stroke-width="1.0"/>
<rect x="701.5" y="706.7" width="4" height="4.6" fill="rgba(228,228,212,0.35)" stroke="#262626" stroke-width="0.95"/>
<line x1="708.5" y1="698.7" x2="708.5" y2="721" stroke="#262626" stroke-width="1.0"/>
<rect x="706" y="703" width="5" height="2.6" fill="#2b3034"/>
<line x1="714.5" y1="681.3" x2="714.5" y2="683.3" stroke="#262626" stroke-width="1.0"/>
<line x1="714.5" y1="704.3" x2="714.5" y2="705.3" stroke="#262626" stroke-width="1.0"/>
<rect x="712.5" y="683.3" width="4" height="21" fill="rgba(228,228,212,0.35)" stroke="#262626" stroke-width="0.95"/>
<line x1="719.5" y1="676.7" x2="719.5" y2="710.7" stroke="#c1334f" stroke-width="1.25"/>
<rect x="717" y="684.3" width="5" height="12.4" fill="#c1334f"/>
<line x1="724.5" y1="688.7" x2="724.5" y2="710.7" stroke="#c1334f" stroke-width="1.25"/>
<rect x="722" y="696.7" width="5" height="5.7" fill="#c1334f"/>
<line x1="730.5" y1="690.7" x2="730.5" y2="696" stroke="#262626" stroke-width="1.0"/>
<line x1="730.5" y1="704.7" x2="730.5" y2="709.3" stroke="#262626" stroke-width="1.0"/>
<rect x="728.5" y="696" width="4" height="8.7" fill="rgba(228,228,212,0.35)" stroke="#262626" stroke-width="0.95"/>
<line x1="735.5" y1="684.3" x2="735.5" y2="687.7" stroke="#262626" stroke-width="1.0"/>
<line x1="735.5" y1="694.7" x2="735.5" y2="698.7" stroke="#262626" stroke-width="1.0"/>
<rect x="733.5" y="687.7" width="4" height="7" fill="rgba(228,228,212,0.35)" stroke="#262626" stroke-width="0.95"/>
<line x1="465.8" y1="661.5" x2="773.7" y2="661.5" stroke="#1414e6" stroke-width="2"/>
<line x1="746.7" y1="667.3" x2="818.5" y2="822" stroke="#f01212" stroke-width="2"/>
<polygon points="822.5,831.3 812.6,822 823.3,817.2" fill="#f01212"/>
<text x="826" y="856" class="s" font-size="13" font-weight="bold" fill="#e81818" text-anchor="middle">?</text>
<polygon points="67.2,487.2 73.2,487.2 71.5,491.2" fill="#fbf8f2"/>
<rect x="58.5" y="478.2" width="23.4" height="9" fill="#fdfbf6" stroke="#d4bdb4" stroke-width="0.8"/>
<text x="70.2" y="485.9" class="s" font-size="8.8" fill="#111" text-anchor="middle">70.43</text>
<polygon points="94.2,490.8 100.2,490.8 98.5,494.8" fill="#fbf8f2"/>
<rect x="85.5" y="481.8" width="23.4" height="9" fill="#fdfbf6" stroke="#d4bdb4" stroke-width="0.8"/>
<text x="97.2" y="489.5" class="s" font-size="8.8" fill="#111" text-anchor="middle">69.92</text>
<polygon points="126.2,507.2 132.2,507.2 130.5,511.2" fill="#fbf8f2"/>
<rect x="117.5" y="498.2" width="23.4" height="9" fill="#fdfbf6" stroke="#d4bdb4" stroke-width="0.8"/>
<text x="129.2" y="505.9" class="s" font-size="8.8" fill="#111" text-anchor="middle">68.37</text>
<polygon points="83.2,533 89.2,533 87.5,528.5" fill="#fbf8f2"/>
<rect x="74.5" y="533" width="23.4" height="9" fill="#fdfbf6" stroke="#d4bdb4" stroke-width="0.8"/>
<text x="86.2" y="540.7" class="s" font-size="8.8" fill="#111" text-anchor="middle">66.92</text>
<polygon points="137.2,560.8 143.2,560.8 141.5,556.3" fill="#fbf8f2"/>
<rect x="128.5" y="560.8" width="23.4" height="9" fill="#fdfbf6" stroke="#d4bdb4" stroke-width="0.8"/>
<text x="140.2" y="568.5" class="s" font-size="8.8" fill="#111" text-anchor="middle">64.43</text>
<polygon points="202.2,475.8 208.2,475.8 206.5,479.8" fill="#fbf8f2"/>
<rect x="193.5" y="466.8" width="23.4" height="9" fill="#fdfbf6" stroke="#d4bdb4" stroke-width="0.8"/>
<text x="205.2" y="474.5" class="s" font-size="8.8" fill="#111" text-anchor="middle">71.40</text>
<polygon points="234.2,477.2 240.2,477.2 238.5,481.2" fill="#fbf8f2"/>
<rect x="225.5" y="468.2" width="23.4" height="9" fill="#fdfbf6" stroke="#d4bdb4" stroke-width="0.8"/>
<text x="237.2" y="475.9" class="s" font-size="8.8" fill="#111" text-anchor="middle">71.26</text>
<polygon points="218.2,534.2 224.2,534.2 222.5,529.7" fill="#fbf8f2"/>
<rect x="209.5" y="534.2" width="23.4" height="9" fill="#fdfbf6" stroke="#d4bdb4" stroke-width="0.8"/>
<text x="221.2" y="541.9" class="s" font-size="8.8" fill="#111" text-anchor="middle">66.86</text>
<polygon points="245.2,522.5 251.2,522.5 249.5,518" fill="#fbf8f2"/>
<rect x="236.5" y="522.5" width="23.4" height="9" fill="#fdfbf6" stroke="#d4bdb4" stroke-width="0.8"/>
<text x="248.2" y="530.2" class="s" font-size="8.8" fill="#111" text-anchor="middle">67.94</text>
<polygon points="315.2,421.3 321.2,421.3 319.5,425.3" fill="#fbf8f2"/>
<rect x="306.5" y="412.3" width="23.4" height="9" fill="#fdfbf6" stroke="#d4bdb4" stroke-width="0.8"/>
<text x="318.2" y="420" class="s" font-size="8.8" fill="#111" text-anchor="middle">76.90</text>
<polygon points="488.2,624.7 494.2,624.7 492.5,628.7" fill="#fbf8f2"/>
<rect x="479.5" y="615.7" width="23.4" height="9" fill="#fdfbf6" stroke="#d4bdb4" stroke-width="0.8"/>
<text x="491.2" y="623.4" class="s" font-size="8.8" fill="#111" text-anchor="middle">58.16</text>
<polygon points="472.2,679.2 478.2,679.2 476.5,674.7" fill="#fbf8f2"/>
<rect x="463.5" y="679.2" width="23.4" height="9" fill="#fdfbf6" stroke="#d4bdb4" stroke-width="0.8"/>
<text x="475.2" y="686.9" class="s" font-size="8.8" fill="#111" text-anchor="middle">54.75</text>
<polygon points="548.2,671 554.2,671 552.5,675" fill="#fbf8f2"/>
<rect x="539.5" y="662" width="23.4" height="9" fill="#fdfbf6" stroke="#d4bdb4" stroke-width="0.8"/>
<text x="551.2" y="669.7" class="s" font-size="8.8" fill="#111" text-anchor="middle">54.55</text>
<polygon points="526.2,698 532.2,698 530.5,702" fill="#fbf8f2"/>
<rect x="517.5" y="689" width="23.4" height="9" fill="#fdfbf6" stroke="#d4bdb4" stroke-width="0.8"/>
<text x="529.2" y="696.7" class="s" font-size="8.8" fill="#111" text-anchor="middle">52.56</text>
<polygon points="580.2,688 586.2,688 584.5,692" fill="#fbf8f2"/>
<rect x="571.5" y="679" width="23.4" height="9" fill="#fdfbf6" stroke="#d4bdb4" stroke-width="0.8"/>
<text x="583.2" y="686.7" class="s" font-size="8.8" fill="#111" text-anchor="middle">53.27</text>
<polygon points="515.2,742.5 521.2,742.5 514.5,738" fill="#fbf8f2"/>
<rect x="506.5" y="742.5" width="23.4" height="9" fill="#fdfbf6" stroke="#d4bdb4" stroke-width="0.8"/>
<text x="518.2" y="750.2" class="s" font-size="8.8" fill="#111" text-anchor="middle">50.10</text>
<polygon points="531.2,754.2 537.2,754.2 535.5,749.7" fill="#fbf8f2"/>
<rect x="522.5" y="754.2" width="23.4" height="9" fill="#fdfbf6" stroke="#d4bdb4" stroke-width="0.8"/>
<text x="534.2" y="761.9" class="s" font-size="8.8" fill="#111" text-anchor="middle">49.41</text>
<polygon points="623.2,779.7 629.2,779.7 627.5,783.7" fill="#fbf8f2"/>
<rect x="614.5" y="770.7" width="23.4" height="9" fill="#fdfbf6" stroke="#d4bdb4" stroke-width="0.8"/>
<text x="626.2" y="778.4" class="s" font-size="8.8" fill="#111" text-anchor="middle">47.00</text>
<polygon points="618.2,865 624.2,865 622.5,860.5" fill="#fbf8f2"/>
<rect x="609.5" y="865" width="23.4" height="9" fill="#fdfbf6" stroke="#d4bdb4" stroke-width="0.8"/>
<text x="621.2" y="872.7" class="s" font-size="8.8" fill="#111" text-anchor="middle">42.36</text>
<polygon points="683.7,688.2 689.7,688.2 686.5,692.2" fill="#fbf8f2"/>
<rect x="675" y="679.2" width="23.4" height="9" fill="#fdfbf6" stroke="#d4bdb4" stroke-width="0.8"/>
<text x="686.7" y="686.9" class="s" font-size="8.8" fill="#111" text-anchor="middle">53.31</text>
<polygon points="688.2,739.7 694.2,739.7 692.5,735.2" fill="#fbf8f2"/>
<rect x="679.5" y="739.7" width="23.4" height="9" fill="#fdfbf6" stroke="#d4bdb4" stroke-width="0.8"/>
<text x="691.2" y="747.4" class="s" font-size="8.8" fill="#111" text-anchor="middle">50.38</text>
<polygon points="715.2,672.2 721.2,672.2 719.5,676.2" fill="#fbf8f2"/>
<rect x="706.5" y="663.2" width="23.4" height="9" fill="#fdfbf6" stroke="#d4bdb4" stroke-width="0.8"/>
<text x="718.2" y="670.9" class="s" font-size="8.8" fill="#111" text-anchor="middle">54.51</text>
<polygon points="720.2,715.7 726.2,715.7 724.5,711.2" fill="#fbf8f2"/>
<rect x="711.5" y="715.7" width="23.4" height="9" fill="#fdfbf6" stroke="#d4bdb4" stroke-width="0.8"/>
<text x="723.2" y="723.4" class="s" font-size="8.8" fill="#111" text-anchor="middle">51.86</text>
</g>
<line x1="41.5" y1="1039.5" x2="1158.5" y2="1039.5" stroke="rgba(165,130,105,0.17)" stroke-width="1" />
<line x1="41.5" y1="1026.5" x2="1158.5" y2="1026.5" stroke="rgba(165,130,105,0.17)" stroke-width="1" />
<line x1="41.5" y1="1014.5" x2="1158.5" y2="1014.5" stroke="rgba(165,130,105,0.17)" stroke-width="1" />
<line x1="41.5" y1="1001.5" x2="1158.5" y2="1001.5" stroke="rgba(165,130,105,0.17)" stroke-width="1" />
<line x1="41.5" y1="989.5" x2="1158.5" y2="989.5" stroke="rgba(165,130,105,0.17)" stroke-width="1" />
<line x1="41.5" y1="976.5" x2="1158.5" y2="976.5" stroke="rgba(165,130,105,0.17)" stroke-width="1" />
<line x1="41.5" y1="964.5" x2="1158.5" y2="964.5" stroke="rgba(165,130,105,0.17)" stroke-width="1" />
<line x1="41.5" y1="951.5" x2="1158.5" y2="951.5" stroke="rgba(165,130,105,0.17)" stroke-width="1" />
<line x1="41.5" y1="938.5" x2="1158.5" y2="938.5" stroke="rgba(165,130,105,0.17)" stroke-width="1" />
<line x1="41.5" y1="926.5" x2="1158.5" y2="926.5" stroke="rgba(165,130,105,0.17)" stroke-width="1" />
<line x1="41.5" y1="913.5" x2="1158.5" y2="913.5" stroke="rgba(165,130,105,0.17)" stroke-width="1" />
<line x1="41.5" y1="901.5" x2="1158.5" y2="901.5" stroke="rgba(165,130,105,0.17)" stroke-width="1" />
<rect x="42.2" y="938.8" width="4.4" height="15.8" fill="#4b9cc9" stroke="#2f7fad" stroke-width="0.7"/>
<rect x="47.6" y="938.8" width="4.4" height="15" fill="#4b9cc9" stroke="#2f7fad" stroke-width="0.7"/>
<rect x="53" y="938.8" width="4.4" height="12.4" fill="#4b9cc9" stroke="#2f7fad" stroke-width="0.7"/>
<rect x="58.4" y="938.8" width="4.4" height="9.5" fill="#4b9cc9" stroke="#2f7fad" stroke-width="0.7"/>
<rect x="63.8" y="938.8" width="4.4" height="7.6" fill="#4b9cc9" stroke="#2f7fad" stroke-width="0.7"/>
<rect x="69.2" y="938.8" width="4.4" height="4" fill="#4b9cc9" stroke="#2f7fad" stroke-width="0.7"/>
<rect x="74.6" y="938.8" width="4.4" height="3.5" fill="#4b9cc9" stroke="#2f7fad" stroke-width="0.7"/>
<rect x="80" y="938.8" width="4.4" height="5.8" fill="#4b9cc9" stroke="#2f7fad" stroke-width="0.7"/>
<rect x="85.4" y="938.8" width="4.4" height="4.4" fill="#4b9cc9" stroke="#2f7fad" stroke-width="0.7"/>
<rect x="90.8" y="938.8" width="4.4" height="4.3" fill="#4b9cc9" stroke="#2f7fad" stroke-width="0.7"/>
<rect x="96.2" y="938.8" width="4.4" height="2.6" fill="#4b9cc9" stroke="#2f7fad" stroke-width="0.7"/>
<rect x="101.6" y="938.8" width="4.4" height="0.6" fill="#4b9cc9" stroke="#2f7fad" stroke-width="0.7"/>
<rect x="107" y="938.8" width="4.4" height="2.9" fill="#4b9cc9" stroke="#2f7fad" stroke-width="0.7"/>
<rect x="112.4" y="938.8" width="4.4" height="4.3" fill="#4b9cc9" stroke="#2f7fad" stroke-width="0.7"/>
<rect x="117.8" y="938.8" width="4.4" height="3.8" fill="#4b9cc9" stroke="#2f7fad" stroke-width="0.7"/>
<rect x="123.2" y="938.8" width="4.4" height="3.5" fill="#4b9cc9" stroke="#2f7fad" stroke-width="0.7"/>
<rect x="128.6" y="938.8" width="4.4" height="3.3" fill="#4b9cc9" stroke="#2f7fad" stroke-width="0.7"/>
<rect x="134" y="938.8" width="4.4" height="6.7" fill="#4b9cc9" stroke="#2f7fad" stroke-width="0.7"/>
<rect x="139.4" y="938.8" width="4.4" height="8" fill="#4b9cc9" stroke="#2f7fad" stroke-width="0.7"/>
<rect x="144.8" y="938.8" width="4.4" height="8.4" fill="#4b9cc9" stroke="#2f7fad" stroke-width="0.7"/>
<rect x="150.2" y="938.8" width="4.4" height="7.9" fill="#4b9cc9" stroke="#2f7fad" stroke-width="0.7"/>
<rect x="155.6" y="938.8" width="4.4" height="6.6" fill="#4b9cc9" stroke="#2f7fad" stroke-width="0.7"/>
<rect x="161" y="938.8" width="4.4" height="1.4" fill="#4b9cc9" stroke="#2f7fad" stroke-width="0.7"/>
<rect x="166.4" y="936.4" width="4.4" height="2.4" fill="#4b9cc9" stroke="#2f7fad" stroke-width="0.7"/>
<rect x="171.8" y="932.5" width="4.4" height="6.3" fill="#4b9cc9" stroke="#2f7fad" stroke-width="0.7"/>
<rect x="177.2" y="930" width="4.4" height="8.8" fill="#4b9cc9" stroke="#2f7fad" stroke-width="0.7"/>
<rect x="182.6" y="929.2" width="4.4" height="9.6" fill="#4b9cc9" stroke="#2f7fad" stroke-width="0.7"/>
<rect x="188" y="927.1" width="4.4" height="11.7" fill="#4b9cc9" stroke="#2f7fad" stroke-width="0.7"/>
<rect x="193.4" y="925.8" width="4.4" height="13" fill="#4b9cc9" stroke="#2f7fad" stroke-width="0.7"/>
<rect x="198.8" y="925.5" width="4.4" height="13.3" fill="#4b9cc9" stroke="#2f7fad" stroke-width="0.7"/>
<rect x="204.2" y="925.1" width="4.4" height="13.7" fill="#4b9cc9" stroke="#2f7fad" stroke-width="0.7"/>
<rect x="209.6" y="928.2" width="4.4" height="10.6" fill="#4b9cc9" stroke="#2f7fad" stroke-width="0.7"/>
<rect x="215" y="932.4" width="4.4" height="6.4" fill="#4b9cc9" stroke="#2f7fad" stroke-width="0.7"/>
<rect x="220.4" y="935.7" width="4.4" height="3.1" fill="#4b9cc9" stroke="#2f7fad" stroke-width="0.7"/>
<rect x="225.8" y="938.4" width="4.4" height="0.6" fill="#4b9cc9" stroke="#2f7fad" stroke-width="0.7"/>
<rect x="231.2" y="936.5" width="4.4" height="2.3" fill="#4b9cc9" stroke="#2f7fad" stroke-width="0.7"/>
<rect x="236.6" y="933.9" width="4.4" height="4.9" fill="#4b9cc9" stroke="#2f7fad" stroke-width="0.7"/>
<rect x="242" y="934.8" width="4.4" height="4" fill="#4b9cc9" stroke="#2f7fad" stroke-width="0.7"/>
<rect x="247.4" y="935.6" width="4.4" height="3.2" fill="#4b9cc9" stroke="#2f7fad" stroke-width="0.7"/>
<rect x="252.8" y="936.3" width="4.4" height="2.5" fill="#4b9cc9" stroke="#2f7fad" stroke-width="0.7"/>
<rect x="258.2" y="936.2" width="4.4" height="2.6" fill="#4b9cc9" stroke="#2f7fad" stroke-width="0.7"/>
<rect x="263.6" y="934.2" width="4.4" height="4.6" fill="#4b9cc9" stroke="#2f7fad" stroke-width="0.7"/>
<rect x="269" y="934.2" width="4.4" height="4.6" fill="#4b9cc9" stroke="#2f7fad" stroke-width="0.7"/>
<rect x="274.4" y="932.8" width="4.4" height="6" fill="#4b9cc9" stroke="#2f7fad" stroke-width="0.7"/>
<rect x="279.8" y="931.3" width="4.4" height="7.5" fill="#4b9cc9" stroke="#2f7fad" stroke-width="0.7"/>
<rect x="285.2" y="929.6" width="4.4" height="9.2" fill="#4b9cc9" stroke="#2f7fad" stroke-width="0.7"/>
<rect x="290.6" y="930.8" width="4.4" height="8" fill="#4b9cc9" stroke="#2f7fad" stroke-width="0.7"/>
<rect x="296" y="931.2" width="4.4" height="7.6" fill="#4b9cc9" stroke="#2f7fad" stroke-width="0.7"/>
<rect x="301.4" y="930.5" width="4.4" height="8.3" fill="#4b9cc9" stroke="#2f7fad" stroke-width="0.7"/>
<rect x="306.8" y="928.9" width="4.4" height="9.9" fill="#4b9cc9" stroke="#2f7fad" stroke-width="0.7"/>
<rect x="312.2" y="926.8" width="4.4" height="12" fill="#4b9cc9" stroke="#2f7fad" stroke-width="0.7"/>
<rect x="317.6" y="925.4" width="4.4" height="13.4" fill="#4b9cc9" stroke="#2f7fad" stroke-width="0.7"/>
<rect x="323" y="928" width="4.4" height="10.8" fill="#4b9cc9" stroke="#2f7fad" stroke-width="0.7"/>
<rect x="328.4" y="930.1" width="4.4" height="8.7" fill="#4b9cc9" stroke="#2f7fad" stroke-width="0.7"/>
<rect x="333.8" y="932" width="4.4" height="6.8" fill="#4b9cc9" stroke="#2f7fad" stroke-width="0.7"/>
<rect x="339.2" y="932.6" width="4.4" height="6.2" fill="#4b9cc9" stroke="#2f7fad" stroke-width="0.7"/>
<rect x="344.6" y="937" width="4.4" height="1.8" fill="#4b9cc9" stroke="#2f7fad" stroke-width="0.7"/>
<rect x="350" y="938.8" width="4.4" height="4.6" fill="#4b9cc9" stroke="#2f7fad" stroke-width="0.7"/>
<rect x="355.4" y="938.8" width="4.4" height="9.7" fill="#4b9cc9" stroke="#2f7fad" stroke-width="0.7"/>
<rect x="360.8" y="938.8" width="4.4" height="10.8" fill="#4b9cc9" stroke="#2f7fad" stroke-width="0.7"/>
<rect x="366.2" y="938.8" width="4.4" height="10.3" fill="#4b9cc9" stroke="#2f7fad" stroke-width="0.7"/>
<rect x="371.6" y="938.8" width="4.4" height="13.9" fill="#4b9cc9" stroke="#2f7fad" stroke-width="0.7"/>
<rect x="377" y="938.8" width="4.4" height="16.8" fill="#4b9cc9" stroke="#2f7fad" stroke-width="0.7"/>
<rect x="382.4" y="938.8" width="4.4" height="16.9" fill="#4b9cc9" stroke="#2f7fad" stroke-width="0.7"/>
<rect x="387.8" y="938.8" width="4.4" height="15.5" fill="#4b9cc9" stroke="#2f7fad" stroke-width="0.7"/>
<rect x="393.2" y="938.8" width="4.4" height="19.7" fill="#4b9cc9" stroke="#2f7fad" stroke-width="0.7"/>
<rect x="398.6" y="938.8" width="4.4" height="21.5" fill="#4b9cc9" stroke="#2f7fad" stroke-width="0.7"/>
<rect x="404" y="938.8" width="4.4" height="19.8" fill="#4b9cc9" stroke="#2f7fad" stroke-width="0.7"/>
<rect x="409.4" y="938.8" width="4.4" height="18.1" fill="#4b9cc9" stroke="#2f7fad" stroke-width="0.7"/>
<rect x="414.8" y="938.8" width="4.4" height="16.5" fill="#4b9cc9" stroke="#2f7fad" stroke-width="0.7"/>
<rect x="420.2" y="938.8" width="4.4" height="14.9" fill="#4b9cc9" stroke="#2f7fad" stroke-width="0.7"/>
<rect x="425.6" y="938.8" width="4.4" height="14.5" fill="#4b9cc9" stroke="#2f7fad" stroke-width="0.7"/>
<rect x="431" y="938.8" width="4.4" height="16.6" fill="#4b9cc9" stroke="#2f7fad" stroke-width="0.7"/>
<rect x="436.4" y="938.8" width="4.4" height="17.5" fill="#4b9cc9" stroke="#2f7fad" stroke-width="0.7"/>
<rect x="441.8" y="938.8" width="4.4" height="17.1" fill="#4b9cc9" stroke="#2f7fad" stroke-width="0.7"/>
<rect x="447.2" y="938.8" width="4.4" height="16.8" fill="#4b9cc9" stroke="#2f7fad" stroke-width="0.7"/>
<rect x="452.6" y="938.8" width="4.4" height="16.6" fill="#4b9cc9" stroke="#2f7fad" stroke-width="0.7"/>
<rect x="458" y="938.8" width="4.4" height="17" fill="#4b9cc9" stroke="#2f7fad" stroke-width="0.7"/>
<rect x="463.4" y="938.8" width="4.4" height="16.3" fill="#4b9cc9" stroke="#2f7fad" stroke-width="0.7"/>
<rect x="468.8" y="938.8" width="4.4" height="14.8" fill="#4b9cc9" stroke="#2f7fad" stroke-width="0.7"/>
<rect x="474.2" y="938.8" width="4.4" height="19.2" fill="#4b9cc9" stroke="#2f7fad" stroke-width="0.7"/>
<rect x="479.6" y="938.8" width="4.4" height="20.2" fill="#4b9cc9" stroke="#2f7fad" stroke-width="0.7"/>
<rect x="485" y="938.8" width="4.4" height="18.7" fill="#4b9cc9" stroke="#2f7fad" stroke-width="0.7"/>
<rect x="490.4" y="938.8" width="4.4" height="15.7" fill="#4b9cc9" stroke="#2f7fad" stroke-width="0.7"/>
<rect x="495.8" y="938.8" width="4.4" height="11.5" fill="#4b9cc9" stroke="#2f7fad" stroke-width="0.7"/>
<rect x="501.2" y="938.8" width="4.4" height="13.2" fill="#4b9cc9" stroke="#2f7fad" stroke-width="0.7"/>
<rect x="506.6" y="938.8" width="4.4" height="11.5" fill="#4b9cc9" stroke="#2f7fad" stroke-width="0.7"/>
<rect x="512" y="938.8" width="4.4" height="17.3" fill="#4b9cc9" stroke="#2f7fad" stroke-width="0.7"/>
<rect x="517.4" y="938.8" width="4.4" height="16.6" fill="#4b9cc9" stroke="#2f7fad" stroke-width="0.7"/>
<rect x="522.8" y="938.8" width="4.4" height="14.7" fill="#4b9cc9" stroke="#2f7fad" stroke-width="0.7"/>
<rect x="528.2" y="938.8" width="4.4" height="13.6" fill="#4b9cc9" stroke="#2f7fad" stroke-width="0.7"/>
<rect x="533.6" y="938.8" width="4.4" height="9.6" fill="#4b9cc9" stroke="#2f7fad" stroke-width="0.7"/>
<rect x="539" y="938.8" width="4.4" height="7.2" fill="#4b9cc9" stroke="#2f7fad" stroke-width="0.7"/>
<rect x="544.4" y="937.9" width="4.4" height="0.9" fill="#4b9cc9" stroke="#2f7fad" stroke-width="0.7"/>
<rect x="549.8" y="933.1" width="4.4" height="5.7" fill="#4b9cc9" stroke="#2f7fad" stroke-width="0.7"/>
<rect x="555.2" y="932.1" width="4.4" height="6.7" fill="#4b9cc9" stroke="#2f7fad" stroke-width="0.7"/>
<rect x="560.6" y="928.9" width="4.4" height="9.9" fill="#4b9cc9" stroke="#2f7fad" stroke-width="0.7"/>
<rect x="566" y="928.4" width="4.4" height="10.4" fill="#4b9cc9" stroke="#2f7fad" stroke-width="0.7"/>
<rect x="571.4" y="927.7" width="4.4" height="11.1" fill="#4b9cc9" stroke="#2f7fad" stroke-width="0.7"/>
<rect x="576.8" y="927.3" width="4.4" height="11.5" fill="#4b9cc9" stroke="#2f7fad" stroke-width="0.7"/>
<rect x="582.2" y="925" width="4.4" height="13.8" fill="#4b9cc9" stroke="#2f7fad" stroke-width="0.7"/>
<rect x="587.6" y="926.3" width="4.4" height="12.5" fill="#4b9cc9" stroke="#2f7fad" stroke-width="0.7"/>
<rect x="593" y="928" width="4.4" height="10.8" fill="#4b9cc9" stroke="#2f7fad" stroke-width="0.7"/>
<rect x="598.4" y="935.5" width="4.4" height="3.2" fill="#4b9cc9" stroke="#2f7fad" stroke-width="0.7"/>
<rect x="603.8" y="936.8" width="4.4" height="2" fill="#4b9cc9" stroke="#2f7fad" stroke-width="0.7"/>
<rect x="609.2" y="938.8" width="4.4" height="1.2" fill="#4b9cc9" stroke="#2f7fad" stroke-width="0.7"/>
<rect x="614.6" y="938.8" width="4.4" height="4.2" fill="#4b9cc9" stroke="#2f7fad" stroke-width="0.7"/>
<rect x="620" y="938.8" width="4.4" height="9.5" fill="#4b9cc9" stroke="#2f7fad" stroke-width="0.7"/>
<rect x="625.4" y="938.8" width="4.4" height="6.2" fill="#4b9cc9" stroke="#2f7fad" stroke-width="0.7"/>
<rect x="630.8" y="938.8" width="4.4" height="5" fill="#4b9cc9" stroke="#2f7fad" stroke-width="0.7"/>
<rect x="636.2" y="938.8" width="4.4" height="2.5" fill="#4b9cc9" stroke="#2f7fad" stroke-width="0.7"/>
<rect x="641.6" y="938.3" width="4.4" height="0.6" fill="#4b9cc9" stroke="#2f7fad" stroke-width="0.7"/>
<rect x="647" y="935" width="4.4" height="3.8" fill="#4b9cc9" stroke="#2f7fad" stroke-width="0.7"/>
<rect x="652.4" y="930.5" width="4.4" height="8.2" fill="#4b9cc9" stroke="#2f7fad" stroke-width="0.7"/>
<rect x="657.8" y="926.8" width="4.4" height="12" fill="#4b9cc9" stroke="#2f7fad" stroke-width="0.7"/>
<rect x="663.2" y="923" width="4.4" height="15.8" fill="#4b9cc9" stroke="#2f7fad" stroke-width="0.7"/>
<rect x="668.6" y="918.3" width="4.4" height="20.5" fill="#4b9cc9" stroke="#2f7fad" stroke-width="0.7"/>
<rect x="674" y="912.5" width="4.4" height="26.2" fill="#4b9cc9" stroke="#2f7fad" stroke-width="0.7"/>
<rect x="679.4" y="909.5" width="4.4" height="29.2" fill="#4b9cc9" stroke="#2f7fad" stroke-width="0.7"/>
<rect x="684.8" y="909.5" width="4.4" height="29.2" fill="#4b9cc9" stroke="#2f7fad" stroke-width="0.7"/>
<rect x="690.2" y="913" width="4.4" height="25.8" fill="#4b9cc9" stroke="#2f7fad" stroke-width="0.7"/>
<rect x="695.6" y="913.3" width="4.4" height="25.5" fill="#4b9cc9" stroke="#2f7fad" stroke-width="0.7"/>
<rect x="701" y="915" width="4.4" height="23.8" fill="#4b9cc9" stroke="#2f7fad" stroke-width="0.7"/>
<rect x="706.4" y="916" width="4.4" height="22.8" fill="#4b9cc9" stroke="#2f7fad" stroke-width="0.7"/>
<rect x="711.8" y="916" width="4.4" height="22.8" fill="#4b9cc9" stroke="#2f7fad" stroke-width="0.7"/>
<rect x="717.2" y="917.5" width="4.4" height="21.2" fill="#4b9cc9" stroke="#2f7fad" stroke-width="0.7"/>
<rect x="722.6" y="920.8" width="4.4" height="18" fill="#4b9cc9" stroke="#2f7fad" stroke-width="0.7"/>
<rect x="728" y="922" width="4.4" height="16.8" fill="#4b9cc9" stroke="#2f7fad" stroke-width="0.7"/>
<rect x="733.4" y="925" width="4.4" height="13.8" fill="#4b9cc9" stroke="#2f7fad" stroke-width="0.7"/>
<polyline fill="none" stroke="#f0402e" stroke-width="1.25" stroke-linejoin="round" points="41.6,926.6 44.4,928 49.8,930.8 55.2,933.3 60.6,935.5 66,937.4 71.4,939 76.8,940.2 82.2,941.2 87.6,942.1 93,942.9 98.4,943.9 103.8,944.9 109.2,946.1 114.6,947.2 120,948.4 125.4,949.7 130.8,951.2 136.2,952.8 141.6,954.5 147,956.1 152.4,957.6 157.8,958.7 163.2,959.1 168.6,958.7 174,957.6 179.4,955.8 184.8,953.6 190.2,951.2 195.6,948.8 201,946.3 206.4,943.9 211.8,941.8 217.2,940.2 222.6,938.9 228,937.9 233.4,937.3 238.8,936.9 244.2,936.5 249.6,936 255,935.2 260.4,934.4 265.8,933.3 271.2,932.1 276.6,930.5 282,928.7 287.4,926.7 292.8,924.2 298.2,921.3 303.6,918 309,914.6 314.4,911.5 319.8,908.9 325.2,907.1 330.6,905.7 336,904.8 341.4,904.2 346.8,904.3 352.2,905.4 357.6,907.3 363,909.7 368.4,912.9 373.8,916.9 379.2,921.4 384.6,926.1 390,930.8 395.4,935.3 400.8,939.8 406.2,944 411.6,948.1 417,952.2 422.4,956.3 427.8,960.5 433.2,964.6 438.6,968.8 444,972.9 449.4,976.9 454.8,980.9 460.2,984.8 465.6,988.7 471,992.7 476.4,997 481.8,1001.8 487.2,1006.8 492.6,1011.3 498,1015 503.4,1018.1 508.8,1021 514.2,1024 519.6,1027.1 525,1030.3 530.4,1033.1 535.8,1035.4 541.2,1036.8 546.6,1037.2 552,1036.4 557.4,1034.7 562.8,1032.4 568.2,1029.9 573.6,1027.3 579,1024.7 584.4,1022.2 589.8,1019.7 595.2,1017.5 600.6,1015.7 606,1014.6 611.4,1014.4 616.8,1015 622.2,1016.2 627.6,1017.4 633,1018.4 638.4,1019.1 643.8,1019.1 649.2,1018.4 654.6,1016.8 660,1014.5 665.4,1011 670.8,1006.2 676.2,1000.3 681.6,993.5 687,986.2 692.4,978.8 697.8,971.6 703.2,964.5 708.6,957.8 714,951.7 719.4,946.3 724.8,941.8 730.2,938 735.6,934.5"/>
<polyline fill="none" stroke="#181818" stroke-width="1.55" stroke-linejoin="round" points="41.6,943.2 44.4,943.8 49.8,945.8 55.2,945.8 60.6,945 66,945 71.4,943 76.8,943.8 82.2,947 87.6,946.5 93,947.2 98.4,946.5 103.8,945.5 109.2,949 114.6,951.5 120,952.2 125.4,953.2 130.8,954.5 136.2,959.5 141.6,962.5 147,964.5 152.4,965.5 157.8,965.2 163.2,960.5 168.6,956.2 174,951.2 179.4,947 184.8,944 190.2,939.5 195.6,935.8 201,933 206.4,930.2 211.8,931.2 217.2,933.8 222.6,935.8 228,937.5 233.4,935 238.8,932 244.2,932.5 249.6,932.8 255,932.8 260.4,931.8 265.8,928.8 271.2,927.5 276.6,924.5 282,921.2 287.4,917.5 292.8,916.2 298.2,913.8 303.6,909.8 309,904.8 314.4,899.5 319.8,895.5 325.2,896.2 330.6,897 336,898 341.4,898 346.8,902.5 352.2,910 357.6,917 363,920.5 368.4,923.2 373.8,930.8 379.2,938.2 384.6,943 390,946.2 395.4,955 400.8,961.2 406.2,963.8 411.6,966.2 417,968.8 422.4,971.2 427.8,975 433.2,981.2 438.6,986.2 444,990 449.4,993.8 454.8,997.5 460.2,1001.8 465.6,1005 471,1007.5 476.4,1016.2 481.8,1022 487.2,1025.5 492.6,1027 498,1026.5 503.4,1031.2 508.8,1032.5 514.2,1041.2 519.6,1043.8 525,1045 530.4,1046.8 535.8,1045 541.2,1044 546.6,1036.2 552,1030.8 557.4,1028 562.8,1022.5 568.2,1019.5 573.6,1016.2 579,1013.2 584.4,1007.5 589.8,1004.5 595.2,1003.8 600.6,1010 606,1010.8 611.4,1015.5 616.8,1018.8 622.2,1026.2 627.6,1023.8 633,1024.2 638.4,1022 643.8,1019.5 649.2,1015 654.6,1008.8 660,1001.8 665.4,993.8 670.8,983.8 676.2,971.2 681.6,960 687,952.5 692.4,950 697.8,943.8 703.2,938.2 708.6,935 714,928.8 719.4,925 724.8,924.2 730.2,922.5 735.6,920"/>
<rect x="41.5" y="17.5" width="1117" height="859.5" fill="none" stroke="#b39292" stroke-width="1"/>
<rect x="41.5" y="889.7" width="1117" height="163.3" fill="none" stroke="#b39292" stroke-width="1"/>
<line x1="41.5" y1="244.5" x2="1158.5" y2="244.5" stroke="#b39292" stroke-width="1" />
<line x1="41.5" y1="409.5" x2="1158.5" y2="409.5" stroke="#b39292" stroke-width="1" />
<line x1="41.5" y1="81" x2="1158.5" y2="81" stroke="#b39292" stroke-width="1.2"/>
<path d="M44.5 877 v2 M44.5 889.7 v-2 M44.5 1053 v2 M49.5 877 v2 M49.5 889.7 v-2 M49.5 1053 v2 M55.5 877 v2 M55.5 889.7 v-2 M55.5 1053 v2 M60.5 877 v2 M60.5 889.7 v-2 M60.5 1053 v2 M66.5 877 v2 M66.5 889.7 v-2 M66.5 1053 v2 M71.5 877 v2 M71.5 889.7 v-2 M71.5 1053 v2 M76.5 877 v2 M76.5 889.7 v-2 M76.5 1053 v2 M82.5 877 v2 M82.5 889.7 v-2 M82.5 1053 v2 M87.5 877 v2 M87.5 889.7 v-2 M87.5 1053 v2 M92.5 877 v2 M92.5 889.7 v-2 M92.5 1053 v2 M98.5 877 v2 M98.5 889.7 v-2 M98.5 1053 v2 M103.5 877 v2 M103.5 889.7 v-2 M103.5 1053 v2 M109.5 877 v2 M109.5 889.7 v-2 M109.5 1053 v2 M114.5 877 v2 M114.5 889.7 v-2 M114.5 1053 v2 M120.5 877 v2 M120.5 889.7 v-2 M120.5 1053 v2 M125.5 877 v2 M125.5 889.7 v-2 M125.5 1053 v2 M130.5 877 v2 M130.5 889.7 v-2 M130.5 1053 v2 M136.5 877 v2 M136.5 889.7 v-2 M136.5 1053 v2 M141.5 877 v2 M141.5 889.7 v-2 M141.5 1053 v2 M146.5 877 v2 M146.5 889.7 v-2 M146.5 1053 v2 M152.5 877 v2 M152.5 889.7 v-2 M152.5 1053 v2 M157.5 877 v2 M157.5 889.7 v-2 M157.5 1053 v2 M163.5 877 v2 M163.5 889.7 v-2 M163.5 1053 v2 M168.5 877 v2 M168.5 889.7 v-2 M168.5 1053 v2 M174.5 877 v2 M174.5 889.7 v-2 M174.5 1053 v2 M179.5 877 v2 M179.5 889.7 v-2 M179.5 1053 v2 M184.5 877 v2 M184.5 889.7 v-2 M184.5 1053 v2 M190.5 877 v2 M190.5 889.7 v-2 M190.5 1053 v2 M195.5 877 v2 M195.5 889.7 v-2 M195.5 1053 v2 M201.5 877 v2 M201.5 889.7 v-2 M201.5 1053 v2 M206.5 877 v2 M206.5 889.7 v-2 M206.5 1053 v2 M211.5 877 v2 M211.5 889.7 v-2 M211.5 1053 v2 M217.5 877 v2 M217.5 889.7 v-2 M217.5 1053 v2 M222.5 877 v2 M222.5 889.7 v-2 M222.5 1053 v2 M228.5 877 v2 M228.5 889.7 v-2 M228.5 1053 v2 M233.5 877 v2 M233.5 889.7 v-2 M233.5 1053 v2 M238.5 877 v2 M238.5 889.7 v-2 M238.5 1053 v2 M244.5 877 v2 M244.5 889.7 v-2 M244.5 1053 v2 M249.5 877 v2 M249.5 889.7 v-2 M249.5 1053 v2 M255.5 877 v2 M255.5 889.7 v-2 M255.5 1053 v2 M260.5 877 v2 M260.5 889.7 v-2 M260.5 1053 v2 M265.5 877 v2 M265.5 889.7 v-2 M265.5 1053 v2 M271.5 877 v2 M271.5 889.7 v-2 M271.5 1053 v2 M276.5 877 v2 M276.5 889.7 v-2 M276.5 1053 v2 M282.5 877 v2 M282.5 889.7 v-2 M282.5 1053 v2 M287.5 877 v2 M287.5 889.7 v-2 M287.5 1053 v2 M292.5 877 v2 M292.5 889.7 v-2 M292.5 1053 v2 M298.5 877 v2 M298.5 889.7 v-2 M298.5 1053 v2 M303.5 877 v2 M303.5 889.7 v-2 M303.5 1053 v2 M308.5 877 v2 M308.5 889.7 v-2 M308.5 1053 v2 M314.5 877 v2 M314.5 889.7 v-2 M314.5 1053 v2 M319.5 877 v2 M319.5 889.7 v-2 M319.5 1053 v2 M325.5 877 v2 M325.5 889.7 v-2 M325.5 1053 v2 M330.5 877 v2 M330.5 889.7 v-2 M330.5 1053 v2 M336.5 877 v2 M336.5 889.7 v-2 M336.5 1053 v2 M341.5 877 v2 M341.5 889.7 v-2 M341.5 1053 v2 M346.5 877 v2 M346.5 889.7 v-2 M346.5 1053 v2 M352.5 877 v2 M352.5 889.7 v-2 M352.5 1053 v2 M357.5 877 v2 M357.5 889.7 v-2 M357.5 1053 v2 M362.5 877 v2 M362.5 889.7 v-2 M362.5 1053 v2 M368.5 877 v2 M368.5 889.7 v-2 M368.5 1053 v2 M373.5 877 v2 M373.5 889.7 v-2 M373.5 1053 v2 M379.5 877 v2 M379.5 889.7 v-2 M379.5 1053 v2 M384.5 877 v2 M384.5 889.7 v-2 M384.5 1053 v2 M390.5 877 v2 M390.5 889.7 v-2 M390.5 1053 v2 M395.5 877 v2 M395.5 889.7 v-2 M395.5 1053 v2 M400.5 877 v2 M400.5 889.7 v-2 M400.5 1053 v2 M406.5 877 v2 M406.5 889.7 v-2 M406.5 1053 v2 M411.5 877 v2 M411.5 889.7 v-2 M411.5 1053 v2 M416.5 877 v2 M416.5 889.7 v-2 M416.5 1053 v2 M422.5 877 v2 M422.5 889.7 v-2 M422.5 1053 v2 M427.5 877 v2 M427.5 889.7 v-2 M427.5 1053 v2 M433.5 877 v2 M433.5 889.7 v-2 M433.5 1053 v2 M438.5 877 v2 M438.5 889.7 v-2 M438.5 1053 v2 M444.5 877 v2 M444.5 889.7 v-2 M444.5 1053 v2 M449.5 877 v2 M449.5 889.7 v-2 M449.5 1053 v2 M454.5 877 v2 M454.5 889.7 v-2 M454.5 1053 v2 M460.5 877 v2 M460.5 889.7 v-2 M460.5 1053 v2 M465.5 877 v2 M465.5 889.7 v-2 M465.5 1053 v2 M470.5 877 v2 M470.5 889.7 v-2 M470.5 1053 v2 M476.5 877 v2 M476.5 889.7 v-2 M476.5 1053 v2 M481.5 877 v2 M481.5 889.7 v-2 M481.5 1053 v2 M487.5 877 v2 M487.5 889.7 v-2 M487.5 1053 v2 M492.5 877 v2 M492.5 889.7 v-2 M492.5 1053 v2 M498.5 877 v2 M498.5 889.7 v-2 M498.5 1053 v2 M503.5 877 v2 M503.5 889.7 v-2 M503.5 1053 v2 M508.5 877 v2 M508.5 889.7 v-2 M508.5 1053 v2 M514.5 877 v2 M514.5 889.7 v-2 M514.5 1053 v2 M519.5 877 v2 M519.5 889.7 v-2 M519.5 1053 v2 M524.5 877 v2 M524.5 889.7 v-2 M524.5 1053 v2 M530.5 877 v2 M530.5 889.7 v-2 M530.5 1053 v2 M535.5 877 v2 M535.5 889.7 v-2 M535.5 1053 v2 M541.5 877 v2 M541.5 889.7 v-2 M541.5 1053 v2 M546.5 877 v2 M546.5 889.7 v-2 M546.5 1053 v2 M552.5 877 v2 M552.5 889.7 v-2 M552.5 1053 v2 M557.5 877 v2 M557.5 889.7 v-2 M557.5 1053 v2 M562.5 877 v2 M562.5 889.7 v-2 M562.5 1053 v2 M568.5 877 v2 M568.5 889.7 v-2 M568.5 1053 v2 M573.5 877 v2 M573.5 889.7 v-2 M573.5 1053 v2 M578.5 877 v2 M578.5 889.7 v-2 M578.5 1053 v2 M584.5 877 v2 M584.5 889.7 v-2 M584.5 1053 v2 M589.5 877 v2 M589.5 889.7 v-2 M589.5 1053 v2 M595.5 877 v2 M595.5 889.7 v-2 M595.5 1053 v2 M600.5 877 v2 M600.5 889.7 v-2 M600.5 1053 v2 M606.5 877 v2 M606.5 889.7 v-2 M606.5 1053 v2 M611.5 877 v2 M611.5 889.7 v-2 M611.5 1053 v2 M616.5 877 v2 M616.5 889.7 v-2 M616.5 1053 v2 M622.5 877 v2 M622.5 889.7 v-2 M622.5 1053 v2 M627.5 877 v2 M627.5 889.7 v-2 M627.5 1053 v2 M632.5 877 v2 M632.5 889.7 v-2 M632.5 1053 v2 M638.5 877 v2 M638.5 889.7 v-2 M638.5 1053 v2 M643.5 877 v2 M643.5 889.7 v-2 M643.5 1053 v2 M649.5 877 v2 M649.5 889.7 v-2 M649.5 1053 v2 M654.5 877 v2 M654.5 889.7 v-2 M654.5 1053 v2 M660.5 877 v2 M660.5 889.7 v-2 M660.5 1053 v2 M665.5 877 v2 M665.5 889.7 v-2 M665.5 1053 v2 M670.5 877 v2 M670.5 889.7 v-2 M670.5 1053 v2 M676.5 877 v2 M676.5 889.7 v-2 M676.5 1053 v2 M681.5 877 v2 M681.5 889.7 v-2 M681.5 1053 v2 M686.5 877 v2 M686.5 889.7 v-2 M686.5 1053 v2 M692.5 877 v2 M692.5 889.7 v-2 M692.5 1053 v2 M697.5 877 v2 M697.5 889.7 v-2 M697.5 1053 v2 M703.5 877 v2 M703.5 889.7 v-2 M703.5 1053 v2 M708.5 877 v2 M708.5 889.7 v-2 M708.5 1053 v2 M714.5 877 v2 M714.5 889.7 v-2 M714.5 1053 v2 M719.5 877 v2 M719.5 889.7 v-2 M719.5 1053 v2 M724.5 877 v2 M724.5 889.7 v-2 M724.5 1053 v2 M730.5 877 v2 M730.5 889.7 v-2 M730.5 1053 v2 M735.5 877 v2 M735.5 889.7 v-2 M735.5 1053 v2 M740.5 877 v2 M740.5 889.7 v-2 M740.5 1053 v2 M746.5 877 v2 M746.5 889.7 v-2 M746.5 1053 v2 M751.5 877 v2 M751.5 889.7 v-2 M751.5 1053 v2 M757.5 877 v2 M757.5 889.7 v-2 M757.5 1053 v2 M762.5 877 v2 M762.5 889.7 v-2 M762.5 1053 v2 M768.5 877 v2 M768.5 889.7 v-2 M768.5 1053 v2 M773.5 877 v2 M773.5 889.7 v-2 M773.5 1053 v2 M778.5 877 v2 M778.5 889.7 v-2 M778.5 1053 v2 M784.5 877 v2 M784.5 889.7 v-2 M784.5 1053 v2 M789.5 877 v2 M789.5 889.7 v-2 M789.5 1053 v2 M794.5 877 v2 M794.5 889.7 v-2 M794.5 1053 v2 M800.5 877 v2 M800.5 889.7 v-2 M800.5 1053 v2 M805.5 877 v2 M805.5 889.7 v-2 M805.5 1053 v2 M811.5 877 v2 M811.5 889.7 v-2 M811.5 1053 v2 M816.5 877 v2 M816.5 889.7 v-2 M816.5 1053 v2 M822.5 877 v2 M822.5 889.7 v-2 M822.5 1053 v2 M827.5 877 v2 M827.5 889.7 v-2 M827.5 1053 v2 M832.5 877 v2 M832.5 889.7 v-2 M832.5 1053 v2 M838.5 877 v2 M838.5 889.7 v-2 M838.5 1053 v2 M843.5 877 v2 M843.5 889.7 v-2 M843.5 1053 v2 M848.5 877 v2 M848.5 889.7 v-2 M848.5 1053 v2 M854.5 877 v2 M854.5 889.7 v-2 M854.5 1053 v2 M859.5 877 v2 M859.5 889.7 v-2 M859.5 1053 v2 M865.5 877 v2 M865.5 889.7 v-2 M865.5 1053 v2 M870.5 877 v2 M870.5 889.7 v-2 M870.5 1053 v2 M876.5 877 v2 M876.5 889.7 v-2 M876.5 1053 v2 M881.5 877 v2 M881.5 889.7 v-2 M881.5 1053 v2 M886.5 877 v2 M886.5 889.7 v-2 M886.5 1053 v2 M892.5 877 v2 M892.5 889.7 v-2 M892.5 1053 v2 M897.5 877 v2 M897.5 889.7 v-2 M897.5 1053 v2 M902.5 877 v2 M902.5 889.7 v-2 M902.5 1053 v2 M908.5 877 v2 M908.5 889.7 v-2 M908.5 1053 v2 M913.5 877 v2 M913.5 889.7 v-2 M913.5 1053 v2 M919.5 877 v2 M919.5 889.7 v-2 M919.5 1053 v2 M924.5 877 v2 M924.5 889.7 v-2 M924.5 1053 v2 M930.5 877 v2 M930.5 889.7 v-2 M930.5 1053 v2 M935.5 877 v2 M935.5 889.7 v-2 M935.5 1053 v2 M940.5 877 v2 M940.5 889.7 v-2 M940.5 1053 v2 M946.5 877 v2 M946.5 889.7 v-2 M946.5 1053 v2 M951.5 877 v2 M951.5 889.7 v-2 M951.5 1053 v2 M956.5 877 v2 M956.5 889.7 v-2 M956.5 1053 v2 M962.5 877 v2 M962.5 889.7 v-2 M962.5 1053 v2 M967.5 877 v2 M967.5 889.7 v-2 M967.5 1053 v2 M973.5 877 v2 M973.5 889.7 v-2 M973.5 1053 v2 M978.5 877 v2 M978.5 889.7 v-2 M978.5 1053 v2 M984.5 877 v2 M984.5 889.7 v-2 M984.5 1053 v2 M989.5 877 v2 M989.5 889.7 v-2 M989.5 1053 v2 M994.5 877 v2 M994.5 889.7 v-2 M994.5 1053 v2 M1000.5 877 v2 M1000.5 889.7 v-2 M1000.5 1053 v2 M1005.5 877 v2 M1005.5 889.7 v-2 M1005.5 1053 v2 M1010.5 877 v2 M1010.5 889.7 v-2 M1010.5 1053 v2 M1016.5 877 v2 M1016.5 889.7 v-2 M1016.5 1053 v2 M1021.5 877 v2 M1021.5 889.7 v-2 M1021.5 1053 v2 M1027.5 877 v2 M1027.5 889.7 v-2 M1027.5 1053 v2 M1032.5 877 v2 M1032.5 889.7 v-2 M1032.5 1053 v2 M1038.5 877 v2 M1038.5 889.7 v-2 M1038.5 1053 v2 M1043.5 877 v2 M1043.5 889.7 v-2 M1043.5 1053 v2 M1048.5 877 v2 M1048.5 889.7 v-2 M1048.5 1053 v2 M1054.5 877 v2 M1054.5 889.7 v-2 M1054.5 1053 v2 M1059.5 877 v2 M1059.5 889.7 v-2 M1059.5 1053 v2 M1064.5 877 v2 M1064.5 889.7 v-2 M1064.5 1053 v2 M1070.5 877 v2 M1070.5 889.7 v-2 M1070.5 1053 v2 M1075.5 877 v2 M1075.5 889.7 v-2 M1075.5 1053 v2 M1081.5 877 v2 M1081.5 889.7 v-2 M1081.5 1053 v2 M1086.5 877 v2 M1086.5 889.7 v-2 M1086.5 1053 v2 M1092.5 877 v2 M1092.5 889.7 v-2 M1092.5 1053 v2 M1097.5 877 v2 M1097.5 889.7 v-2 M1097.5 1053 v2 M1102.5 877 v2 M1102.5 889.7 v-2 M1102.5 1053 v2 M1108.5 877 v2 M1108.5 889.7 v-2 M1108.5 1053 v2 M1113.5 877 v2 M1113.5 889.7 v-2 M1113.5 1053 v2 M1119.5 877 v2 M1119.5 889.7 v-2 M1119.5 1053 v2 M1124.5 877 v2 M1124.5 889.7 v-2 M1124.5 1053 v2 M1129.5 877 v2 M1129.5 889.7 v-2 M1129.5 1053 v2 M1135.5 877 v2 M1135.5 889.7 v-2 M1135.5 1053 v2 M1140.5 877 v2 M1140.5 889.7 v-2 M1140.5 1053 v2 M1146.5 877 v2 M1146.5 889.7 v-2 M1146.5 1053 v2 M1151.5 877 v2 M1151.5 889.7 v-2 M1151.5 1053 v2 M1156.5 877 v2 M1156.5 889.7 v-2 M1156.5 1053 v2" stroke="#c49a9a" stroke-width="1" fill="none"/>
<text x="43.5" y="885.8" class="s" font-size="9.5" fill="#222" text-anchor="middle">23</text>
<text x="82.2" y="885.8" class="s" font-size="10" font-weight="bold" fill="#111" text-anchor="middle">Aug</text>
<text x="98.4" y="885.8" class="s" font-size="9.5" fill="#222" text-anchor="middle">6</text>
<text x="125.4" y="885.8" class="s" font-size="9.5" fill="#222" text-anchor="middle">13</text>
<text x="152.4" y="885.8" class="s" font-size="9.5" fill="#222" text-anchor="middle">20</text>
<text x="179.4" y="885.8" class="s" font-size="9.5" fill="#222" text-anchor="middle">27</text>
<text x="206.4" y="885.8" class="s" font-size="10" font-weight="bold" fill="#111" text-anchor="middle">Sep</text>
<text x="228" y="885.8" class="s" font-size="9.5" fill="#222" text-anchor="middle">10</text>
<text x="255" y="885.8" class="s" font-size="9.5" fill="#222" text-anchor="middle">17</text>
<text x="282" y="885.8" class="s" font-size="9.5" fill="#222" text-anchor="middle">24</text>
<text x="309" y="885.8" class="s" font-size="10" font-weight="bold" fill="#111" text-anchor="middle">Oct</text>
<text x="336" y="885.8" class="s" font-size="9.5" fill="#222" text-anchor="middle">8</text>
<text x="363" y="885.8" class="s" font-size="9.5" fill="#222" text-anchor="middle">15</text>
<text x="390" y="885.8" class="s" font-size="9.5" fill="#222" text-anchor="middle">22</text>
<text x="417" y="885.8" class="s" font-size="9.5" fill="#222" text-anchor="middle">29</text>
<text x="433.2" y="885.8" class="s" font-size="10" font-weight="bold" fill="#111" text-anchor="middle">Nov</text>
<text x="444" y="885.8" class="s" font-size="9.5" fill="#222" text-anchor="middle">5</text>
<text x="471" y="885.8" class="s" font-size="9.5" fill="#222" text-anchor="middle">12</text>
<text x="498" y="885.8" class="s" font-size="9.5" fill="#222" text-anchor="middle">19</text>
<text x="519.6" y="885.8" class="s" font-size="9.5" fill="#222" text-anchor="middle">26</text>
<text x="546.6" y="885.8" class="s" font-size="10" font-weight="bold" fill="#111" text-anchor="middle">Dec</text>
<text x="568.2" y="885.8" class="s" font-size="9.5" fill="#222" text-anchor="middle">10</text>
<text x="595.2" y="885.8" class="s" font-size="9.5" fill="#222" text-anchor="middle">17</text>
<text x="622.2" y="885.8" class="s" font-size="9.5" fill="#222" text-anchor="middle">24</text>
<text x="649.2" y="885.8" class="s" font-size="10" font-weight="bold" fill="#111" text-anchor="middle">2019</text>
<text x="665.4" y="885.8" class="s" font-size="9.5" fill="#222" text-anchor="middle">7</text>
<text x="692.4" y="885.8" class="s" font-size="9.5" fill="#222" text-anchor="middle">14</text>
<text x="719.4" y="885.8" class="s" font-size="9.5" fill="#222" text-anchor="middle">22</text>
<text x="741" y="885.8" class="s" font-size="9.5" fill="#222" text-anchor="middle">28</text>
<text x="762.6" y="885.8" class="s" font-size="10" font-weight="bold" fill="#111" text-anchor="middle">Feb</text>
<text x="795" y="885.8" class="s" font-size="9.5" fill="#222" text-anchor="middle">11</text>
<text x="822" y="885.8" class="s" font-size="9.5" fill="#222" text-anchor="middle">19</text>
<text x="843.6" y="885.8" class="s" font-size="9.5" fill="#222" text-anchor="middle">25</text>
<text x="865.2" y="885.8" class="s" font-size="10" font-weight="bold" fill="#111" text-anchor="middle">Mar</text>
<text x="897.6" y="885.8" class="s" font-size="9.5" fill="#222" text-anchor="middle">11</text>
<text x="924.6" y="885.8" class="s" font-size="9.5" fill="#222" text-anchor="middle">18</text>
<text x="951.6" y="885.8" class="s" font-size="9.5" fill="#222" text-anchor="middle">25</text>
<text x="978.6" y="885.8" class="s" font-size="10" font-weight="bold" fill="#111" text-anchor="middle">Apr</text>
<text x="1005.6" y="885.8" class="s" font-size="9.5" fill="#222" text-anchor="middle">8</text>
<text x="1032.6" y="885.8" class="s" font-size="9.5" fill="#222" text-anchor="middle">15</text>
<text x="1054.2" y="885.8" class="s" font-size="9.5" fill="#222" text-anchor="middle">22</text>
<text x="1092" y="885.8" class="s" font-size="10" font-weight="bold" fill="#111" text-anchor="middle">May</text>
<text x="1108.2" y="885.8" class="s" font-size="9.5" fill="#222" text-anchor="middle">6</text>
<text x="1135.2" y="885.8" class="s" font-size="9.5" fill="#222" text-anchor="middle">13</text>
<text x="43.5" y="1062.2" class="s" font-size="9.5" fill="#222" text-anchor="middle">23</text>
<text x="82.2" y="1062.2" class="s" font-size="10" font-weight="bold" fill="#111" text-anchor="middle">Aug</text>
<text x="98.4" y="1062.2" class="s" font-size="9.5" fill="#222" text-anchor="middle">6</text>
<text x="125.4" y="1062.2" class="s" font-size="9.5" fill="#222" text-anchor="middle">13</text>
<text x="152.4" y="1062.2" class="s" font-size="9.5" fill="#222" text-anchor="middle">20</text>
<text x="179.4" y="1062.2" class="s" font-size="9.5" fill="#222" text-anchor="middle">27</text>
<text x="206.4" y="1062.2" class="s" font-size="10" font-weight="bold" fill="#111" text-anchor="middle">Sep</text>
<text x="228" y="1062.2" class="s" font-size="9.5" fill="#222" text-anchor="middle">10</text>
<text x="255" y="1062.2" class="s" font-size="9.5" fill="#222" text-anchor="middle">17</text>
<text x="282" y="1062.2" class="s" font-size="9.5" fill="#222" text-anchor="middle">24</text>
<text x="309" y="1062.2" class="s" font-size="10" font-weight="bold" fill="#111" text-anchor="middle">Oct</text>
<text x="336" y="1062.2" class="s" font-size="9.5" fill="#222" text-anchor="middle">8</text>
<text x="363" y="1062.2" class="s" font-size="9.5" fill="#222" text-anchor="middle">15</text>
<text x="390" y="1062.2" class="s" font-size="9.5" fill="#222" text-anchor="middle">22</text>
<text x="417" y="1062.2" class="s" font-size="9.5" fill="#222" text-anchor="middle">29</text>
<text x="433.2" y="1062.2" class="s" font-size="10" font-weight="bold" fill="#111" text-anchor="middle">Nov</text>
<text x="444" y="1062.2" class="s" font-size="9.5" fill="#222" text-anchor="middle">5</text>
<text x="471" y="1062.2" class="s" font-size="9.5" fill="#222" text-anchor="middle">12</text>
<text x="498" y="1062.2" class="s" font-size="9.5" fill="#222" text-anchor="middle">19</text>
<text x="519.6" y="1062.2" class="s" font-size="9.5" fill="#222" text-anchor="middle">26</text>
<text x="546.6" y="1062.2" class="s" font-size="10" font-weight="bold" fill="#111" text-anchor="middle">Dec</text>
<text x="568.2" y="1062.2" class="s" font-size="9.5" fill="#222" text-anchor="middle">10</text>
<text x="595.2" y="1062.2" class="s" font-size="9.5" fill="#222" text-anchor="middle">17</text>
<text x="622.2" y="1062.2" class="s" font-size="9.5" fill="#222" text-anchor="middle">24</text>
<text x="649.2" y="1062.2" class="s" font-size="10" font-weight="bold" fill="#111" text-anchor="middle">2019</text>
<text x="665.4" y="1062.2" class="s" font-size="9.5" fill="#222" text-anchor="middle">7</text>
<text x="692.4" y="1062.2" class="s" font-size="9.5" fill="#222" text-anchor="middle">14</text>
<text x="719.4" y="1062.2" class="s" font-size="9.5" fill="#222" text-anchor="middle">22</text>
<text x="741" y="1062.2" class="s" font-size="9.5" fill="#222" text-anchor="middle">28</text>
<text x="762.6" y="1062.2" class="s" font-size="10" font-weight="bold" fill="#111" text-anchor="middle">Feb</text>
<text x="795" y="1062.2" class="s" font-size="9.5" fill="#222" text-anchor="middle">11</text>
<text x="822" y="1062.2" class="s" font-size="9.5" fill="#222" text-anchor="middle">19</text>
<text x="843.6" y="1062.2" class="s" font-size="9.5" fill="#222" text-anchor="middle">25</text>
<text x="865.2" y="1062.2" class="s" font-size="10" font-weight="bold" fill="#111" text-anchor="middle">Mar</text>
<text x="897.6" y="1062.2" class="s" font-size="9.5" fill="#222" text-anchor="middle">11</text>
<text x="924.6" y="1062.2" class="s" font-size="9.5" fill="#222" text-anchor="middle">18</text>
<text x="951.6" y="1062.2" class="s" font-size="9.5" fill="#222" text-anchor="middle">25</text>
<text x="978.6" y="1062.2" class="s" font-size="10" font-weight="bold" fill="#111" text-anchor="middle">Apr</text>
<text x="1005.6" y="1062.2" class="s" font-size="9.5" fill="#222" text-anchor="middle">8</text>
<text x="1032.6" y="1062.2" class="s" font-size="9.5" fill="#222" text-anchor="middle">15</text>
<text x="1054.2" y="1062.2" class="s" font-size="9.5" fill="#222" text-anchor="middle">22</text>
<text x="1092" y="1062.2" class="s" font-size="10" font-weight="bold" fill="#111" text-anchor="middle">May</text>
<text x="1108.2" y="1062.2" class="s" font-size="9.5" fill="#222" text-anchor="middle">6</text>
<text x="1135.2" y="1062.2" class="s" font-size="9.5" fill="#222" text-anchor="middle">13</text>
<line x1="1158.5" y1="118.5" x2="1161.5" y2="118.5" stroke="#c9a5a5" stroke-width="1"/>
<text x="1161.5" y="120.7" class="s" font-size="9.6" fill="#222">80</text>
<line x1="1158.5" y1="282.5" x2="1161.5" y2="282.5" stroke="#c9a5a5" stroke-width="1"/>
<text x="1161.5" y="284.8" class="s" font-size="9.6" fill="#222">80</text>
<line x1="1158.5" y1="164.5" x2="1161.5" y2="164.5" stroke="#c9a5a5" stroke-width="1"/>
<text x="1161.5" y="166.3" class="s" font-size="9.6" fill="#222">50</text>
<line x1="1158.5" y1="328.5" x2="1161.5" y2="328.5" stroke="#c9a5a5" stroke-width="1"/>
<text x="1161.5" y="330.3" class="s" font-size="9.6" fill="#222">50</text>
<line x1="1158.5" y1="209.5" x2="1161.5" y2="209.5" stroke="#c9a5a5" stroke-width="1"/>
<text x="1161.5" y="211.9" class="s" font-size="9.6" fill="#222">20</text>
<line x1="1158.5" y1="373.5" x2="1161.5" y2="373.5" stroke="#c9a5a5" stroke-width="1"/>
<text x="1161.5" y="375.8" class="s" font-size="9.6" fill="#222">20</text>
<path d="M1158.5 240.5 h2 M1158.5 403.5 h2 M1158.5 224.5 h2 M1158.5 388.5 h2 M1158.5 209.5 h2 M1158.5 373.5 h2 M1158.5 194.5 h2 M1158.5 358.5 h2 M1158.5 179.5 h2 M1158.5 343.5 h2 M1158.5 164.5 h2 M1158.5 328.5 h2 M1158.5 148.5 h2 M1158.5 312.5 h2 M1158.5 133.5 h2 M1158.5 297.5 h2 M1158.5 118.5 h2 M1158.5 282.5 h2 M1158.5 103.5 h2 M1158.5 267.5 h2 M1158.5 88.5 h2 M1158.5 252.5 h2" stroke="#c9a5a5" stroke-width="1" fill="none"/>
<line x1="1158.5" y1="866.5" x2="1161.5" y2="866.5" stroke="#c9a5a5" stroke-width="1"/>
<text x="1161.5" y="868" class="s" font-size="9.6" fill="#222">42</text>
<line x1="1158.5" y1="848.5" x2="1161.5" y2="848.5" stroke="#c9a5a5" stroke-width="1"/>
<text x="1161.5" y="850.9" class="s" font-size="9.6" fill="#222">43</text>
<line x1="1158.5" y1="832.5" x2="1161.5" y2="832.5" stroke="#c9a5a5" stroke-width="1"/>
<text x="1161.5" y="834.2" class="s" font-size="9.6" fill="#222">44</text>
<line x1="1158.5" y1="815.5" x2="1161.5" y2="815.5" stroke="#c9a5a5" stroke-width="1"/>
<text x="1161.5" y="817.9" class="s" font-size="9.6" fill="#222">45</text>
<line x1="1158.5" y1="799.5" x2="1161.5" y2="799.5" stroke="#c9a5a5" stroke-width="1"/>
<text x="1161.5" y="802" class="s" font-size="9.6" fill="#222">46</text>
<line x1="1158.5" y1="784.5" x2="1161.5" y2="784.5" stroke="#c9a5a5" stroke-width="1"/>
<text x="1161.5" y="786.4" class="s" font-size="9.6" fill="#222">47</text>
<line x1="1158.5" y1="769.5" x2="1161.5" y2="769.5" stroke="#c9a5a5" stroke-width="1"/>
<text x="1161.5" y="771.1" class="s" font-size="9.6" fill="#222">48</text>
<line x1="1158.5" y1="754.5" x2="1161.5" y2="754.5" stroke="#c9a5a5" stroke-width="1"/>
<text x="1161.5" y="756.2" class="s" font-size="9.6" fill="#222">49</text>
<line x1="1158.5" y1="739.5" x2="1161.5" y2="739.5" stroke="#c9a5a5" stroke-width="1"/>
<text x="1161.5" y="741.5" class="s" font-size="9.6" fill="#222">50</text>
<line x1="1158.5" y1="725.5" x2="1161.5" y2="725.5" stroke="#c9a5a5" stroke-width="1"/>
<text x="1161.5" y="727.1" class="s" font-size="9.6" fill="#222">51</text>
<line x1="1158.5" y1="711.5" x2="1161.5" y2="711.5" stroke="#c9a5a5" stroke-width="1"/>
<text x="1161.5" y="713.1" class="s" font-size="9.6" fill="#222">52</text>
<line x1="1158.5" y1="697.5" x2="1161.5" y2="697.5" stroke="#c9a5a5" stroke-width="1"/>
<text x="1161.5" y="699.2" class="s" font-size="9.6" fill="#222">53</text>
<line x1="1158.5" y1="683.5" x2="1161.5" y2="683.5" stroke="#c9a5a5" stroke-width="1"/>
<text x="1161.5" y="685.7" class="s" font-size="9.6" fill="#222">54</text>
<line x1="1158.5" y1="670.5" x2="1161.5" y2="670.5" stroke="#c9a5a5" stroke-width="1"/>
<text x="1161.5" y="672.4" class="s" font-size="9.6" fill="#222">55</text>
<line x1="1158.5" y1="657.5" x2="1161.5" y2="657.5" stroke="#c9a5a5" stroke-width="1"/>
<text x="1161.5" y="659.3" class="s" font-size="9.6" fill="#222">56</text>
<line x1="1158.5" y1="644.5" x2="1161.5" y2="644.5" stroke="#c9a5a5" stroke-width="1"/>
<text x="1161.5" y="646.4" class="s" font-size="9.6" fill="#222">57</text>
<line x1="1158.5" y1="631.5" x2="1161.5" y2="631.5" stroke="#c9a5a5" stroke-width="1"/>
<text x="1161.5" y="633.8" class="s" font-size="9.6" fill="#222">58</text>
<line x1="1158.5" y1="619.5" x2="1161.5" y2="619.5" stroke="#c9a5a5" stroke-width="1"/>
<text x="1161.5" y="621.4" class="s" font-size="9.6" fill="#222">59</text>
<line x1="1158.5" y1="607.5" x2="1161.5" y2="607.5" stroke="#c9a5a5" stroke-width="1"/>
<text x="1161.5" y="609.2" class="s" font-size="9.6" fill="#222">60</text>
<line x1="1158.5" y1="595.5" x2="1161.5" y2="595.5" stroke="#c9a5a5" stroke-width="1"/>
<text x="1161.5" y="597.2" class="s" font-size="9.6" fill="#222">61</text>
<line x1="1158.5" y1="583.5" x2="1161.5" y2="583.5" stroke="#c9a5a5" stroke-width="1"/>
<text x="1161.5" y="585.4" class="s" font-size="9.6" fill="#222">62</text>
<line x1="1158.5" y1="571.5" x2="1161.5" y2="571.5" stroke="#c9a5a5" stroke-width="1"/>
<text x="1161.5" y="573.8" class="s" font-size="9.6" fill="#222">63</text>
<line x1="1158.5" y1="560.5" x2="1161.5" y2="560.5" stroke="#c9a5a5" stroke-width="1"/>
<text x="1161.5" y="562.4" class="s" font-size="9.6" fill="#222">64</text>
<line x1="1158.5" y1="549.5" x2="1161.5" y2="549.5" stroke="#c9a5a5" stroke-width="1"/>
<text x="1161.5" y="551.2" class="s" font-size="9.6" fill="#222">65</text>
<line x1="1158.5" y1="538.5" x2="1161.5" y2="538.5" stroke="#c9a5a5" stroke-width="1"/>
<text x="1161.5" y="540.1" class="s" font-size="9.6" fill="#222">66</text>
<line x1="1158.5" y1="527.5" x2="1161.5" y2="527.5" stroke="#c9a5a5" stroke-width="1"/>
<text x="1161.5" y="529.2" class="s" font-size="9.6" fill="#222">67</text>
<line x1="1158.5" y1="516.5" x2="1161.5" y2="516.5" stroke="#c9a5a5" stroke-width="1"/>
<text x="1161.5" y="518.4" class="s" font-size="9.6" fill="#222">68</text>
<line x1="1158.5" y1="505.5" x2="1161.5" y2="505.5" stroke="#c9a5a5" stroke-width="1"/>
<text x="1161.5" y="507.8" class="s" font-size="9.6" fill="#222">69</text>
<line x1="1158.5" y1="495.5" x2="1161.5" y2="495.5" stroke="#c9a5a5" stroke-width="1"/>
<text x="1161.5" y="497.4" class="s" font-size="9.6" fill="#222">70</text>
<line x1="1158.5" y1="485.5" x2="1161.5" y2="485.5" stroke="#c9a5a5" stroke-width="1"/>
<text x="1161.5" y="487.1" class="s" font-size="9.6" fill="#222">71</text>
<line x1="1158.5" y1="474.5" x2="1161.5" y2="474.5" stroke="#c9a5a5" stroke-width="1"/>
<text x="1161.5" y="477" class="s" font-size="9.6" fill="#222">72</text>
<line x1="1158.5" y1="464.5" x2="1161.5" y2="464.5" stroke="#c9a5a5" stroke-width="1"/>
<text x="1161.5" y="467" class="s" font-size="9.6" fill="#222">73</text>
<line x1="1158.5" y1="455.5" x2="1161.5" y2="455.5" stroke="#c9a5a5" stroke-width="1"/>
<text x="1161.5" y="457.1" class="s" font-size="9.6" fill="#222">74</text>
<line x1="1158.5" y1="445.5" x2="1161.5" y2="445.5" stroke="#c9a5a5" stroke-width="1"/>
<text x="1161.5" y="447.3" class="s" font-size="9.6" fill="#222">75</text>
<line x1="1158.5" y1="435.5" x2="1161.5" y2="435.5" stroke="#c9a5a5" stroke-width="1"/>
<text x="1161.5" y="437.7" class="s" font-size="9.6" fill="#222">76</text>
<line x1="1158.5" y1="426.5" x2="1161.5" y2="426.5" stroke="#c9a5a5" stroke-width="1"/>
<text x="1161.5" y="428.2" class="s" font-size="9.6" fill="#222">77</text>
<line x1="1158.5" y1="1039.5" x2="1161.5" y2="1039.5" stroke="#c49a9a" stroke-width="1"/>
<text x="1161" y="1042.9" class="s" font-size="9.3" fill="#222">-4.0</text>
<line x1="1158.5" y1="1026.5" x2="1161.5" y2="1026.5" stroke="#c49a9a" stroke-width="1"/>
<text x="1161" y="1030.3" class="s" font-size="9.3" fill="#222">-3.5</text>
<line x1="1158.5" y1="1014.5" x2="1161.5" y2="1014.5" stroke="#c49a9a" stroke-width="1"/>
<text x="1161" y="1017.7" class="s" font-size="9.3" fill="#222">-3.0</text>
<line x1="1158.5" y1="1001.5" x2="1161.5" y2="1001.5" stroke="#c49a9a" stroke-width="1"/>
<text x="1161" y="1005.1" class="s" font-size="9.3" fill="#222">-2.5</text>
<line x1="1158.5" y1="989.5" x2="1161.5" y2="989.5" stroke="#c49a9a" stroke-width="1"/>
<text x="1161" y="992.5" class="s" font-size="9.3" fill="#222">-2.0</text>
<line x1="1158.5" y1="976.5" x2="1161.5" y2="976.5" stroke="#c49a9a" stroke-width="1"/>
<text x="1161" y="980" class="s" font-size="9.3" fill="#222">-1.5</text>
<line x1="1158.5" y1="964.5" x2="1161.5" y2="964.5" stroke="#c49a9a" stroke-width="1"/>
<text x="1161" y="967.4" class="s" font-size="9.3" fill="#222">-1.0</text>
<line x1="1158.5" y1="951.5" x2="1161.5" y2="951.5" stroke="#c49a9a" stroke-width="1"/>
<text x="1161" y="954.8" class="s" font-size="9.3" fill="#222">-0.5</text>
<line x1="1158.5" y1="938.5" x2="1161.5" y2="938.5" stroke="#c49a9a" stroke-width="1"/>
<text x="1164.3" y="942.2" class="s" font-size="9.3" fill="#222">0.0</text>
<line x1="1158.5" y1="926.5" x2="1161.5" y2="926.5" stroke="#c49a9a" stroke-width="1"/>
<text x="1164.3" y="929.6" class="s" font-size="9.3" fill="#222">0.5</text>
<line x1="1158.5" y1="913.5" x2="1161.5" y2="913.5" stroke="#c49a9a" stroke-width="1"/>
<text x="1164.3" y="917" class="s" font-size="9.3" fill="#222">1.0</text>
<line x1="1158.5" y1="901.5" x2="1161.5" y2="901.5" stroke="#c49a9a" stroke-width="1"/>
<text x="1164.3" y="904.4" class="s" font-size="9.3" fill="#222">1.5</text>
<line x1="39.5" y1="850.5" x2="41.5" y2="850.5" stroke="#c49a9a" stroke-width="1"/>
<text x="39" y="854.3" class="s" font-size="9.3" fill="#222" text-anchor="end">20M</text>
<line x1="39.5" y1="826.5" x2="41.5" y2="826.5" stroke="#c49a9a" stroke-width="1"/>
<text x="39" y="829.5" class="s" font-size="9.3" fill="#222" text-anchor="end">40M</text>
<line x1="39.5" y1="801.5" x2="41.5" y2="801.5" stroke="#c49a9a" stroke-width="1"/>
<text x="39" y="804.7" class="s" font-size="9.3" fill="#222" text-anchor="end">60M</text>
<line x1="39.5" y1="776.5" x2="41.5" y2="776.5" stroke="#c49a9a" stroke-width="1"/>
<text x="39" y="779.9" class="s" font-size="9.3" fill="#222" text-anchor="end">80M</text>
<line x1="39.5" y1="751.5" x2="41.5" y2="751.5" stroke="#c49a9a" stroke-width="1"/>
<text x="39" y="755.1" class="s" font-size="9.3" fill="#222" text-anchor="end">100M</text>
<line x1="39.5" y1="726.5" x2="41.5" y2="726.5" stroke="#c49a9a" stroke-width="1"/>
<text x="39" y="730.3" class="s" font-size="9.3" fill="#222" text-anchor="end">120M</text>
<text x="42" y="13.8" class="s" font-size="12.4" font-weight="bold" fill="#111" textLength="36" lengthAdjust="spacingAndGlyphs"  xml:space="preserve">$WTIC</text>
<text x="80.6" y="13.3" class="s" font-size="10.2" fill="#111" textLength="189" lengthAdjust="spacingAndGlyphs"  xml:space="preserve">Light Crude Oil - Continuous Contract (EOD)</text>
<text x="274.6" y="13.2" class="s" font-size="8" fill="#111" textLength="18" lengthAdjust="spacingAndGlyphs"  xml:space="preserve">CME</text>
<text x="1158" y="12.8" class="s" font-size="9.3" fill="#444" text-anchor="end" textLength="80" lengthAdjust="spacingAndGlyphs"  xml:space="preserve">©StockCharts.com</text>
<text x="46.2" y="39.8" class="s" font-size="10.2" fill="#111" textLength="25.3" lengthAdjust="spacingAndGlyphs"  xml:space="preserve">Open:</text>
<text x="101.2" y="40.3" class="s" font-size="11.5" font-weight="bold" fill="#111" textLength="26.8" lengthAdjust="spacingAndGlyphs"  xml:space="preserve">53.17</text>
<text x="162" y="39.8" class="s" font-size="10.2" fill="#111" textLength="18.5" lengthAdjust="spacingAndGlyphs"  xml:space="preserve">Ask:</text>
<text x="249.5" y="39.8" class="s" font-size="10.2" fill="#111" textLength="17.5" lengthAdjust="spacingAndGlyphs"  xml:space="preserve">P/E:</text>
<text x="339" y="39.8" class="s" font-size="10.2" fill="#111" textLength="35" lengthAdjust="spacingAndGlyphs"  xml:space="preserve">Options:</text>
<text x="422.3" y="40.1" class="s" font-size="10.8" font-weight="bold" fill="#111" textLength="11.7" lengthAdjust="spacingAndGlyphs"  xml:space="preserve">no</text>
<text x="46.2" y="52.8" class="s" font-size="10.2" fill="#111" textLength="24" lengthAdjust="spacingAndGlyphs"  xml:space="preserve">High:</text>
<text x="101.2" y="53.3" class="s" font-size="11.5" font-weight="bold" fill="#111" textLength="26.8" lengthAdjust="spacingAndGlyphs"  xml:space="preserve">53.94</text>
<text x="162" y="52.8" class="s" font-size="10.2" fill="#111" textLength="39.3" lengthAdjust="spacingAndGlyphs"  xml:space="preserve">Ask Size:</text>
<text x="249.5" y="52.8" class="s" font-size="10.2" fill="#111" textLength="20.5" lengthAdjust="spacingAndGlyphs"  xml:space="preserve">EPS:</text>
<text x="339" y="52.8" class="s" font-size="10.2" fill="#111" textLength="72" lengthAdjust="spacingAndGlyphs"  xml:space="preserve">Annual Dividend:</text>
<text x="417" y="53.1" class="s" font-size="10.8" font-weight="bold" fill="#111" textLength="17" lengthAdjust="spacingAndGlyphs"  xml:space="preserve">N/A</text>
<text x="46.2" y="65.8" class="s" font-size="10.2" fill="#111" textLength="22.3" lengthAdjust="spacingAndGlyphs"  xml:space="preserve">Low:</text>
<text x="101.2" y="66.3" class="s" font-size="11.5" font-weight="bold" fill="#111" textLength="26.8" lengthAdjust="spacingAndGlyphs"  xml:space="preserve">52.91</text>
<text x="162" y="65.8" class="s" font-size="10.2" fill="#111" textLength="16.5" lengthAdjust="spacingAndGlyphs"  xml:space="preserve">Bid:</text>
<text x="249.5" y="65.8" class="s" font-size="10.2" fill="#111" textLength="41.8" lengthAdjust="spacingAndGlyphs"  xml:space="preserve">Last Size:</text>
<text x="339" y="65.8" class="s" font-size="10.2" fill="#111" textLength="24.3" lengthAdjust="spacingAndGlyphs"  xml:space="preserve">Yield:</text>
<text x="417" y="66.1" class="s" font-size="10.8" font-weight="bold" fill="#111" textLength="17" lengthAdjust="spacingAndGlyphs"  xml:space="preserve">N/A</text>
<text x="46.2" y="78.8" class="s" font-size="10.2" fill="#111" textLength="48.2" lengthAdjust="spacingAndGlyphs"  xml:space="preserve">Prev Close:</text>
<text x="101.2" y="79.3" class="s" font-size="11.5" font-weight="bold" fill="#111" textLength="26.8" lengthAdjust="spacingAndGlyphs"  xml:space="preserve">53.13</text>
<text x="162" y="78.8" class="s" font-size="10.2" fill="#111" textLength="36.6" lengthAdjust="spacingAndGlyphs"  xml:space="preserve">Bid Size:</text>
<text x="249.5" y="78.8" class="s" font-size="10.2" fill="#111" textLength="31.5" lengthAdjust="spacingAndGlyphs"  xml:space="preserve">VWAP:</text>
<text x="339" y="78.8" class="s" font-size="10.2" fill="#111" textLength="27.5" lengthAdjust="spacingAndGlyphs"  xml:space="preserve">SCTR:</text>
<text x="1152" y="27.4" class="s" font-size="10.2" fill="#111" text-anchor="end" textLength="87" lengthAdjust="spacingAndGlyphs"  xml:space="preserve">Friday  25-Jan-2019</text>
<polygon points="1063.7,31.3 1069.2,41 1058.2,41" fill="#1f7a3a"/>
<text x="1152" y="41.3" class="s" font-size="12.8" font-weight="bold" fill="#2b7a3d" text-anchor="end" textLength="44" lengthAdjust="spacingAndGlyphs"  xml:space="preserve">+1.05%</text>
<text x="1056.5" y="52.9" class="s" font-size="10.2" fill="#111" textLength="19.5" lengthAdjust="spacingAndGlyphs"  xml:space="preserve">Chg:</text>
<text x="1152" y="53.3" class="s" font-size="11.5" font-weight="bold" fill="#111" text-anchor="end" textLength="27.5" lengthAdjust="spacingAndGlyphs"  xml:space="preserve">+0.56</text>
<text x="1056.5" y="65.9" class="s" font-size="10.2" fill="#111" textLength="21" lengthAdjust="spacingAndGlyphs"  xml:space="preserve">Last:</text>
<text x="1152" y="66.3" class="s" font-size="11.5" font-weight="bold" fill="#111" text-anchor="end" textLength="26.8" lengthAdjust="spacingAndGlyphs"  xml:space="preserve">53.69</text>
<text x="1056.5" y="78.9" class="s" font-size="10.2" fill="#111" textLength="35" lengthAdjust="spacingAndGlyphs"  xml:space="preserve">Volume:</text>
<text x="1152" y="79.3" class="s" font-size="11.5" font-weight="bold" fill="#111" text-anchor="end" textLength="54" lengthAdjust="spacingAndGlyphs"  xml:space="preserve">58,755,900</text>
<path d="M44.2 90.8 l2.4 -6.4 l1.9 3.1 l1.5 -2.9 l1.6 6.2 z" fill="#5f8f4c" stroke="#243f24" stroke-width="0.9"/>
<text x="55" y="91.3" class="m" font-size="9.5" fill="#222" textLength="71.3" lengthAdjust="spacingAndGlyphs" xml:space="preserve">MFI(14) 68.38</text>
<rect x="44.5" y="250.3" width="7.5" height="2" fill="#111"/>
<text x="55" y="254.4" class="m" font-size="9.5" fill="#222" textLength="190.3" lengthAdjust="spacingAndGlyphs" xml:space="preserve">Slow STO %K(60) %D(3) 42.15, <tspan fill="#e82a1c">41.64</tspan></text>
<rect x="44.5" y="894.3" width="7.5" height="2" fill="#111"/>
<text x="55" y="898.5" class="m" font-size="9.5" fill="#222" textLength="179.6" lengthAdjust="spacingAndGlyphs" xml:space="preserve">MACD(12,26,9) 0.777<tspan fill="#e82a1c">, 0.198</tspan><tspan fill="#4a98c8">, 0.579</tspan></text>
<rect x="42.5" y="410.5" width="118" height="10.5" fill="rgba(252,248,225,0.4)"/>
<rect x="42.5" y="421" width="70" height="39" fill="rgba(252,248,225,0.4)"/>
<rect x="42.5" y="460" width="136" height="20.5" fill="rgba(250,246,222,0.6)"/>
<path d="M45.5 412.5 v8 M48.5 412 v8 M50.5 412.5 v7.5" stroke="#111" stroke-width="1.2" fill="none"/><rect x="44.7" y="414" width="1.8" height="4" fill="#111"/><rect x="47.5" y="413.5" width="2" height="5" fill="#fff" stroke="#111" stroke-width="0.7"/>
<text x="55.3" y="419" class="m" font-size="9.5" fill="#111" textLength="102.8" lengthAdjust="spacingAndGlyphs" xml:space="preserve">$WTIC (Daily) 53.69</text>
<rect x="44.5" y="424.8" width="7.5" height="1.6" fill="#2a2a9a"/>
<text x="53.7" y="428.6" class="s" font-size="9.3" fill="#2a2a9a" textLength="52.3" lengthAdjust="spacingAndGlyphs">MA(20) 50.28</text>
<rect x="44.5" y="434.6" width="7.5" height="1.6" fill="#d0203e"/>
<text x="53.7" y="438.4" class="s" font-size="9.3" fill="#d0203e" textLength="57.3" lengthAdjust="spacingAndGlyphs">EMA(50) 53.07</text>
<rect x="44.5" y="444.4" width="7.5" height="1.6" fill="#f428e6"/>
<text x="53.7" y="448.2" class="s" font-size="9.3" fill="#f428e6" textLength="56.5" lengthAdjust="spacingAndGlyphs">MA(200) 64.42</text>
<rect x="44.5" y="454.2" width="2.5" height="1.6" fill="#1f7524"/><rect x="49" y="454.2" width="2.5" height="1.6" fill="#1f7524"/>
<text x="53.7" y="458" class="s" font-size="9.3" fill="#1f7524" textLength="57.3" lengthAdjust="spacingAndGlyphs">EMA(10) 52.42</text>
<path d="M44 469 l3 -6.5 l2 3 l2 -2.5 v6 z" fill="#aab4be"/>
<text x="53.5" y="467.8" class="s" font-size="9.3" fill="#8a9bab" textLength="123" lengthAdjust="spacingAndGlyphs">BB(10,1.9) 50.69 - 52.54 - 54.38</text>
<path d="M44.8 478 v-3.2 M46.7 478 v-5.6 M48.6 478 v-4.4 M50.5 478 v-6" stroke="#555" stroke-width="1.3" fill="none"/>
<text x="53.5" y="477.4" class="s" font-size="9.3" fill="#666" textLength="72.5" lengthAdjust="spacingAndGlyphs">Volume 58,755,900</text>
<rect x="800.5" y="648.5" width="316" height="57" fill="#9a9488" fill-opacity="0.7"/>
<rect x="798.5" y="646.5" width="316" height="56.5" fill="#fff" stroke="#8d8d8d" stroke-width="1"/>
<polygon points="799.2,670.3 763,674.4 799.2,678" fill="#fff"/>
<path d="M799 670.3 L763 674.4 L799 678" fill="none" stroke="#8d8d8d" stroke-width="0.9"/>
<text x="801" y="662" class="s" font-size="14.15" font-weight="bold" fill="#117a3c"  xml:space="preserve">If we are going to see a decline back to or</text>
<text x="801" y="679" class="s" font-size="14.15" font-weight="bold" fill="#117a3c"  xml:space="preserve">below $42.00 in February, I'd prefer to see this</text>
<text x="801" y="696" class="s" font-size="14.15" font-weight="bold" fill="#117a3c"  xml:space="preserve">rebound stay below $55.00 - $56.00.</text>
</svg>
</body></html>
